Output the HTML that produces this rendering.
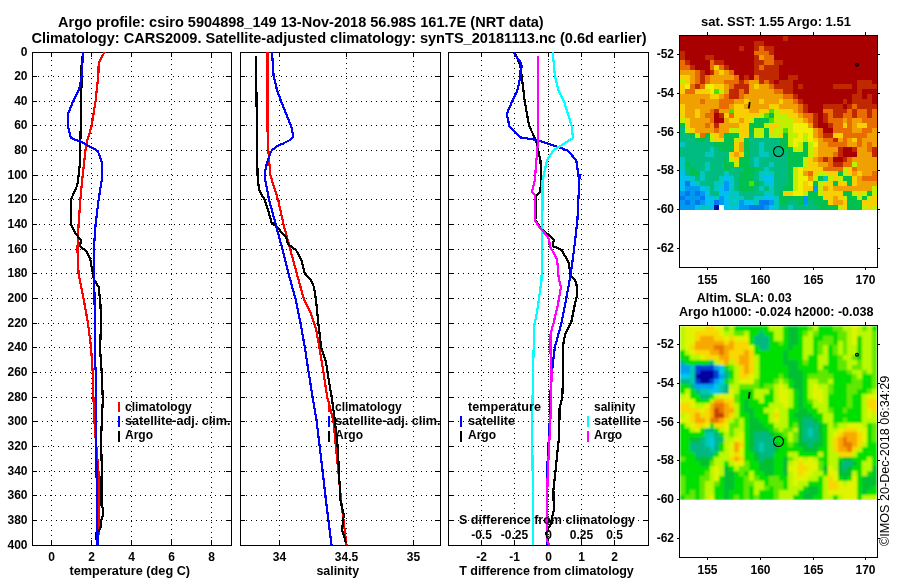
<!DOCTYPE html>
<html><head><meta charset="utf-8"><style>
html,body{margin:0;padding:0;background:#fff;width:900px;height:580px;overflow:hidden}
svg{display:block}
text{font-family:'Liberation Sans',Arial,sans-serif;fill:#000}
svg{will-change:transform}
</style></head><body>
<svg width="900" height="580" viewBox="0 0 900 580">
<rect width="900" height="580" fill="#fff"/>
<path d="M51 60h1v1h-1zM51 65h1v1h-1zM51 70h1v1h-1zM51 75h1v1h-1zM51 80h1v1h-1zM51 85h1v1h-1zM51 90h1v1h-1zM51 95h1v1h-1zM51 100h1v1h-1zM51 105h1v1h-1zM51 110h1v1h-1zM51 115h1v1h-1zM51 120h1v1h-1zM51 125h1v1h-1zM51 130h1v1h-1zM51 135h1v1h-1zM51 140h1v1h-1zM51 145h1v1h-1zM51 150h1v1h-1zM51 155h1v1h-1zM51 160h1v1h-1zM51 165h1v1h-1zM51 170h1v1h-1zM51 175h1v1h-1zM51 180h1v1h-1zM51 185h1v1h-1zM51 190h1v1h-1zM51 195h1v1h-1zM51 200h1v1h-1zM51 205h1v1h-1zM51 210h1v1h-1zM51 215h1v1h-1zM51 220h1v1h-1zM51 225h1v1h-1zM51 230h1v1h-1zM51 235h1v1h-1zM51 240h1v1h-1zM51 245h1v1h-1zM51 250h1v1h-1zM51 255h1v1h-1zM51 260h1v1h-1zM51 265h1v1h-1zM51 270h1v1h-1zM51 275h1v1h-1zM51 280h1v1h-1zM51 285h1v1h-1zM51 290h1v1h-1zM51 295h1v1h-1zM51 300h1v1h-1zM51 305h1v1h-1zM51 310h1v1h-1zM51 315h1v1h-1zM51 320h1v1h-1zM51 325h1v1h-1zM51 330h1v1h-1zM51 335h1v1h-1zM51 340h1v1h-1zM51 345h1v1h-1zM51 350h1v1h-1zM51 355h1v1h-1zM51 360h1v1h-1zM51 365h1v1h-1zM51 370h1v1h-1zM51 375h1v1h-1zM51 380h1v1h-1zM51 385h1v1h-1zM51 390h1v1h-1zM51 395h1v1h-1zM51 400h1v1h-1zM51 405h1v1h-1zM51 410h1v1h-1zM51 415h1v1h-1zM51 420h1v1h-1zM51 425h1v1h-1zM51 430h1v1h-1zM51 435h1v1h-1zM51 440h1v1h-1zM51 445h1v1h-1zM51 450h1v1h-1zM51 455h1v1h-1zM51 460h1v1h-1zM51 465h1v1h-1zM51 470h1v1h-1zM51 475h1v1h-1zM51 480h1v1h-1zM51 485h1v1h-1zM51 490h1v1h-1zM51 495h1v1h-1zM51 500h1v1h-1zM51 505h1v1h-1zM51 510h1v1h-1zM51 515h1v1h-1zM51 520h1v1h-1zM51 525h1v1h-1zM51 530h1v1h-1zM51 535h1v1h-1zM51 540h1v1h-1zM91 58h1v1h-1zM91 63h1v1h-1zM91 68h1v1h-1zM91 73h1v1h-1zM91 78h1v1h-1zM91 83h1v1h-1zM91 88h1v1h-1zM91 93h1v1h-1zM91 98h1v1h-1zM91 103h1v1h-1zM91 108h1v1h-1zM91 113h1v1h-1zM91 118h1v1h-1zM91 123h1v1h-1zM91 128h1v1h-1zM91 133h1v1h-1zM91 138h1v1h-1zM91 143h1v1h-1zM91 148h1v1h-1zM91 153h1v1h-1zM91 158h1v1h-1zM91 163h1v1h-1zM91 168h1v1h-1zM91 173h1v1h-1zM91 178h1v1h-1zM91 183h1v1h-1zM91 188h1v1h-1zM91 193h1v1h-1zM91 198h1v1h-1zM91 203h1v1h-1zM91 208h1v1h-1zM91 213h1v1h-1zM91 218h1v1h-1zM91 223h1v1h-1zM91 228h1v1h-1zM91 233h1v1h-1zM91 238h1v1h-1zM91 243h1v1h-1zM91 248h1v1h-1zM91 253h1v1h-1zM91 258h1v1h-1zM91 263h1v1h-1zM91 268h1v1h-1zM91 273h1v1h-1zM91 278h1v1h-1zM91 283h1v1h-1zM91 288h1v1h-1zM91 293h1v1h-1zM91 298h1v1h-1zM91 303h1v1h-1zM91 308h1v1h-1zM91 313h1v1h-1zM91 318h1v1h-1zM91 323h1v1h-1zM91 328h1v1h-1zM91 333h1v1h-1zM91 338h1v1h-1zM91 343h1v1h-1zM91 348h1v1h-1zM91 353h1v1h-1zM91 358h1v1h-1zM91 363h1v1h-1zM91 368h1v1h-1zM91 373h1v1h-1zM91 378h1v1h-1zM91 383h1v1h-1zM91 388h1v1h-1zM91 393h1v1h-1zM91 398h1v1h-1zM91 403h1v1h-1zM91 408h1v1h-1zM91 413h1v1h-1zM91 418h1v1h-1zM91 423h1v1h-1zM91 428h1v1h-1zM91 433h1v1h-1zM91 438h1v1h-1zM91 443h1v1h-1zM91 448h1v1h-1zM91 453h1v1h-1zM91 458h1v1h-1zM91 463h1v1h-1zM91 468h1v1h-1zM91 473h1v1h-1zM91 478h1v1h-1zM91 483h1v1h-1zM91 488h1v1h-1zM91 493h1v1h-1zM91 498h1v1h-1zM91 503h1v1h-1zM91 508h1v1h-1zM91 513h1v1h-1zM91 518h1v1h-1zM91 523h1v1h-1zM91 528h1v1h-1zM91 533h1v1h-1zM91 538h1v1h-1zM131 61h1v1h-1zM131 66h1v1h-1zM131 71h1v1h-1zM131 76h1v1h-1zM131 81h1v1h-1zM131 86h1v1h-1zM131 91h1v1h-1zM131 96h1v1h-1zM131 101h1v1h-1zM131 106h1v1h-1zM131 111h1v1h-1zM131 116h1v1h-1zM131 121h1v1h-1zM131 126h1v1h-1zM131 131h1v1h-1zM131 136h1v1h-1zM131 141h1v1h-1zM131 146h1v1h-1zM131 151h1v1h-1zM131 156h1v1h-1zM131 161h1v1h-1zM131 166h1v1h-1zM131 171h1v1h-1zM131 176h1v1h-1zM131 181h1v1h-1zM131 186h1v1h-1zM131 191h1v1h-1zM131 196h1v1h-1zM131 201h1v1h-1zM131 206h1v1h-1zM131 211h1v1h-1zM131 216h1v1h-1zM131 221h1v1h-1zM131 226h1v1h-1zM131 231h1v1h-1zM131 236h1v1h-1zM131 241h1v1h-1zM131 246h1v1h-1zM131 251h1v1h-1zM131 256h1v1h-1zM131 261h1v1h-1zM131 266h1v1h-1zM131 271h1v1h-1zM131 276h1v1h-1zM131 281h1v1h-1zM131 286h1v1h-1zM131 291h1v1h-1zM131 296h1v1h-1zM131 301h1v1h-1zM131 306h1v1h-1zM131 311h1v1h-1zM131 316h1v1h-1zM131 321h1v1h-1zM131 326h1v1h-1zM131 331h1v1h-1zM131 336h1v1h-1zM131 341h1v1h-1zM131 346h1v1h-1zM131 351h1v1h-1zM131 356h1v1h-1zM131 361h1v1h-1zM131 366h1v1h-1zM131 371h1v1h-1zM131 376h1v1h-1zM131 381h1v1h-1zM131 386h1v1h-1zM131 391h1v1h-1zM131 396h1v1h-1zM131 401h1v1h-1zM131 406h1v1h-1zM131 411h1v1h-1zM131 416h1v1h-1zM131 421h1v1h-1zM131 426h1v1h-1zM131 431h1v1h-1zM131 436h1v1h-1zM131 441h1v1h-1zM131 446h1v1h-1zM131 451h1v1h-1zM131 456h1v1h-1zM131 461h1v1h-1zM131 466h1v1h-1zM131 471h1v1h-1zM131 476h1v1h-1zM131 481h1v1h-1zM131 486h1v1h-1zM131 491h1v1h-1zM131 496h1v1h-1zM131 501h1v1h-1zM131 506h1v1h-1zM131 511h1v1h-1zM131 516h1v1h-1zM131 521h1v1h-1zM131 526h1v1h-1zM131 531h1v1h-1zM131 536h1v1h-1zM171 59h1v1h-1zM171 64h1v1h-1zM171 69h1v1h-1zM171 74h1v1h-1zM171 79h1v1h-1zM171 84h1v1h-1zM171 89h1v1h-1zM171 94h1v1h-1zM171 99h1v1h-1zM171 104h1v1h-1zM171 109h1v1h-1zM171 114h1v1h-1zM171 119h1v1h-1zM171 124h1v1h-1zM171 129h1v1h-1zM171 134h1v1h-1zM171 139h1v1h-1zM171 144h1v1h-1zM171 149h1v1h-1zM171 154h1v1h-1zM171 159h1v1h-1zM171 164h1v1h-1zM171 169h1v1h-1zM171 174h1v1h-1zM171 179h1v1h-1zM171 184h1v1h-1zM171 189h1v1h-1zM171 194h1v1h-1zM171 199h1v1h-1zM171 204h1v1h-1zM171 209h1v1h-1zM171 214h1v1h-1zM171 219h1v1h-1zM171 224h1v1h-1zM171 229h1v1h-1zM171 234h1v1h-1zM171 239h1v1h-1zM171 244h1v1h-1zM171 249h1v1h-1zM171 254h1v1h-1zM171 259h1v1h-1zM171 264h1v1h-1zM171 269h1v1h-1zM171 274h1v1h-1zM171 279h1v1h-1zM171 284h1v1h-1zM171 289h1v1h-1zM171 294h1v1h-1zM171 299h1v1h-1zM171 304h1v1h-1zM171 309h1v1h-1zM171 314h1v1h-1zM171 319h1v1h-1zM171 324h1v1h-1zM171 329h1v1h-1zM171 334h1v1h-1zM171 339h1v1h-1zM171 344h1v1h-1zM171 349h1v1h-1zM171 354h1v1h-1zM171 359h1v1h-1zM171 364h1v1h-1zM171 369h1v1h-1zM171 374h1v1h-1zM171 379h1v1h-1zM171 384h1v1h-1zM171 389h1v1h-1zM171 394h1v1h-1zM171 399h1v1h-1zM171 404h1v1h-1zM171 409h1v1h-1zM171 414h1v1h-1zM171 419h1v1h-1zM171 424h1v1h-1zM171 429h1v1h-1zM171 434h1v1h-1zM171 439h1v1h-1zM171 444h1v1h-1zM171 449h1v1h-1zM171 454h1v1h-1zM171 459h1v1h-1zM171 464h1v1h-1zM171 469h1v1h-1zM171 474h1v1h-1zM171 479h1v1h-1zM171 484h1v1h-1zM171 489h1v1h-1zM171 494h1v1h-1zM171 499h1v1h-1zM171 504h1v1h-1zM171 509h1v1h-1zM171 514h1v1h-1zM171 519h1v1h-1zM171 524h1v1h-1zM171 529h1v1h-1zM171 534h1v1h-1zM171 539h1v1h-1zM211 57h1v1h-1zM211 62h1v1h-1zM211 67h1v1h-1zM211 72h1v1h-1zM211 77h1v1h-1zM211 82h1v1h-1zM211 87h1v1h-1zM211 92h1v1h-1zM211 97h1v1h-1zM211 102h1v1h-1zM211 107h1v1h-1zM211 112h1v1h-1zM211 117h1v1h-1zM211 122h1v1h-1zM211 127h1v1h-1zM211 132h1v1h-1zM211 137h1v1h-1zM211 142h1v1h-1zM211 147h1v1h-1zM211 152h1v1h-1zM211 157h1v1h-1zM211 162h1v1h-1zM211 167h1v1h-1zM211 172h1v1h-1zM211 177h1v1h-1zM211 182h1v1h-1zM211 187h1v1h-1zM211 192h1v1h-1zM211 197h1v1h-1zM211 202h1v1h-1zM211 207h1v1h-1zM211 212h1v1h-1zM211 217h1v1h-1zM211 222h1v1h-1zM211 227h1v1h-1zM211 232h1v1h-1zM211 237h1v1h-1zM211 242h1v1h-1zM211 247h1v1h-1zM211 252h1v1h-1zM211 257h1v1h-1zM211 262h1v1h-1zM211 267h1v1h-1zM211 272h1v1h-1zM211 277h1v1h-1zM211 282h1v1h-1zM211 287h1v1h-1zM211 292h1v1h-1zM211 297h1v1h-1zM211 302h1v1h-1zM211 307h1v1h-1zM211 312h1v1h-1zM211 317h1v1h-1zM211 322h1v1h-1zM211 327h1v1h-1zM211 332h1v1h-1zM211 337h1v1h-1zM211 342h1v1h-1zM211 347h1v1h-1zM211 352h1v1h-1zM211 357h1v1h-1zM211 362h1v1h-1zM211 367h1v1h-1zM211 372h1v1h-1zM211 377h1v1h-1zM211 382h1v1h-1zM211 387h1v1h-1zM211 392h1v1h-1zM211 397h1v1h-1zM211 402h1v1h-1zM211 407h1v1h-1zM211 412h1v1h-1zM211 417h1v1h-1zM211 422h1v1h-1zM211 427h1v1h-1zM211 432h1v1h-1zM211 437h1v1h-1zM211 442h1v1h-1zM211 447h1v1h-1zM211 452h1v1h-1zM211 457h1v1h-1zM211 462h1v1h-1zM211 467h1v1h-1zM211 472h1v1h-1zM211 477h1v1h-1zM211 482h1v1h-1zM211 487h1v1h-1zM211 492h1v1h-1zM211 497h1v1h-1zM211 502h1v1h-1zM211 507h1v1h-1zM211 512h1v1h-1zM211 517h1v1h-1zM211 522h1v1h-1zM211 527h1v1h-1zM211 532h1v1h-1zM211 537h1v1h-1zM38 76h1v1h-1zM43 76h1v1h-1zM48 76h1v1h-1zM53 76h1v1h-1zM58 76h1v1h-1zM63 76h1v1h-1zM68 76h1v1h-1zM73 76h1v1h-1zM78 76h1v1h-1zM83 76h1v1h-1zM88 76h1v1h-1zM93 76h1v1h-1zM98 76h1v1h-1zM103 76h1v1h-1zM108 76h1v1h-1zM113 76h1v1h-1zM118 76h1v1h-1zM123 76h1v1h-1zM128 76h1v1h-1zM133 76h1v1h-1zM138 76h1v1h-1zM143 76h1v1h-1zM148 76h1v1h-1zM153 76h1v1h-1zM158 76h1v1h-1zM163 76h1v1h-1zM168 76h1v1h-1zM173 76h1v1h-1zM178 76h1v1h-1zM183 76h1v1h-1zM188 76h1v1h-1zM193 76h1v1h-1zM198 76h1v1h-1zM203 76h1v1h-1zM208 76h1v1h-1zM213 76h1v1h-1zM218 76h1v1h-1zM223 76h1v1h-1zM39 101h1v1h-1zM44 101h1v1h-1zM49 101h1v1h-1zM54 101h1v1h-1zM59 101h1v1h-1zM64 101h1v1h-1zM69 101h1v1h-1zM74 101h1v1h-1zM79 101h1v1h-1zM84 101h1v1h-1zM89 101h1v1h-1zM94 101h1v1h-1zM99 101h1v1h-1zM104 101h1v1h-1zM109 101h1v1h-1zM114 101h1v1h-1zM119 101h1v1h-1zM124 101h1v1h-1zM129 101h1v1h-1zM134 101h1v1h-1zM139 101h1v1h-1zM144 101h1v1h-1zM149 101h1v1h-1zM154 101h1v1h-1zM159 101h1v1h-1zM164 101h1v1h-1zM169 101h1v1h-1zM174 101h1v1h-1zM179 101h1v1h-1zM184 101h1v1h-1zM189 101h1v1h-1zM194 101h1v1h-1zM199 101h1v1h-1zM204 101h1v1h-1zM209 101h1v1h-1zM214 101h1v1h-1zM219 101h1v1h-1zM224 101h1v1h-1zM40 125h1v1h-1zM45 125h1v1h-1zM50 125h1v1h-1zM55 125h1v1h-1zM60 125h1v1h-1zM65 125h1v1h-1zM70 125h1v1h-1zM75 125h1v1h-1zM80 125h1v1h-1zM85 125h1v1h-1zM90 125h1v1h-1zM95 125h1v1h-1zM100 125h1v1h-1zM105 125h1v1h-1zM110 125h1v1h-1zM115 125h1v1h-1zM120 125h1v1h-1zM125 125h1v1h-1zM130 125h1v1h-1zM135 125h1v1h-1zM140 125h1v1h-1zM145 125h1v1h-1zM150 125h1v1h-1zM155 125h1v1h-1zM160 125h1v1h-1zM165 125h1v1h-1zM170 125h1v1h-1zM175 125h1v1h-1zM180 125h1v1h-1zM185 125h1v1h-1zM190 125h1v1h-1zM195 125h1v1h-1zM200 125h1v1h-1zM205 125h1v1h-1zM210 125h1v1h-1zM215 125h1v1h-1zM220 125h1v1h-1zM225 125h1v1h-1zM41 150h1v1h-1zM46 150h1v1h-1zM51 150h1v1h-1zM56 150h1v1h-1zM61 150h1v1h-1zM66 150h1v1h-1zM71 150h1v1h-1zM76 150h1v1h-1zM81 150h1v1h-1zM86 150h1v1h-1zM91 150h1v1h-1zM96 150h1v1h-1zM101 150h1v1h-1zM106 150h1v1h-1zM111 150h1v1h-1zM116 150h1v1h-1zM121 150h1v1h-1zM126 150h1v1h-1zM131 150h1v1h-1zM136 150h1v1h-1zM141 150h1v1h-1zM146 150h1v1h-1zM151 150h1v1h-1zM156 150h1v1h-1zM161 150h1v1h-1zM166 150h1v1h-1zM171 150h1v1h-1zM176 150h1v1h-1zM181 150h1v1h-1zM186 150h1v1h-1zM191 150h1v1h-1zM196 150h1v1h-1zM201 150h1v1h-1zM206 150h1v1h-1zM211 150h1v1h-1zM216 150h1v1h-1zM221 150h1v1h-1zM226 150h1v1h-1zM37 175h1v1h-1zM42 175h1v1h-1zM47 175h1v1h-1zM52 175h1v1h-1zM57 175h1v1h-1zM62 175h1v1h-1zM67 175h1v1h-1zM72 175h1v1h-1zM77 175h1v1h-1zM82 175h1v1h-1zM87 175h1v1h-1zM92 175h1v1h-1zM97 175h1v1h-1zM102 175h1v1h-1zM107 175h1v1h-1zM112 175h1v1h-1zM117 175h1v1h-1zM122 175h1v1h-1zM127 175h1v1h-1zM132 175h1v1h-1zM137 175h1v1h-1zM142 175h1v1h-1zM147 175h1v1h-1zM152 175h1v1h-1zM157 175h1v1h-1zM162 175h1v1h-1zM167 175h1v1h-1zM172 175h1v1h-1zM177 175h1v1h-1zM182 175h1v1h-1zM187 175h1v1h-1zM192 175h1v1h-1zM197 175h1v1h-1zM202 175h1v1h-1zM207 175h1v1h-1zM212 175h1v1h-1zM217 175h1v1h-1zM222 175h1v1h-1zM38 199h1v1h-1zM43 199h1v1h-1zM48 199h1v1h-1zM53 199h1v1h-1zM58 199h1v1h-1zM63 199h1v1h-1zM68 199h1v1h-1zM73 199h1v1h-1zM78 199h1v1h-1zM83 199h1v1h-1zM88 199h1v1h-1zM93 199h1v1h-1zM98 199h1v1h-1zM103 199h1v1h-1zM108 199h1v1h-1zM113 199h1v1h-1zM118 199h1v1h-1zM123 199h1v1h-1zM128 199h1v1h-1zM133 199h1v1h-1zM138 199h1v1h-1zM143 199h1v1h-1zM148 199h1v1h-1zM153 199h1v1h-1zM158 199h1v1h-1zM163 199h1v1h-1zM168 199h1v1h-1zM173 199h1v1h-1zM178 199h1v1h-1zM183 199h1v1h-1zM188 199h1v1h-1zM193 199h1v1h-1zM198 199h1v1h-1zM203 199h1v1h-1zM208 199h1v1h-1zM213 199h1v1h-1zM218 199h1v1h-1zM223 199h1v1h-1zM39 224h1v1h-1zM44 224h1v1h-1zM49 224h1v1h-1zM54 224h1v1h-1zM59 224h1v1h-1zM64 224h1v1h-1zM69 224h1v1h-1zM74 224h1v1h-1zM79 224h1v1h-1zM84 224h1v1h-1zM89 224h1v1h-1zM94 224h1v1h-1zM99 224h1v1h-1zM104 224h1v1h-1zM109 224h1v1h-1zM114 224h1v1h-1zM119 224h1v1h-1zM124 224h1v1h-1zM129 224h1v1h-1zM134 224h1v1h-1zM139 224h1v1h-1zM144 224h1v1h-1zM149 224h1v1h-1zM154 224h1v1h-1zM159 224h1v1h-1zM164 224h1v1h-1zM169 224h1v1h-1zM174 224h1v1h-1zM179 224h1v1h-1zM184 224h1v1h-1zM189 224h1v1h-1zM194 224h1v1h-1zM199 224h1v1h-1zM204 224h1v1h-1zM209 224h1v1h-1zM214 224h1v1h-1zM219 224h1v1h-1zM224 224h1v1h-1zM40 249h1v1h-1zM45 249h1v1h-1zM50 249h1v1h-1zM55 249h1v1h-1zM60 249h1v1h-1zM65 249h1v1h-1zM70 249h1v1h-1zM75 249h1v1h-1zM80 249h1v1h-1zM85 249h1v1h-1zM90 249h1v1h-1zM95 249h1v1h-1zM100 249h1v1h-1zM105 249h1v1h-1zM110 249h1v1h-1zM115 249h1v1h-1zM120 249h1v1h-1zM125 249h1v1h-1zM130 249h1v1h-1zM135 249h1v1h-1zM140 249h1v1h-1zM145 249h1v1h-1zM150 249h1v1h-1zM155 249h1v1h-1zM160 249h1v1h-1zM165 249h1v1h-1zM170 249h1v1h-1zM175 249h1v1h-1zM180 249h1v1h-1zM185 249h1v1h-1zM190 249h1v1h-1zM195 249h1v1h-1zM200 249h1v1h-1zM205 249h1v1h-1zM210 249h1v1h-1zM215 249h1v1h-1zM220 249h1v1h-1zM225 249h1v1h-1zM41 273h1v1h-1zM46 273h1v1h-1zM51 273h1v1h-1zM56 273h1v1h-1zM61 273h1v1h-1zM66 273h1v1h-1zM71 273h1v1h-1zM76 273h1v1h-1zM81 273h1v1h-1zM86 273h1v1h-1zM91 273h1v1h-1zM96 273h1v1h-1zM101 273h1v1h-1zM106 273h1v1h-1zM111 273h1v1h-1zM116 273h1v1h-1zM121 273h1v1h-1zM126 273h1v1h-1zM131 273h1v1h-1zM136 273h1v1h-1zM141 273h1v1h-1zM146 273h1v1h-1zM151 273h1v1h-1zM156 273h1v1h-1zM161 273h1v1h-1zM166 273h1v1h-1zM171 273h1v1h-1zM176 273h1v1h-1zM181 273h1v1h-1zM186 273h1v1h-1zM191 273h1v1h-1zM196 273h1v1h-1zM201 273h1v1h-1zM206 273h1v1h-1zM211 273h1v1h-1zM216 273h1v1h-1zM221 273h1v1h-1zM226 273h1v1h-1zM37 298h1v1h-1zM42 298h1v1h-1zM47 298h1v1h-1zM52 298h1v1h-1zM57 298h1v1h-1zM62 298h1v1h-1zM67 298h1v1h-1zM72 298h1v1h-1zM77 298h1v1h-1zM82 298h1v1h-1zM87 298h1v1h-1zM92 298h1v1h-1zM97 298h1v1h-1zM102 298h1v1h-1zM107 298h1v1h-1zM112 298h1v1h-1zM117 298h1v1h-1zM122 298h1v1h-1zM127 298h1v1h-1zM132 298h1v1h-1zM137 298h1v1h-1zM142 298h1v1h-1zM147 298h1v1h-1zM152 298h1v1h-1zM157 298h1v1h-1zM162 298h1v1h-1zM167 298h1v1h-1zM172 298h1v1h-1zM177 298h1v1h-1zM182 298h1v1h-1zM187 298h1v1h-1zM192 298h1v1h-1zM197 298h1v1h-1zM202 298h1v1h-1zM207 298h1v1h-1zM212 298h1v1h-1zM217 298h1v1h-1zM222 298h1v1h-1zM38 323h1v1h-1zM43 323h1v1h-1zM48 323h1v1h-1zM53 323h1v1h-1zM58 323h1v1h-1zM63 323h1v1h-1zM68 323h1v1h-1zM73 323h1v1h-1zM78 323h1v1h-1zM83 323h1v1h-1zM88 323h1v1h-1zM93 323h1v1h-1zM98 323h1v1h-1zM103 323h1v1h-1zM108 323h1v1h-1zM113 323h1v1h-1zM118 323h1v1h-1zM123 323h1v1h-1zM128 323h1v1h-1zM133 323h1v1h-1zM138 323h1v1h-1zM143 323h1v1h-1zM148 323h1v1h-1zM153 323h1v1h-1zM158 323h1v1h-1zM163 323h1v1h-1zM168 323h1v1h-1zM173 323h1v1h-1zM178 323h1v1h-1zM183 323h1v1h-1zM188 323h1v1h-1zM193 323h1v1h-1zM198 323h1v1h-1zM203 323h1v1h-1zM208 323h1v1h-1zM213 323h1v1h-1zM218 323h1v1h-1zM223 323h1v1h-1zM39 347h1v1h-1zM44 347h1v1h-1zM49 347h1v1h-1zM54 347h1v1h-1zM59 347h1v1h-1zM64 347h1v1h-1zM69 347h1v1h-1zM74 347h1v1h-1zM79 347h1v1h-1zM84 347h1v1h-1zM89 347h1v1h-1zM94 347h1v1h-1zM99 347h1v1h-1zM104 347h1v1h-1zM109 347h1v1h-1zM114 347h1v1h-1zM119 347h1v1h-1zM124 347h1v1h-1zM129 347h1v1h-1zM134 347h1v1h-1zM139 347h1v1h-1zM144 347h1v1h-1zM149 347h1v1h-1zM154 347h1v1h-1zM159 347h1v1h-1zM164 347h1v1h-1zM169 347h1v1h-1zM174 347h1v1h-1zM179 347h1v1h-1zM184 347h1v1h-1zM189 347h1v1h-1zM194 347h1v1h-1zM199 347h1v1h-1zM204 347h1v1h-1zM209 347h1v1h-1zM214 347h1v1h-1zM219 347h1v1h-1zM224 347h1v1h-1zM40 372h1v1h-1zM45 372h1v1h-1zM50 372h1v1h-1zM55 372h1v1h-1zM60 372h1v1h-1zM65 372h1v1h-1zM70 372h1v1h-1zM75 372h1v1h-1zM80 372h1v1h-1zM85 372h1v1h-1zM90 372h1v1h-1zM95 372h1v1h-1zM100 372h1v1h-1zM105 372h1v1h-1zM110 372h1v1h-1zM115 372h1v1h-1zM120 372h1v1h-1zM125 372h1v1h-1zM130 372h1v1h-1zM135 372h1v1h-1zM140 372h1v1h-1zM145 372h1v1h-1zM150 372h1v1h-1zM155 372h1v1h-1zM160 372h1v1h-1zM165 372h1v1h-1zM170 372h1v1h-1zM175 372h1v1h-1zM180 372h1v1h-1zM185 372h1v1h-1zM190 372h1v1h-1zM195 372h1v1h-1zM200 372h1v1h-1zM205 372h1v1h-1zM210 372h1v1h-1zM215 372h1v1h-1zM220 372h1v1h-1zM225 372h1v1h-1zM41 397h1v1h-1zM46 397h1v1h-1zM51 397h1v1h-1zM56 397h1v1h-1zM61 397h1v1h-1zM66 397h1v1h-1zM71 397h1v1h-1zM76 397h1v1h-1zM81 397h1v1h-1zM86 397h1v1h-1zM91 397h1v1h-1zM96 397h1v1h-1zM101 397h1v1h-1zM106 397h1v1h-1zM111 397h1v1h-1zM116 397h1v1h-1zM121 397h1v1h-1zM126 397h1v1h-1zM131 397h1v1h-1zM136 397h1v1h-1zM141 397h1v1h-1zM146 397h1v1h-1zM151 397h1v1h-1zM156 397h1v1h-1zM161 397h1v1h-1zM166 397h1v1h-1zM171 397h1v1h-1zM176 397h1v1h-1zM181 397h1v1h-1zM186 397h1v1h-1zM191 397h1v1h-1zM196 397h1v1h-1zM201 397h1v1h-1zM206 397h1v1h-1zM211 397h1v1h-1zM216 397h1v1h-1zM221 397h1v1h-1zM226 397h1v1h-1zM37 421h1v1h-1zM42 421h1v1h-1zM47 421h1v1h-1zM52 421h1v1h-1zM57 421h1v1h-1zM62 421h1v1h-1zM67 421h1v1h-1zM72 421h1v1h-1zM77 421h1v1h-1zM82 421h1v1h-1zM87 421h1v1h-1zM92 421h1v1h-1zM97 421h1v1h-1zM102 421h1v1h-1zM107 421h1v1h-1zM112 421h1v1h-1zM117 421h1v1h-1zM122 421h1v1h-1zM127 421h1v1h-1zM132 421h1v1h-1zM137 421h1v1h-1zM142 421h1v1h-1zM147 421h1v1h-1zM152 421h1v1h-1zM157 421h1v1h-1zM162 421h1v1h-1zM167 421h1v1h-1zM172 421h1v1h-1zM177 421h1v1h-1zM182 421h1v1h-1zM187 421h1v1h-1zM192 421h1v1h-1zM197 421h1v1h-1zM202 421h1v1h-1zM207 421h1v1h-1zM212 421h1v1h-1zM217 421h1v1h-1zM222 421h1v1h-1zM38 446h1v1h-1zM43 446h1v1h-1zM48 446h1v1h-1zM53 446h1v1h-1zM58 446h1v1h-1zM63 446h1v1h-1zM68 446h1v1h-1zM73 446h1v1h-1zM78 446h1v1h-1zM83 446h1v1h-1zM88 446h1v1h-1zM93 446h1v1h-1zM98 446h1v1h-1zM103 446h1v1h-1zM108 446h1v1h-1zM113 446h1v1h-1zM118 446h1v1h-1zM123 446h1v1h-1zM128 446h1v1h-1zM133 446h1v1h-1zM138 446h1v1h-1zM143 446h1v1h-1zM148 446h1v1h-1zM153 446h1v1h-1zM158 446h1v1h-1zM163 446h1v1h-1zM168 446h1v1h-1zM173 446h1v1h-1zM178 446h1v1h-1zM183 446h1v1h-1zM188 446h1v1h-1zM193 446h1v1h-1zM198 446h1v1h-1zM203 446h1v1h-1zM208 446h1v1h-1zM213 446h1v1h-1zM218 446h1v1h-1zM223 446h1v1h-1zM39 471h1v1h-1zM44 471h1v1h-1zM49 471h1v1h-1zM54 471h1v1h-1zM59 471h1v1h-1zM64 471h1v1h-1zM69 471h1v1h-1zM74 471h1v1h-1zM79 471h1v1h-1zM84 471h1v1h-1zM89 471h1v1h-1zM94 471h1v1h-1zM99 471h1v1h-1zM104 471h1v1h-1zM109 471h1v1h-1zM114 471h1v1h-1zM119 471h1v1h-1zM124 471h1v1h-1zM129 471h1v1h-1zM134 471h1v1h-1zM139 471h1v1h-1zM144 471h1v1h-1zM149 471h1v1h-1zM154 471h1v1h-1zM159 471h1v1h-1zM164 471h1v1h-1zM169 471h1v1h-1zM174 471h1v1h-1zM179 471h1v1h-1zM184 471h1v1h-1zM189 471h1v1h-1zM194 471h1v1h-1zM199 471h1v1h-1zM204 471h1v1h-1zM209 471h1v1h-1zM214 471h1v1h-1zM219 471h1v1h-1zM224 471h1v1h-1zM40 495h1v1h-1zM45 495h1v1h-1zM50 495h1v1h-1zM55 495h1v1h-1zM60 495h1v1h-1zM65 495h1v1h-1zM70 495h1v1h-1zM75 495h1v1h-1zM80 495h1v1h-1zM85 495h1v1h-1zM90 495h1v1h-1zM95 495h1v1h-1zM100 495h1v1h-1zM105 495h1v1h-1zM110 495h1v1h-1zM115 495h1v1h-1zM120 495h1v1h-1zM125 495h1v1h-1zM130 495h1v1h-1zM135 495h1v1h-1zM140 495h1v1h-1zM145 495h1v1h-1zM150 495h1v1h-1zM155 495h1v1h-1zM160 495h1v1h-1zM165 495h1v1h-1zM170 495h1v1h-1zM175 495h1v1h-1zM180 495h1v1h-1zM185 495h1v1h-1zM190 495h1v1h-1zM195 495h1v1h-1zM200 495h1v1h-1zM205 495h1v1h-1zM210 495h1v1h-1zM215 495h1v1h-1zM220 495h1v1h-1zM225 495h1v1h-1zM41 520h1v1h-1zM46 520h1v1h-1zM51 520h1v1h-1zM56 520h1v1h-1zM61 520h1v1h-1zM66 520h1v1h-1zM71 520h1v1h-1zM76 520h1v1h-1zM81 520h1v1h-1zM86 520h1v1h-1zM91 520h1v1h-1zM96 520h1v1h-1zM101 520h1v1h-1zM106 520h1v1h-1zM111 520h1v1h-1zM116 520h1v1h-1zM121 520h1v1h-1zM126 520h1v1h-1zM131 520h1v1h-1zM136 520h1v1h-1zM141 520h1v1h-1zM146 520h1v1h-1zM151 520h1v1h-1zM156 520h1v1h-1zM161 520h1v1h-1zM166 520h1v1h-1zM171 520h1v1h-1zM176 520h1v1h-1zM181 520h1v1h-1zM186 520h1v1h-1zM191 520h1v1h-1zM196 520h1v1h-1zM201 520h1v1h-1zM206 520h1v1h-1zM211 520h1v1h-1zM216 520h1v1h-1zM221 520h1v1h-1zM226 520h1v1h-1z" fill="#000"/>
<rect x="32" y="52" width="200" height="1" fill="#000"/>
<rect x="32" y="545" width="200" height="1" fill="#000"/>
<rect x="32" y="52" width="1" height="494" fill="#000"/>
<rect x="231" y="52" width="1" height="494" fill="#000"/>
<rect x="51" y="52" width="1" height="5" fill="#000"/>
<rect x="51" y="540" width="1" height="6" fill="#000"/>
<rect x="91" y="52" width="1" height="5" fill="#000"/>
<rect x="91" y="540" width="1" height="6" fill="#000"/>
<rect x="131" y="52" width="1" height="5" fill="#000"/>
<rect x="131" y="540" width="1" height="6" fill="#000"/>
<rect x="171" y="52" width="1" height="5" fill="#000"/>
<rect x="171" y="540" width="1" height="6" fill="#000"/>
<rect x="211" y="52" width="1" height="5" fill="#000"/>
<rect x="211" y="540" width="1" height="6" fill="#000"/>
<rect x="32" y="76" width="5" height="1" fill="#000"/>
<rect x="226" y="76" width="6" height="1" fill="#000"/>
<rect x="32" y="101" width="5" height="1" fill="#000"/>
<rect x="226" y="101" width="6" height="1" fill="#000"/>
<rect x="32" y="125" width="5" height="1" fill="#000"/>
<rect x="226" y="125" width="6" height="1" fill="#000"/>
<rect x="32" y="150" width="5" height="1" fill="#000"/>
<rect x="226" y="150" width="6" height="1" fill="#000"/>
<rect x="32" y="175" width="5" height="1" fill="#000"/>
<rect x="226" y="175" width="6" height="1" fill="#000"/>
<rect x="32" y="199" width="5" height="1" fill="#000"/>
<rect x="226" y="199" width="6" height="1" fill="#000"/>
<rect x="32" y="224" width="5" height="1" fill="#000"/>
<rect x="226" y="224" width="6" height="1" fill="#000"/>
<rect x="32" y="249" width="5" height="1" fill="#000"/>
<rect x="226" y="249" width="6" height="1" fill="#000"/>
<rect x="32" y="273" width="5" height="1" fill="#000"/>
<rect x="226" y="273" width="6" height="1" fill="#000"/>
<rect x="32" y="298" width="5" height="1" fill="#000"/>
<rect x="226" y="298" width="6" height="1" fill="#000"/>
<rect x="32" y="323" width="5" height="1" fill="#000"/>
<rect x="226" y="323" width="6" height="1" fill="#000"/>
<rect x="32" y="347" width="5" height="1" fill="#000"/>
<rect x="226" y="347" width="6" height="1" fill="#000"/>
<rect x="32" y="372" width="5" height="1" fill="#000"/>
<rect x="226" y="372" width="6" height="1" fill="#000"/>
<rect x="32" y="397" width="5" height="1" fill="#000"/>
<rect x="226" y="397" width="6" height="1" fill="#000"/>
<rect x="32" y="421" width="5" height="1" fill="#000"/>
<rect x="226" y="421" width="6" height="1" fill="#000"/>
<rect x="32" y="446" width="5" height="1" fill="#000"/>
<rect x="226" y="446" width="6" height="1" fill="#000"/>
<rect x="32" y="471" width="5" height="1" fill="#000"/>
<rect x="226" y="471" width="6" height="1" fill="#000"/>
<rect x="32" y="495" width="5" height="1" fill="#000"/>
<rect x="226" y="495" width="6" height="1" fill="#000"/>
<rect x="32" y="520" width="5" height="1" fill="#000"/>
<rect x="226" y="520" width="6" height="1" fill="#000"/>
<path d="M279 60h1v1h-1zM279 65h1v1h-1zM279 70h1v1h-1zM279 75h1v1h-1zM279 80h1v1h-1zM279 85h1v1h-1zM279 90h1v1h-1zM279 95h1v1h-1zM279 100h1v1h-1zM279 105h1v1h-1zM279 110h1v1h-1zM279 115h1v1h-1zM279 120h1v1h-1zM279 125h1v1h-1zM279 130h1v1h-1zM279 135h1v1h-1zM279 140h1v1h-1zM279 145h1v1h-1zM279 150h1v1h-1zM279 155h1v1h-1zM279 160h1v1h-1zM279 165h1v1h-1zM279 170h1v1h-1zM279 175h1v1h-1zM279 180h1v1h-1zM279 185h1v1h-1zM279 190h1v1h-1zM279 195h1v1h-1zM279 200h1v1h-1zM279 205h1v1h-1zM279 210h1v1h-1zM279 215h1v1h-1zM279 220h1v1h-1zM279 225h1v1h-1zM279 230h1v1h-1zM279 235h1v1h-1zM279 240h1v1h-1zM279 245h1v1h-1zM279 250h1v1h-1zM279 255h1v1h-1zM279 260h1v1h-1zM279 265h1v1h-1zM279 270h1v1h-1zM279 275h1v1h-1zM279 280h1v1h-1zM279 285h1v1h-1zM279 290h1v1h-1zM279 295h1v1h-1zM279 300h1v1h-1zM279 305h1v1h-1zM279 310h1v1h-1zM279 315h1v1h-1zM279 320h1v1h-1zM279 325h1v1h-1zM279 330h1v1h-1zM279 335h1v1h-1zM279 340h1v1h-1zM279 345h1v1h-1zM279 350h1v1h-1zM279 355h1v1h-1zM279 360h1v1h-1zM279 365h1v1h-1zM279 370h1v1h-1zM279 375h1v1h-1zM279 380h1v1h-1zM279 385h1v1h-1zM279 390h1v1h-1zM279 395h1v1h-1zM279 400h1v1h-1zM279 405h1v1h-1zM279 410h1v1h-1zM279 415h1v1h-1zM279 420h1v1h-1zM279 425h1v1h-1zM279 430h1v1h-1zM279 435h1v1h-1zM279 440h1v1h-1zM279 445h1v1h-1zM279 450h1v1h-1zM279 455h1v1h-1zM279 460h1v1h-1zM279 465h1v1h-1zM279 470h1v1h-1zM279 475h1v1h-1zM279 480h1v1h-1zM279 485h1v1h-1zM279 490h1v1h-1zM279 495h1v1h-1zM279 500h1v1h-1zM279 505h1v1h-1zM279 510h1v1h-1zM279 515h1v1h-1zM279 520h1v1h-1zM279 525h1v1h-1zM279 530h1v1h-1zM279 535h1v1h-1zM279 540h1v1h-1zM346 58h1v1h-1zM346 63h1v1h-1zM346 68h1v1h-1zM346 73h1v1h-1zM346 78h1v1h-1zM346 83h1v1h-1zM346 88h1v1h-1zM346 93h1v1h-1zM346 98h1v1h-1zM346 103h1v1h-1zM346 108h1v1h-1zM346 113h1v1h-1zM346 118h1v1h-1zM346 123h1v1h-1zM346 128h1v1h-1zM346 133h1v1h-1zM346 138h1v1h-1zM346 143h1v1h-1zM346 148h1v1h-1zM346 153h1v1h-1zM346 158h1v1h-1zM346 163h1v1h-1zM346 168h1v1h-1zM346 173h1v1h-1zM346 178h1v1h-1zM346 183h1v1h-1zM346 188h1v1h-1zM346 193h1v1h-1zM346 198h1v1h-1zM346 203h1v1h-1zM346 208h1v1h-1zM346 213h1v1h-1zM346 218h1v1h-1zM346 223h1v1h-1zM346 228h1v1h-1zM346 233h1v1h-1zM346 238h1v1h-1zM346 243h1v1h-1zM346 248h1v1h-1zM346 253h1v1h-1zM346 258h1v1h-1zM346 263h1v1h-1zM346 268h1v1h-1zM346 273h1v1h-1zM346 278h1v1h-1zM346 283h1v1h-1zM346 288h1v1h-1zM346 293h1v1h-1zM346 298h1v1h-1zM346 303h1v1h-1zM346 308h1v1h-1zM346 313h1v1h-1zM346 318h1v1h-1zM346 323h1v1h-1zM346 328h1v1h-1zM346 333h1v1h-1zM346 338h1v1h-1zM346 343h1v1h-1zM346 348h1v1h-1zM346 353h1v1h-1zM346 358h1v1h-1zM346 363h1v1h-1zM346 368h1v1h-1zM346 373h1v1h-1zM346 378h1v1h-1zM346 383h1v1h-1zM346 388h1v1h-1zM346 393h1v1h-1zM346 398h1v1h-1zM346 403h1v1h-1zM346 408h1v1h-1zM346 413h1v1h-1zM346 418h1v1h-1zM346 423h1v1h-1zM346 428h1v1h-1zM346 433h1v1h-1zM346 438h1v1h-1zM346 443h1v1h-1zM346 448h1v1h-1zM346 453h1v1h-1zM346 458h1v1h-1zM346 463h1v1h-1zM346 468h1v1h-1zM346 473h1v1h-1zM346 478h1v1h-1zM346 483h1v1h-1zM346 488h1v1h-1zM346 493h1v1h-1zM346 498h1v1h-1zM346 503h1v1h-1zM346 508h1v1h-1zM346 513h1v1h-1zM346 518h1v1h-1zM346 523h1v1h-1zM346 528h1v1h-1zM346 533h1v1h-1zM346 538h1v1h-1zM413 61h1v1h-1zM413 66h1v1h-1zM413 71h1v1h-1zM413 76h1v1h-1zM413 81h1v1h-1zM413 86h1v1h-1zM413 91h1v1h-1zM413 96h1v1h-1zM413 101h1v1h-1zM413 106h1v1h-1zM413 111h1v1h-1zM413 116h1v1h-1zM413 121h1v1h-1zM413 126h1v1h-1zM413 131h1v1h-1zM413 136h1v1h-1zM413 141h1v1h-1zM413 146h1v1h-1zM413 151h1v1h-1zM413 156h1v1h-1zM413 161h1v1h-1zM413 166h1v1h-1zM413 171h1v1h-1zM413 176h1v1h-1zM413 181h1v1h-1zM413 186h1v1h-1zM413 191h1v1h-1zM413 196h1v1h-1zM413 201h1v1h-1zM413 206h1v1h-1zM413 211h1v1h-1zM413 216h1v1h-1zM413 221h1v1h-1zM413 226h1v1h-1zM413 231h1v1h-1zM413 236h1v1h-1zM413 241h1v1h-1zM413 246h1v1h-1zM413 251h1v1h-1zM413 256h1v1h-1zM413 261h1v1h-1zM413 266h1v1h-1zM413 271h1v1h-1zM413 276h1v1h-1zM413 281h1v1h-1zM413 286h1v1h-1zM413 291h1v1h-1zM413 296h1v1h-1zM413 301h1v1h-1zM413 306h1v1h-1zM413 311h1v1h-1zM413 316h1v1h-1zM413 321h1v1h-1zM413 326h1v1h-1zM413 331h1v1h-1zM413 336h1v1h-1zM413 341h1v1h-1zM413 346h1v1h-1zM413 351h1v1h-1zM413 356h1v1h-1zM413 361h1v1h-1zM413 366h1v1h-1zM413 371h1v1h-1zM413 376h1v1h-1zM413 381h1v1h-1zM413 386h1v1h-1zM413 391h1v1h-1zM413 396h1v1h-1zM413 401h1v1h-1zM413 406h1v1h-1zM413 411h1v1h-1zM413 416h1v1h-1zM413 421h1v1h-1zM413 426h1v1h-1zM413 431h1v1h-1zM413 436h1v1h-1zM413 441h1v1h-1zM413 446h1v1h-1zM413 451h1v1h-1zM413 456h1v1h-1zM413 461h1v1h-1zM413 466h1v1h-1zM413 471h1v1h-1zM413 476h1v1h-1zM413 481h1v1h-1zM413 486h1v1h-1zM413 491h1v1h-1zM413 496h1v1h-1zM413 501h1v1h-1zM413 506h1v1h-1zM413 511h1v1h-1zM413 516h1v1h-1zM413 521h1v1h-1zM413 526h1v1h-1zM413 531h1v1h-1zM413 536h1v1h-1zM246 76h1v1h-1zM251 76h1v1h-1zM256 76h1v1h-1zM261 76h1v1h-1zM266 76h1v1h-1zM271 76h1v1h-1zM276 76h1v1h-1zM281 76h1v1h-1zM286 76h1v1h-1zM291 76h1v1h-1zM296 76h1v1h-1zM301 76h1v1h-1zM306 76h1v1h-1zM311 76h1v1h-1zM316 76h1v1h-1zM321 76h1v1h-1zM326 76h1v1h-1zM331 76h1v1h-1zM336 76h1v1h-1zM341 76h1v1h-1zM346 76h1v1h-1zM351 76h1v1h-1zM356 76h1v1h-1zM361 76h1v1h-1zM366 76h1v1h-1zM371 76h1v1h-1zM376 76h1v1h-1zM381 76h1v1h-1zM386 76h1v1h-1zM391 76h1v1h-1zM396 76h1v1h-1zM401 76h1v1h-1zM406 76h1v1h-1zM411 76h1v1h-1zM416 76h1v1h-1zM421 76h1v1h-1zM426 76h1v1h-1zM431 76h1v1h-1zM246 101h1v1h-1zM251 101h1v1h-1zM256 101h1v1h-1zM261 101h1v1h-1zM266 101h1v1h-1zM271 101h1v1h-1zM276 101h1v1h-1zM281 101h1v1h-1zM286 101h1v1h-1zM291 101h1v1h-1zM296 101h1v1h-1zM301 101h1v1h-1zM306 101h1v1h-1zM311 101h1v1h-1zM316 101h1v1h-1zM321 101h1v1h-1zM326 101h1v1h-1zM331 101h1v1h-1zM336 101h1v1h-1zM341 101h1v1h-1zM346 101h1v1h-1zM351 101h1v1h-1zM356 101h1v1h-1zM361 101h1v1h-1zM366 101h1v1h-1zM371 101h1v1h-1zM376 101h1v1h-1zM381 101h1v1h-1zM386 101h1v1h-1zM391 101h1v1h-1zM396 101h1v1h-1zM401 101h1v1h-1zM406 101h1v1h-1zM411 101h1v1h-1zM416 101h1v1h-1zM421 101h1v1h-1zM426 101h1v1h-1zM431 101h1v1h-1zM246 125h1v1h-1zM251 125h1v1h-1zM256 125h1v1h-1zM261 125h1v1h-1zM266 125h1v1h-1zM271 125h1v1h-1zM276 125h1v1h-1zM281 125h1v1h-1zM286 125h1v1h-1zM291 125h1v1h-1zM296 125h1v1h-1zM301 125h1v1h-1zM306 125h1v1h-1zM311 125h1v1h-1zM316 125h1v1h-1zM321 125h1v1h-1zM326 125h1v1h-1zM331 125h1v1h-1zM336 125h1v1h-1zM341 125h1v1h-1zM346 125h1v1h-1zM351 125h1v1h-1zM356 125h1v1h-1zM361 125h1v1h-1zM366 125h1v1h-1zM371 125h1v1h-1zM376 125h1v1h-1zM381 125h1v1h-1zM386 125h1v1h-1zM391 125h1v1h-1zM396 125h1v1h-1zM401 125h1v1h-1zM406 125h1v1h-1zM411 125h1v1h-1zM416 125h1v1h-1zM421 125h1v1h-1zM426 125h1v1h-1zM431 125h1v1h-1zM246 150h1v1h-1zM251 150h1v1h-1zM256 150h1v1h-1zM261 150h1v1h-1zM266 150h1v1h-1zM271 150h1v1h-1zM276 150h1v1h-1zM281 150h1v1h-1zM286 150h1v1h-1zM291 150h1v1h-1zM296 150h1v1h-1zM301 150h1v1h-1zM306 150h1v1h-1zM311 150h1v1h-1zM316 150h1v1h-1zM321 150h1v1h-1zM326 150h1v1h-1zM331 150h1v1h-1zM336 150h1v1h-1zM341 150h1v1h-1zM346 150h1v1h-1zM351 150h1v1h-1zM356 150h1v1h-1zM361 150h1v1h-1zM366 150h1v1h-1zM371 150h1v1h-1zM376 150h1v1h-1zM381 150h1v1h-1zM386 150h1v1h-1zM391 150h1v1h-1zM396 150h1v1h-1zM401 150h1v1h-1zM406 150h1v1h-1zM411 150h1v1h-1zM416 150h1v1h-1zM421 150h1v1h-1zM426 150h1v1h-1zM431 150h1v1h-1zM246 175h1v1h-1zM251 175h1v1h-1zM256 175h1v1h-1zM261 175h1v1h-1zM266 175h1v1h-1zM271 175h1v1h-1zM276 175h1v1h-1zM281 175h1v1h-1zM286 175h1v1h-1zM291 175h1v1h-1zM296 175h1v1h-1zM301 175h1v1h-1zM306 175h1v1h-1zM311 175h1v1h-1zM316 175h1v1h-1zM321 175h1v1h-1zM326 175h1v1h-1zM331 175h1v1h-1zM336 175h1v1h-1zM341 175h1v1h-1zM346 175h1v1h-1zM351 175h1v1h-1zM356 175h1v1h-1zM361 175h1v1h-1zM366 175h1v1h-1zM371 175h1v1h-1zM376 175h1v1h-1zM381 175h1v1h-1zM386 175h1v1h-1zM391 175h1v1h-1zM396 175h1v1h-1zM401 175h1v1h-1zM406 175h1v1h-1zM411 175h1v1h-1zM416 175h1v1h-1zM421 175h1v1h-1zM426 175h1v1h-1zM431 175h1v1h-1zM246 199h1v1h-1zM251 199h1v1h-1zM256 199h1v1h-1zM261 199h1v1h-1zM266 199h1v1h-1zM271 199h1v1h-1zM276 199h1v1h-1zM281 199h1v1h-1zM286 199h1v1h-1zM291 199h1v1h-1zM296 199h1v1h-1zM301 199h1v1h-1zM306 199h1v1h-1zM311 199h1v1h-1zM316 199h1v1h-1zM321 199h1v1h-1zM326 199h1v1h-1zM331 199h1v1h-1zM336 199h1v1h-1zM341 199h1v1h-1zM346 199h1v1h-1zM351 199h1v1h-1zM356 199h1v1h-1zM361 199h1v1h-1zM366 199h1v1h-1zM371 199h1v1h-1zM376 199h1v1h-1zM381 199h1v1h-1zM386 199h1v1h-1zM391 199h1v1h-1zM396 199h1v1h-1zM401 199h1v1h-1zM406 199h1v1h-1zM411 199h1v1h-1zM416 199h1v1h-1zM421 199h1v1h-1zM426 199h1v1h-1zM431 199h1v1h-1zM246 224h1v1h-1zM251 224h1v1h-1zM256 224h1v1h-1zM261 224h1v1h-1zM266 224h1v1h-1zM271 224h1v1h-1zM276 224h1v1h-1zM281 224h1v1h-1zM286 224h1v1h-1zM291 224h1v1h-1zM296 224h1v1h-1zM301 224h1v1h-1zM306 224h1v1h-1zM311 224h1v1h-1zM316 224h1v1h-1zM321 224h1v1h-1zM326 224h1v1h-1zM331 224h1v1h-1zM336 224h1v1h-1zM341 224h1v1h-1zM346 224h1v1h-1zM351 224h1v1h-1zM356 224h1v1h-1zM361 224h1v1h-1zM366 224h1v1h-1zM371 224h1v1h-1zM376 224h1v1h-1zM381 224h1v1h-1zM386 224h1v1h-1zM391 224h1v1h-1zM396 224h1v1h-1zM401 224h1v1h-1zM406 224h1v1h-1zM411 224h1v1h-1zM416 224h1v1h-1zM421 224h1v1h-1zM426 224h1v1h-1zM431 224h1v1h-1zM246 249h1v1h-1zM251 249h1v1h-1zM256 249h1v1h-1zM261 249h1v1h-1zM266 249h1v1h-1zM271 249h1v1h-1zM276 249h1v1h-1zM281 249h1v1h-1zM286 249h1v1h-1zM291 249h1v1h-1zM296 249h1v1h-1zM301 249h1v1h-1zM306 249h1v1h-1zM311 249h1v1h-1zM316 249h1v1h-1zM321 249h1v1h-1zM326 249h1v1h-1zM331 249h1v1h-1zM336 249h1v1h-1zM341 249h1v1h-1zM346 249h1v1h-1zM351 249h1v1h-1zM356 249h1v1h-1zM361 249h1v1h-1zM366 249h1v1h-1zM371 249h1v1h-1zM376 249h1v1h-1zM381 249h1v1h-1zM386 249h1v1h-1zM391 249h1v1h-1zM396 249h1v1h-1zM401 249h1v1h-1zM406 249h1v1h-1zM411 249h1v1h-1zM416 249h1v1h-1zM421 249h1v1h-1zM426 249h1v1h-1zM431 249h1v1h-1zM246 273h1v1h-1zM251 273h1v1h-1zM256 273h1v1h-1zM261 273h1v1h-1zM266 273h1v1h-1zM271 273h1v1h-1zM276 273h1v1h-1zM281 273h1v1h-1zM286 273h1v1h-1zM291 273h1v1h-1zM296 273h1v1h-1zM301 273h1v1h-1zM306 273h1v1h-1zM311 273h1v1h-1zM316 273h1v1h-1zM321 273h1v1h-1zM326 273h1v1h-1zM331 273h1v1h-1zM336 273h1v1h-1zM341 273h1v1h-1zM346 273h1v1h-1zM351 273h1v1h-1zM356 273h1v1h-1zM361 273h1v1h-1zM366 273h1v1h-1zM371 273h1v1h-1zM376 273h1v1h-1zM381 273h1v1h-1zM386 273h1v1h-1zM391 273h1v1h-1zM396 273h1v1h-1zM401 273h1v1h-1zM406 273h1v1h-1zM411 273h1v1h-1zM416 273h1v1h-1zM421 273h1v1h-1zM426 273h1v1h-1zM431 273h1v1h-1zM246 298h1v1h-1zM251 298h1v1h-1zM256 298h1v1h-1zM261 298h1v1h-1zM266 298h1v1h-1zM271 298h1v1h-1zM276 298h1v1h-1zM281 298h1v1h-1zM286 298h1v1h-1zM291 298h1v1h-1zM296 298h1v1h-1zM301 298h1v1h-1zM306 298h1v1h-1zM311 298h1v1h-1zM316 298h1v1h-1zM321 298h1v1h-1zM326 298h1v1h-1zM331 298h1v1h-1zM336 298h1v1h-1zM341 298h1v1h-1zM346 298h1v1h-1zM351 298h1v1h-1zM356 298h1v1h-1zM361 298h1v1h-1zM366 298h1v1h-1zM371 298h1v1h-1zM376 298h1v1h-1zM381 298h1v1h-1zM386 298h1v1h-1zM391 298h1v1h-1zM396 298h1v1h-1zM401 298h1v1h-1zM406 298h1v1h-1zM411 298h1v1h-1zM416 298h1v1h-1zM421 298h1v1h-1zM426 298h1v1h-1zM431 298h1v1h-1zM246 323h1v1h-1zM251 323h1v1h-1zM256 323h1v1h-1zM261 323h1v1h-1zM266 323h1v1h-1zM271 323h1v1h-1zM276 323h1v1h-1zM281 323h1v1h-1zM286 323h1v1h-1zM291 323h1v1h-1zM296 323h1v1h-1zM301 323h1v1h-1zM306 323h1v1h-1zM311 323h1v1h-1zM316 323h1v1h-1zM321 323h1v1h-1zM326 323h1v1h-1zM331 323h1v1h-1zM336 323h1v1h-1zM341 323h1v1h-1zM346 323h1v1h-1zM351 323h1v1h-1zM356 323h1v1h-1zM361 323h1v1h-1zM366 323h1v1h-1zM371 323h1v1h-1zM376 323h1v1h-1zM381 323h1v1h-1zM386 323h1v1h-1zM391 323h1v1h-1zM396 323h1v1h-1zM401 323h1v1h-1zM406 323h1v1h-1zM411 323h1v1h-1zM416 323h1v1h-1zM421 323h1v1h-1zM426 323h1v1h-1zM431 323h1v1h-1zM246 347h1v1h-1zM251 347h1v1h-1zM256 347h1v1h-1zM261 347h1v1h-1zM266 347h1v1h-1zM271 347h1v1h-1zM276 347h1v1h-1zM281 347h1v1h-1zM286 347h1v1h-1zM291 347h1v1h-1zM296 347h1v1h-1zM301 347h1v1h-1zM306 347h1v1h-1zM311 347h1v1h-1zM316 347h1v1h-1zM321 347h1v1h-1zM326 347h1v1h-1zM331 347h1v1h-1zM336 347h1v1h-1zM341 347h1v1h-1zM346 347h1v1h-1zM351 347h1v1h-1zM356 347h1v1h-1zM361 347h1v1h-1zM366 347h1v1h-1zM371 347h1v1h-1zM376 347h1v1h-1zM381 347h1v1h-1zM386 347h1v1h-1zM391 347h1v1h-1zM396 347h1v1h-1zM401 347h1v1h-1zM406 347h1v1h-1zM411 347h1v1h-1zM416 347h1v1h-1zM421 347h1v1h-1zM426 347h1v1h-1zM431 347h1v1h-1zM246 372h1v1h-1zM251 372h1v1h-1zM256 372h1v1h-1zM261 372h1v1h-1zM266 372h1v1h-1zM271 372h1v1h-1zM276 372h1v1h-1zM281 372h1v1h-1zM286 372h1v1h-1zM291 372h1v1h-1zM296 372h1v1h-1zM301 372h1v1h-1zM306 372h1v1h-1zM311 372h1v1h-1zM316 372h1v1h-1zM321 372h1v1h-1zM326 372h1v1h-1zM331 372h1v1h-1zM336 372h1v1h-1zM341 372h1v1h-1zM346 372h1v1h-1zM351 372h1v1h-1zM356 372h1v1h-1zM361 372h1v1h-1zM366 372h1v1h-1zM371 372h1v1h-1zM376 372h1v1h-1zM381 372h1v1h-1zM386 372h1v1h-1zM391 372h1v1h-1zM396 372h1v1h-1zM401 372h1v1h-1zM406 372h1v1h-1zM411 372h1v1h-1zM416 372h1v1h-1zM421 372h1v1h-1zM426 372h1v1h-1zM431 372h1v1h-1zM246 397h1v1h-1zM251 397h1v1h-1zM256 397h1v1h-1zM261 397h1v1h-1zM266 397h1v1h-1zM271 397h1v1h-1zM276 397h1v1h-1zM281 397h1v1h-1zM286 397h1v1h-1zM291 397h1v1h-1zM296 397h1v1h-1zM301 397h1v1h-1zM306 397h1v1h-1zM311 397h1v1h-1zM316 397h1v1h-1zM321 397h1v1h-1zM326 397h1v1h-1zM331 397h1v1h-1zM336 397h1v1h-1zM341 397h1v1h-1zM346 397h1v1h-1zM351 397h1v1h-1zM356 397h1v1h-1zM361 397h1v1h-1zM366 397h1v1h-1zM371 397h1v1h-1zM376 397h1v1h-1zM381 397h1v1h-1zM386 397h1v1h-1zM391 397h1v1h-1zM396 397h1v1h-1zM401 397h1v1h-1zM406 397h1v1h-1zM411 397h1v1h-1zM416 397h1v1h-1zM421 397h1v1h-1zM426 397h1v1h-1zM431 397h1v1h-1zM246 421h1v1h-1zM251 421h1v1h-1zM256 421h1v1h-1zM261 421h1v1h-1zM266 421h1v1h-1zM271 421h1v1h-1zM276 421h1v1h-1zM281 421h1v1h-1zM286 421h1v1h-1zM291 421h1v1h-1zM296 421h1v1h-1zM301 421h1v1h-1zM306 421h1v1h-1zM311 421h1v1h-1zM316 421h1v1h-1zM321 421h1v1h-1zM326 421h1v1h-1zM331 421h1v1h-1zM336 421h1v1h-1zM341 421h1v1h-1zM346 421h1v1h-1zM351 421h1v1h-1zM356 421h1v1h-1zM361 421h1v1h-1zM366 421h1v1h-1zM371 421h1v1h-1zM376 421h1v1h-1zM381 421h1v1h-1zM386 421h1v1h-1zM391 421h1v1h-1zM396 421h1v1h-1zM401 421h1v1h-1zM406 421h1v1h-1zM411 421h1v1h-1zM416 421h1v1h-1zM421 421h1v1h-1zM426 421h1v1h-1zM431 421h1v1h-1zM246 446h1v1h-1zM251 446h1v1h-1zM256 446h1v1h-1zM261 446h1v1h-1zM266 446h1v1h-1zM271 446h1v1h-1zM276 446h1v1h-1zM281 446h1v1h-1zM286 446h1v1h-1zM291 446h1v1h-1zM296 446h1v1h-1zM301 446h1v1h-1zM306 446h1v1h-1zM311 446h1v1h-1zM316 446h1v1h-1zM321 446h1v1h-1zM326 446h1v1h-1zM331 446h1v1h-1zM336 446h1v1h-1zM341 446h1v1h-1zM346 446h1v1h-1zM351 446h1v1h-1zM356 446h1v1h-1zM361 446h1v1h-1zM366 446h1v1h-1zM371 446h1v1h-1zM376 446h1v1h-1zM381 446h1v1h-1zM386 446h1v1h-1zM391 446h1v1h-1zM396 446h1v1h-1zM401 446h1v1h-1zM406 446h1v1h-1zM411 446h1v1h-1zM416 446h1v1h-1zM421 446h1v1h-1zM426 446h1v1h-1zM431 446h1v1h-1zM246 471h1v1h-1zM251 471h1v1h-1zM256 471h1v1h-1zM261 471h1v1h-1zM266 471h1v1h-1zM271 471h1v1h-1zM276 471h1v1h-1zM281 471h1v1h-1zM286 471h1v1h-1zM291 471h1v1h-1zM296 471h1v1h-1zM301 471h1v1h-1zM306 471h1v1h-1zM311 471h1v1h-1zM316 471h1v1h-1zM321 471h1v1h-1zM326 471h1v1h-1zM331 471h1v1h-1zM336 471h1v1h-1zM341 471h1v1h-1zM346 471h1v1h-1zM351 471h1v1h-1zM356 471h1v1h-1zM361 471h1v1h-1zM366 471h1v1h-1zM371 471h1v1h-1zM376 471h1v1h-1zM381 471h1v1h-1zM386 471h1v1h-1zM391 471h1v1h-1zM396 471h1v1h-1zM401 471h1v1h-1zM406 471h1v1h-1zM411 471h1v1h-1zM416 471h1v1h-1zM421 471h1v1h-1zM426 471h1v1h-1zM431 471h1v1h-1zM246 495h1v1h-1zM251 495h1v1h-1zM256 495h1v1h-1zM261 495h1v1h-1zM266 495h1v1h-1zM271 495h1v1h-1zM276 495h1v1h-1zM281 495h1v1h-1zM286 495h1v1h-1zM291 495h1v1h-1zM296 495h1v1h-1zM301 495h1v1h-1zM306 495h1v1h-1zM311 495h1v1h-1zM316 495h1v1h-1zM321 495h1v1h-1zM326 495h1v1h-1zM331 495h1v1h-1zM336 495h1v1h-1zM341 495h1v1h-1zM346 495h1v1h-1zM351 495h1v1h-1zM356 495h1v1h-1zM361 495h1v1h-1zM366 495h1v1h-1zM371 495h1v1h-1zM376 495h1v1h-1zM381 495h1v1h-1zM386 495h1v1h-1zM391 495h1v1h-1zM396 495h1v1h-1zM401 495h1v1h-1zM406 495h1v1h-1zM411 495h1v1h-1zM416 495h1v1h-1zM421 495h1v1h-1zM426 495h1v1h-1zM431 495h1v1h-1zM246 520h1v1h-1zM251 520h1v1h-1zM256 520h1v1h-1zM261 520h1v1h-1zM266 520h1v1h-1zM271 520h1v1h-1zM276 520h1v1h-1zM281 520h1v1h-1zM286 520h1v1h-1zM291 520h1v1h-1zM296 520h1v1h-1zM301 520h1v1h-1zM306 520h1v1h-1zM311 520h1v1h-1zM316 520h1v1h-1zM321 520h1v1h-1zM326 520h1v1h-1zM331 520h1v1h-1zM336 520h1v1h-1zM341 520h1v1h-1zM346 520h1v1h-1zM351 520h1v1h-1zM356 520h1v1h-1zM361 520h1v1h-1zM366 520h1v1h-1zM371 520h1v1h-1zM376 520h1v1h-1zM381 520h1v1h-1zM386 520h1v1h-1zM391 520h1v1h-1zM396 520h1v1h-1zM401 520h1v1h-1zM406 520h1v1h-1zM411 520h1v1h-1zM416 520h1v1h-1zM421 520h1v1h-1zM426 520h1v1h-1zM431 520h1v1h-1z" fill="#000"/>
<rect x="240" y="52" width="201" height="1" fill="#000"/>
<rect x="240" y="545" width="201" height="1" fill="#000"/>
<rect x="240" y="52" width="1" height="494" fill="#000"/>
<rect x="440" y="52" width="1" height="494" fill="#000"/>
<rect x="279" y="52" width="1" height="5" fill="#000"/>
<rect x="279" y="540" width="1" height="6" fill="#000"/>
<rect x="346" y="52" width="1" height="5" fill="#000"/>
<rect x="346" y="540" width="1" height="6" fill="#000"/>
<rect x="413" y="52" width="1" height="5" fill="#000"/>
<rect x="413" y="540" width="1" height="6" fill="#000"/>
<rect x="240" y="76" width="5" height="1" fill="#000"/>
<rect x="435" y="76" width="6" height="1" fill="#000"/>
<rect x="240" y="101" width="5" height="1" fill="#000"/>
<rect x="435" y="101" width="6" height="1" fill="#000"/>
<rect x="240" y="125" width="5" height="1" fill="#000"/>
<rect x="435" y="125" width="6" height="1" fill="#000"/>
<rect x="240" y="150" width="5" height="1" fill="#000"/>
<rect x="435" y="150" width="6" height="1" fill="#000"/>
<rect x="240" y="175" width="5" height="1" fill="#000"/>
<rect x="435" y="175" width="6" height="1" fill="#000"/>
<rect x="240" y="199" width="5" height="1" fill="#000"/>
<rect x="435" y="199" width="6" height="1" fill="#000"/>
<rect x="240" y="224" width="5" height="1" fill="#000"/>
<rect x="435" y="224" width="6" height="1" fill="#000"/>
<rect x="240" y="249" width="5" height="1" fill="#000"/>
<rect x="435" y="249" width="6" height="1" fill="#000"/>
<rect x="240" y="273" width="5" height="1" fill="#000"/>
<rect x="435" y="273" width="6" height="1" fill="#000"/>
<rect x="240" y="298" width="5" height="1" fill="#000"/>
<rect x="435" y="298" width="6" height="1" fill="#000"/>
<rect x="240" y="323" width="5" height="1" fill="#000"/>
<rect x="435" y="323" width="6" height="1" fill="#000"/>
<rect x="240" y="347" width="5" height="1" fill="#000"/>
<rect x="435" y="347" width="6" height="1" fill="#000"/>
<rect x="240" y="372" width="5" height="1" fill="#000"/>
<rect x="435" y="372" width="6" height="1" fill="#000"/>
<rect x="240" y="397" width="5" height="1" fill="#000"/>
<rect x="435" y="397" width="6" height="1" fill="#000"/>
<rect x="240" y="421" width="5" height="1" fill="#000"/>
<rect x="435" y="421" width="6" height="1" fill="#000"/>
<rect x="240" y="446" width="5" height="1" fill="#000"/>
<rect x="435" y="446" width="6" height="1" fill="#000"/>
<rect x="240" y="471" width="5" height="1" fill="#000"/>
<rect x="435" y="471" width="6" height="1" fill="#000"/>
<rect x="240" y="495" width="5" height="1" fill="#000"/>
<rect x="435" y="495" width="6" height="1" fill="#000"/>
<rect x="240" y="520" width="5" height="1" fill="#000"/>
<rect x="435" y="520" width="6" height="1" fill="#000"/>
<path d="M481 60h1v1h-1zM481 65h1v1h-1zM481 70h1v1h-1zM481 75h1v1h-1zM481 80h1v1h-1zM481 85h1v1h-1zM481 90h1v1h-1zM481 95h1v1h-1zM481 100h1v1h-1zM481 105h1v1h-1zM481 110h1v1h-1zM481 115h1v1h-1zM481 120h1v1h-1zM481 125h1v1h-1zM481 130h1v1h-1zM481 135h1v1h-1zM481 140h1v1h-1zM481 145h1v1h-1zM481 150h1v1h-1zM481 155h1v1h-1zM481 160h1v1h-1zM481 165h1v1h-1zM481 170h1v1h-1zM481 175h1v1h-1zM481 180h1v1h-1zM481 185h1v1h-1zM481 190h1v1h-1zM481 195h1v1h-1zM481 200h1v1h-1zM481 205h1v1h-1zM481 210h1v1h-1zM481 215h1v1h-1zM481 220h1v1h-1zM481 225h1v1h-1zM481 230h1v1h-1zM481 235h1v1h-1zM481 240h1v1h-1zM481 245h1v1h-1zM481 250h1v1h-1zM481 255h1v1h-1zM481 260h1v1h-1zM481 265h1v1h-1zM481 270h1v1h-1zM481 275h1v1h-1zM481 280h1v1h-1zM481 285h1v1h-1zM481 290h1v1h-1zM481 295h1v1h-1zM481 300h1v1h-1zM481 305h1v1h-1zM481 310h1v1h-1zM481 315h1v1h-1zM481 320h1v1h-1zM481 325h1v1h-1zM481 330h1v1h-1zM481 335h1v1h-1zM481 340h1v1h-1zM481 345h1v1h-1zM481 350h1v1h-1zM481 355h1v1h-1zM481 360h1v1h-1zM481 365h1v1h-1zM481 370h1v1h-1zM481 375h1v1h-1zM481 380h1v1h-1zM481 385h1v1h-1zM481 390h1v1h-1zM481 395h1v1h-1zM481 400h1v1h-1zM481 405h1v1h-1zM481 410h1v1h-1zM481 415h1v1h-1zM481 420h1v1h-1zM481 425h1v1h-1zM481 430h1v1h-1zM481 435h1v1h-1zM481 440h1v1h-1zM481 445h1v1h-1zM481 450h1v1h-1zM481 455h1v1h-1zM481 460h1v1h-1zM481 465h1v1h-1zM481 470h1v1h-1zM481 475h1v1h-1zM481 480h1v1h-1zM481 485h1v1h-1zM481 490h1v1h-1zM481 495h1v1h-1zM481 500h1v1h-1zM481 505h1v1h-1zM481 510h1v1h-1zM481 515h1v1h-1zM481 520h1v1h-1zM481 525h1v1h-1zM481 530h1v1h-1zM481 535h1v1h-1zM481 540h1v1h-1zM514 58h1v1h-1zM514 63h1v1h-1zM514 68h1v1h-1zM514 73h1v1h-1zM514 78h1v1h-1zM514 83h1v1h-1zM514 88h1v1h-1zM514 93h1v1h-1zM514 98h1v1h-1zM514 103h1v1h-1zM514 108h1v1h-1zM514 113h1v1h-1zM514 118h1v1h-1zM514 123h1v1h-1zM514 128h1v1h-1zM514 133h1v1h-1zM514 138h1v1h-1zM514 143h1v1h-1zM514 148h1v1h-1zM514 153h1v1h-1zM514 158h1v1h-1zM514 163h1v1h-1zM514 168h1v1h-1zM514 173h1v1h-1zM514 178h1v1h-1zM514 183h1v1h-1zM514 188h1v1h-1zM514 193h1v1h-1zM514 198h1v1h-1zM514 203h1v1h-1zM514 208h1v1h-1zM514 213h1v1h-1zM514 218h1v1h-1zM514 223h1v1h-1zM514 228h1v1h-1zM514 233h1v1h-1zM514 238h1v1h-1zM514 243h1v1h-1zM514 248h1v1h-1zM514 253h1v1h-1zM514 258h1v1h-1zM514 263h1v1h-1zM514 268h1v1h-1zM514 273h1v1h-1zM514 278h1v1h-1zM514 283h1v1h-1zM514 288h1v1h-1zM514 293h1v1h-1zM514 298h1v1h-1zM514 303h1v1h-1zM514 308h1v1h-1zM514 313h1v1h-1zM514 318h1v1h-1zM514 323h1v1h-1zM514 328h1v1h-1zM514 333h1v1h-1zM514 338h1v1h-1zM514 343h1v1h-1zM514 348h1v1h-1zM514 353h1v1h-1zM514 358h1v1h-1zM514 363h1v1h-1zM514 368h1v1h-1zM514 373h1v1h-1zM514 378h1v1h-1zM514 383h1v1h-1zM514 388h1v1h-1zM514 393h1v1h-1zM514 398h1v1h-1zM514 403h1v1h-1zM514 408h1v1h-1zM514 413h1v1h-1zM514 418h1v1h-1zM514 423h1v1h-1zM514 428h1v1h-1zM514 433h1v1h-1zM514 438h1v1h-1zM514 443h1v1h-1zM514 448h1v1h-1zM514 453h1v1h-1zM514 458h1v1h-1zM514 463h1v1h-1zM514 468h1v1h-1zM514 473h1v1h-1zM514 478h1v1h-1zM514 483h1v1h-1zM514 488h1v1h-1zM514 493h1v1h-1zM514 498h1v1h-1zM514 503h1v1h-1zM514 508h1v1h-1zM514 513h1v1h-1zM514 518h1v1h-1zM514 523h1v1h-1zM514 528h1v1h-1zM514 533h1v1h-1zM514 538h1v1h-1zM548 61h1v1h-1zM548 66h1v1h-1zM548 71h1v1h-1zM548 76h1v1h-1zM548 81h1v1h-1zM548 86h1v1h-1zM548 91h1v1h-1zM548 96h1v1h-1zM548 101h1v1h-1zM548 106h1v1h-1zM548 111h1v1h-1zM548 116h1v1h-1zM548 121h1v1h-1zM548 126h1v1h-1zM548 131h1v1h-1zM548 136h1v1h-1zM548 141h1v1h-1zM548 146h1v1h-1zM548 151h1v1h-1zM548 156h1v1h-1zM548 161h1v1h-1zM548 166h1v1h-1zM548 171h1v1h-1zM548 176h1v1h-1zM548 181h1v1h-1zM548 186h1v1h-1zM548 191h1v1h-1zM548 196h1v1h-1zM548 201h1v1h-1zM548 206h1v1h-1zM548 211h1v1h-1zM548 216h1v1h-1zM548 221h1v1h-1zM548 226h1v1h-1zM548 231h1v1h-1zM548 236h1v1h-1zM548 241h1v1h-1zM548 246h1v1h-1zM548 251h1v1h-1zM548 256h1v1h-1zM548 261h1v1h-1zM548 266h1v1h-1zM548 271h1v1h-1zM548 276h1v1h-1zM548 281h1v1h-1zM548 286h1v1h-1zM548 291h1v1h-1zM548 296h1v1h-1zM548 301h1v1h-1zM548 306h1v1h-1zM548 311h1v1h-1zM548 316h1v1h-1zM548 321h1v1h-1zM548 326h1v1h-1zM548 331h1v1h-1zM548 336h1v1h-1zM548 341h1v1h-1zM548 346h1v1h-1zM548 351h1v1h-1zM548 356h1v1h-1zM548 361h1v1h-1zM548 366h1v1h-1zM548 371h1v1h-1zM548 376h1v1h-1zM548 381h1v1h-1zM548 386h1v1h-1zM548 391h1v1h-1zM548 396h1v1h-1zM548 401h1v1h-1zM548 406h1v1h-1zM548 411h1v1h-1zM548 416h1v1h-1zM548 421h1v1h-1zM548 426h1v1h-1zM548 431h1v1h-1zM548 436h1v1h-1zM548 441h1v1h-1zM548 446h1v1h-1zM548 451h1v1h-1zM548 456h1v1h-1zM548 461h1v1h-1zM548 466h1v1h-1zM548 471h1v1h-1zM548 476h1v1h-1zM548 481h1v1h-1zM548 486h1v1h-1zM548 491h1v1h-1zM548 496h1v1h-1zM548 501h1v1h-1zM548 506h1v1h-1zM548 511h1v1h-1zM548 516h1v1h-1zM548 521h1v1h-1zM548 526h1v1h-1zM548 531h1v1h-1zM548 536h1v1h-1zM581 59h1v1h-1zM581 64h1v1h-1zM581 69h1v1h-1zM581 74h1v1h-1zM581 79h1v1h-1zM581 84h1v1h-1zM581 89h1v1h-1zM581 94h1v1h-1zM581 99h1v1h-1zM581 104h1v1h-1zM581 109h1v1h-1zM581 114h1v1h-1zM581 119h1v1h-1zM581 124h1v1h-1zM581 129h1v1h-1zM581 134h1v1h-1zM581 139h1v1h-1zM581 144h1v1h-1zM581 149h1v1h-1zM581 154h1v1h-1zM581 159h1v1h-1zM581 164h1v1h-1zM581 169h1v1h-1zM581 174h1v1h-1zM581 179h1v1h-1zM581 184h1v1h-1zM581 189h1v1h-1zM581 194h1v1h-1zM581 199h1v1h-1zM581 204h1v1h-1zM581 209h1v1h-1zM581 214h1v1h-1zM581 219h1v1h-1zM581 224h1v1h-1zM581 229h1v1h-1zM581 234h1v1h-1zM581 239h1v1h-1zM581 244h1v1h-1zM581 249h1v1h-1zM581 254h1v1h-1zM581 259h1v1h-1zM581 264h1v1h-1zM581 269h1v1h-1zM581 274h1v1h-1zM581 279h1v1h-1zM581 284h1v1h-1zM581 289h1v1h-1zM581 294h1v1h-1zM581 299h1v1h-1zM581 304h1v1h-1zM581 309h1v1h-1zM581 314h1v1h-1zM581 319h1v1h-1zM581 324h1v1h-1zM581 329h1v1h-1zM581 334h1v1h-1zM581 339h1v1h-1zM581 344h1v1h-1zM581 349h1v1h-1zM581 354h1v1h-1zM581 359h1v1h-1zM581 364h1v1h-1zM581 369h1v1h-1zM581 374h1v1h-1zM581 379h1v1h-1zM581 384h1v1h-1zM581 389h1v1h-1zM581 394h1v1h-1zM581 399h1v1h-1zM581 404h1v1h-1zM581 409h1v1h-1zM581 414h1v1h-1zM581 419h1v1h-1zM581 424h1v1h-1zM581 429h1v1h-1zM581 434h1v1h-1zM581 439h1v1h-1zM581 444h1v1h-1zM581 449h1v1h-1zM581 454h1v1h-1zM581 459h1v1h-1zM581 464h1v1h-1zM581 469h1v1h-1zM581 474h1v1h-1zM581 479h1v1h-1zM581 484h1v1h-1zM581 489h1v1h-1zM581 494h1v1h-1zM581 499h1v1h-1zM581 504h1v1h-1zM581 509h1v1h-1zM581 514h1v1h-1zM581 519h1v1h-1zM581 524h1v1h-1zM581 529h1v1h-1zM581 534h1v1h-1zM581 539h1v1h-1zM614 57h1v1h-1zM614 62h1v1h-1zM614 67h1v1h-1zM614 72h1v1h-1zM614 77h1v1h-1zM614 82h1v1h-1zM614 87h1v1h-1zM614 92h1v1h-1zM614 97h1v1h-1zM614 102h1v1h-1zM614 107h1v1h-1zM614 112h1v1h-1zM614 117h1v1h-1zM614 122h1v1h-1zM614 127h1v1h-1zM614 132h1v1h-1zM614 137h1v1h-1zM614 142h1v1h-1zM614 147h1v1h-1zM614 152h1v1h-1zM614 157h1v1h-1zM614 162h1v1h-1zM614 167h1v1h-1zM614 172h1v1h-1zM614 177h1v1h-1zM614 182h1v1h-1zM614 187h1v1h-1zM614 192h1v1h-1zM614 197h1v1h-1zM614 202h1v1h-1zM614 207h1v1h-1zM614 212h1v1h-1zM614 217h1v1h-1zM614 222h1v1h-1zM614 227h1v1h-1zM614 232h1v1h-1zM614 237h1v1h-1zM614 242h1v1h-1zM614 247h1v1h-1zM614 252h1v1h-1zM614 257h1v1h-1zM614 262h1v1h-1zM614 267h1v1h-1zM614 272h1v1h-1zM614 277h1v1h-1zM614 282h1v1h-1zM614 287h1v1h-1zM614 292h1v1h-1zM614 297h1v1h-1zM614 302h1v1h-1zM614 307h1v1h-1zM614 312h1v1h-1zM614 317h1v1h-1zM614 322h1v1h-1zM614 327h1v1h-1zM614 332h1v1h-1zM614 337h1v1h-1zM614 342h1v1h-1zM614 347h1v1h-1zM614 352h1v1h-1zM614 357h1v1h-1zM614 362h1v1h-1zM614 367h1v1h-1zM614 372h1v1h-1zM614 377h1v1h-1zM614 382h1v1h-1zM614 387h1v1h-1zM614 392h1v1h-1zM614 397h1v1h-1zM614 402h1v1h-1zM614 407h1v1h-1zM614 412h1v1h-1zM614 417h1v1h-1zM614 422h1v1h-1zM614 427h1v1h-1zM614 432h1v1h-1zM614 437h1v1h-1zM614 442h1v1h-1zM614 447h1v1h-1zM614 452h1v1h-1zM614 457h1v1h-1zM614 462h1v1h-1zM614 467h1v1h-1zM614 472h1v1h-1zM614 477h1v1h-1zM614 482h1v1h-1zM614 487h1v1h-1zM614 492h1v1h-1zM614 497h1v1h-1zM614 502h1v1h-1zM614 507h1v1h-1zM614 512h1v1h-1zM614 517h1v1h-1zM614 522h1v1h-1zM614 527h1v1h-1zM614 532h1v1h-1zM614 537h1v1h-1zM453 76h1v1h-1zM458 76h1v1h-1zM463 76h1v1h-1zM468 76h1v1h-1zM473 76h1v1h-1zM478 76h1v1h-1zM483 76h1v1h-1zM488 76h1v1h-1zM493 76h1v1h-1zM498 76h1v1h-1zM503 76h1v1h-1zM508 76h1v1h-1zM513 76h1v1h-1zM518 76h1v1h-1zM523 76h1v1h-1zM528 76h1v1h-1zM533 76h1v1h-1zM538 76h1v1h-1zM543 76h1v1h-1zM548 76h1v1h-1zM553 76h1v1h-1zM558 76h1v1h-1zM563 76h1v1h-1zM568 76h1v1h-1zM573 76h1v1h-1zM578 76h1v1h-1zM583 76h1v1h-1zM588 76h1v1h-1zM593 76h1v1h-1zM598 76h1v1h-1zM603 76h1v1h-1zM608 76h1v1h-1zM613 76h1v1h-1zM618 76h1v1h-1zM623 76h1v1h-1zM628 76h1v1h-1zM633 76h1v1h-1zM638 76h1v1h-1zM643 76h1v1h-1zM453 101h1v1h-1zM458 101h1v1h-1zM463 101h1v1h-1zM468 101h1v1h-1zM473 101h1v1h-1zM478 101h1v1h-1zM483 101h1v1h-1zM488 101h1v1h-1zM493 101h1v1h-1zM498 101h1v1h-1zM503 101h1v1h-1zM508 101h1v1h-1zM513 101h1v1h-1zM518 101h1v1h-1zM523 101h1v1h-1zM528 101h1v1h-1zM533 101h1v1h-1zM538 101h1v1h-1zM543 101h1v1h-1zM548 101h1v1h-1zM553 101h1v1h-1zM558 101h1v1h-1zM563 101h1v1h-1zM568 101h1v1h-1zM573 101h1v1h-1zM578 101h1v1h-1zM583 101h1v1h-1zM588 101h1v1h-1zM593 101h1v1h-1zM598 101h1v1h-1zM603 101h1v1h-1zM608 101h1v1h-1zM613 101h1v1h-1zM618 101h1v1h-1zM623 101h1v1h-1zM628 101h1v1h-1zM633 101h1v1h-1zM638 101h1v1h-1zM643 101h1v1h-1zM453 125h1v1h-1zM458 125h1v1h-1zM463 125h1v1h-1zM468 125h1v1h-1zM473 125h1v1h-1zM478 125h1v1h-1zM483 125h1v1h-1zM488 125h1v1h-1zM493 125h1v1h-1zM498 125h1v1h-1zM503 125h1v1h-1zM508 125h1v1h-1zM513 125h1v1h-1zM518 125h1v1h-1zM523 125h1v1h-1zM528 125h1v1h-1zM533 125h1v1h-1zM538 125h1v1h-1zM543 125h1v1h-1zM548 125h1v1h-1zM553 125h1v1h-1zM558 125h1v1h-1zM563 125h1v1h-1zM568 125h1v1h-1zM573 125h1v1h-1zM578 125h1v1h-1zM583 125h1v1h-1zM588 125h1v1h-1zM593 125h1v1h-1zM598 125h1v1h-1zM603 125h1v1h-1zM608 125h1v1h-1zM613 125h1v1h-1zM618 125h1v1h-1zM623 125h1v1h-1zM628 125h1v1h-1zM633 125h1v1h-1zM638 125h1v1h-1zM643 125h1v1h-1zM453 150h1v1h-1zM458 150h1v1h-1zM463 150h1v1h-1zM468 150h1v1h-1zM473 150h1v1h-1zM478 150h1v1h-1zM483 150h1v1h-1zM488 150h1v1h-1zM493 150h1v1h-1zM498 150h1v1h-1zM503 150h1v1h-1zM508 150h1v1h-1zM513 150h1v1h-1zM518 150h1v1h-1zM523 150h1v1h-1zM528 150h1v1h-1zM533 150h1v1h-1zM538 150h1v1h-1zM543 150h1v1h-1zM548 150h1v1h-1zM553 150h1v1h-1zM558 150h1v1h-1zM563 150h1v1h-1zM568 150h1v1h-1zM573 150h1v1h-1zM578 150h1v1h-1zM583 150h1v1h-1zM588 150h1v1h-1zM593 150h1v1h-1zM598 150h1v1h-1zM603 150h1v1h-1zM608 150h1v1h-1zM613 150h1v1h-1zM618 150h1v1h-1zM623 150h1v1h-1zM628 150h1v1h-1zM633 150h1v1h-1zM638 150h1v1h-1zM643 150h1v1h-1zM453 175h1v1h-1zM458 175h1v1h-1zM463 175h1v1h-1zM468 175h1v1h-1zM473 175h1v1h-1zM478 175h1v1h-1zM483 175h1v1h-1zM488 175h1v1h-1zM493 175h1v1h-1zM498 175h1v1h-1zM503 175h1v1h-1zM508 175h1v1h-1zM513 175h1v1h-1zM518 175h1v1h-1zM523 175h1v1h-1zM528 175h1v1h-1zM533 175h1v1h-1zM538 175h1v1h-1zM543 175h1v1h-1zM548 175h1v1h-1zM553 175h1v1h-1zM558 175h1v1h-1zM563 175h1v1h-1zM568 175h1v1h-1zM573 175h1v1h-1zM578 175h1v1h-1zM583 175h1v1h-1zM588 175h1v1h-1zM593 175h1v1h-1zM598 175h1v1h-1zM603 175h1v1h-1zM608 175h1v1h-1zM613 175h1v1h-1zM618 175h1v1h-1zM623 175h1v1h-1zM628 175h1v1h-1zM633 175h1v1h-1zM638 175h1v1h-1zM643 175h1v1h-1zM453 199h1v1h-1zM458 199h1v1h-1zM463 199h1v1h-1zM468 199h1v1h-1zM473 199h1v1h-1zM478 199h1v1h-1zM483 199h1v1h-1zM488 199h1v1h-1zM493 199h1v1h-1zM498 199h1v1h-1zM503 199h1v1h-1zM508 199h1v1h-1zM513 199h1v1h-1zM518 199h1v1h-1zM523 199h1v1h-1zM528 199h1v1h-1zM533 199h1v1h-1zM538 199h1v1h-1zM543 199h1v1h-1zM548 199h1v1h-1zM553 199h1v1h-1zM558 199h1v1h-1zM563 199h1v1h-1zM568 199h1v1h-1zM573 199h1v1h-1zM578 199h1v1h-1zM583 199h1v1h-1zM588 199h1v1h-1zM593 199h1v1h-1zM598 199h1v1h-1zM603 199h1v1h-1zM608 199h1v1h-1zM613 199h1v1h-1zM618 199h1v1h-1zM623 199h1v1h-1zM628 199h1v1h-1zM633 199h1v1h-1zM638 199h1v1h-1zM643 199h1v1h-1zM453 224h1v1h-1zM458 224h1v1h-1zM463 224h1v1h-1zM468 224h1v1h-1zM473 224h1v1h-1zM478 224h1v1h-1zM483 224h1v1h-1zM488 224h1v1h-1zM493 224h1v1h-1zM498 224h1v1h-1zM503 224h1v1h-1zM508 224h1v1h-1zM513 224h1v1h-1zM518 224h1v1h-1zM523 224h1v1h-1zM528 224h1v1h-1zM533 224h1v1h-1zM538 224h1v1h-1zM543 224h1v1h-1zM548 224h1v1h-1zM553 224h1v1h-1zM558 224h1v1h-1zM563 224h1v1h-1zM568 224h1v1h-1zM573 224h1v1h-1zM578 224h1v1h-1zM583 224h1v1h-1zM588 224h1v1h-1zM593 224h1v1h-1zM598 224h1v1h-1zM603 224h1v1h-1zM608 224h1v1h-1zM613 224h1v1h-1zM618 224h1v1h-1zM623 224h1v1h-1zM628 224h1v1h-1zM633 224h1v1h-1zM638 224h1v1h-1zM643 224h1v1h-1zM453 249h1v1h-1zM458 249h1v1h-1zM463 249h1v1h-1zM468 249h1v1h-1zM473 249h1v1h-1zM478 249h1v1h-1zM483 249h1v1h-1zM488 249h1v1h-1zM493 249h1v1h-1zM498 249h1v1h-1zM503 249h1v1h-1zM508 249h1v1h-1zM513 249h1v1h-1zM518 249h1v1h-1zM523 249h1v1h-1zM528 249h1v1h-1zM533 249h1v1h-1zM538 249h1v1h-1zM543 249h1v1h-1zM548 249h1v1h-1zM553 249h1v1h-1zM558 249h1v1h-1zM563 249h1v1h-1zM568 249h1v1h-1zM573 249h1v1h-1zM578 249h1v1h-1zM583 249h1v1h-1zM588 249h1v1h-1zM593 249h1v1h-1zM598 249h1v1h-1zM603 249h1v1h-1zM608 249h1v1h-1zM613 249h1v1h-1zM618 249h1v1h-1zM623 249h1v1h-1zM628 249h1v1h-1zM633 249h1v1h-1zM638 249h1v1h-1zM643 249h1v1h-1zM453 273h1v1h-1zM458 273h1v1h-1zM463 273h1v1h-1zM468 273h1v1h-1zM473 273h1v1h-1zM478 273h1v1h-1zM483 273h1v1h-1zM488 273h1v1h-1zM493 273h1v1h-1zM498 273h1v1h-1zM503 273h1v1h-1zM508 273h1v1h-1zM513 273h1v1h-1zM518 273h1v1h-1zM523 273h1v1h-1zM528 273h1v1h-1zM533 273h1v1h-1zM538 273h1v1h-1zM543 273h1v1h-1zM548 273h1v1h-1zM553 273h1v1h-1zM558 273h1v1h-1zM563 273h1v1h-1zM568 273h1v1h-1zM573 273h1v1h-1zM578 273h1v1h-1zM583 273h1v1h-1zM588 273h1v1h-1zM593 273h1v1h-1zM598 273h1v1h-1zM603 273h1v1h-1zM608 273h1v1h-1zM613 273h1v1h-1zM618 273h1v1h-1zM623 273h1v1h-1zM628 273h1v1h-1zM633 273h1v1h-1zM638 273h1v1h-1zM643 273h1v1h-1zM453 298h1v1h-1zM458 298h1v1h-1zM463 298h1v1h-1zM468 298h1v1h-1zM473 298h1v1h-1zM478 298h1v1h-1zM483 298h1v1h-1zM488 298h1v1h-1zM493 298h1v1h-1zM498 298h1v1h-1zM503 298h1v1h-1zM508 298h1v1h-1zM513 298h1v1h-1zM518 298h1v1h-1zM523 298h1v1h-1zM528 298h1v1h-1zM533 298h1v1h-1zM538 298h1v1h-1zM543 298h1v1h-1zM548 298h1v1h-1zM553 298h1v1h-1zM558 298h1v1h-1zM563 298h1v1h-1zM568 298h1v1h-1zM573 298h1v1h-1zM578 298h1v1h-1zM583 298h1v1h-1zM588 298h1v1h-1zM593 298h1v1h-1zM598 298h1v1h-1zM603 298h1v1h-1zM608 298h1v1h-1zM613 298h1v1h-1zM618 298h1v1h-1zM623 298h1v1h-1zM628 298h1v1h-1zM633 298h1v1h-1zM638 298h1v1h-1zM643 298h1v1h-1zM453 323h1v1h-1zM458 323h1v1h-1zM463 323h1v1h-1zM468 323h1v1h-1zM473 323h1v1h-1zM478 323h1v1h-1zM483 323h1v1h-1zM488 323h1v1h-1zM493 323h1v1h-1zM498 323h1v1h-1zM503 323h1v1h-1zM508 323h1v1h-1zM513 323h1v1h-1zM518 323h1v1h-1zM523 323h1v1h-1zM528 323h1v1h-1zM533 323h1v1h-1zM538 323h1v1h-1zM543 323h1v1h-1zM548 323h1v1h-1zM553 323h1v1h-1zM558 323h1v1h-1zM563 323h1v1h-1zM568 323h1v1h-1zM573 323h1v1h-1zM578 323h1v1h-1zM583 323h1v1h-1zM588 323h1v1h-1zM593 323h1v1h-1zM598 323h1v1h-1zM603 323h1v1h-1zM608 323h1v1h-1zM613 323h1v1h-1zM618 323h1v1h-1zM623 323h1v1h-1zM628 323h1v1h-1zM633 323h1v1h-1zM638 323h1v1h-1zM643 323h1v1h-1zM453 347h1v1h-1zM458 347h1v1h-1zM463 347h1v1h-1zM468 347h1v1h-1zM473 347h1v1h-1zM478 347h1v1h-1zM483 347h1v1h-1zM488 347h1v1h-1zM493 347h1v1h-1zM498 347h1v1h-1zM503 347h1v1h-1zM508 347h1v1h-1zM513 347h1v1h-1zM518 347h1v1h-1zM523 347h1v1h-1zM528 347h1v1h-1zM533 347h1v1h-1zM538 347h1v1h-1zM543 347h1v1h-1zM548 347h1v1h-1zM553 347h1v1h-1zM558 347h1v1h-1zM563 347h1v1h-1zM568 347h1v1h-1zM573 347h1v1h-1zM578 347h1v1h-1zM583 347h1v1h-1zM588 347h1v1h-1zM593 347h1v1h-1zM598 347h1v1h-1zM603 347h1v1h-1zM608 347h1v1h-1zM613 347h1v1h-1zM618 347h1v1h-1zM623 347h1v1h-1zM628 347h1v1h-1zM633 347h1v1h-1zM638 347h1v1h-1zM643 347h1v1h-1zM453 372h1v1h-1zM458 372h1v1h-1zM463 372h1v1h-1zM468 372h1v1h-1zM473 372h1v1h-1zM478 372h1v1h-1zM483 372h1v1h-1zM488 372h1v1h-1zM493 372h1v1h-1zM498 372h1v1h-1zM503 372h1v1h-1zM508 372h1v1h-1zM513 372h1v1h-1zM518 372h1v1h-1zM523 372h1v1h-1zM528 372h1v1h-1zM533 372h1v1h-1zM538 372h1v1h-1zM543 372h1v1h-1zM548 372h1v1h-1zM553 372h1v1h-1zM558 372h1v1h-1zM563 372h1v1h-1zM568 372h1v1h-1zM573 372h1v1h-1zM578 372h1v1h-1zM583 372h1v1h-1zM588 372h1v1h-1zM593 372h1v1h-1zM598 372h1v1h-1zM603 372h1v1h-1zM608 372h1v1h-1zM613 372h1v1h-1zM618 372h1v1h-1zM623 372h1v1h-1zM628 372h1v1h-1zM633 372h1v1h-1zM638 372h1v1h-1zM643 372h1v1h-1zM453 397h1v1h-1zM458 397h1v1h-1zM463 397h1v1h-1zM468 397h1v1h-1zM473 397h1v1h-1zM478 397h1v1h-1zM483 397h1v1h-1zM488 397h1v1h-1zM493 397h1v1h-1zM498 397h1v1h-1zM503 397h1v1h-1zM508 397h1v1h-1zM513 397h1v1h-1zM518 397h1v1h-1zM523 397h1v1h-1zM528 397h1v1h-1zM533 397h1v1h-1zM538 397h1v1h-1zM543 397h1v1h-1zM548 397h1v1h-1zM553 397h1v1h-1zM558 397h1v1h-1zM563 397h1v1h-1zM568 397h1v1h-1zM573 397h1v1h-1zM578 397h1v1h-1zM583 397h1v1h-1zM588 397h1v1h-1zM593 397h1v1h-1zM598 397h1v1h-1zM603 397h1v1h-1zM608 397h1v1h-1zM613 397h1v1h-1zM618 397h1v1h-1zM623 397h1v1h-1zM628 397h1v1h-1zM633 397h1v1h-1zM638 397h1v1h-1zM643 397h1v1h-1zM453 421h1v1h-1zM458 421h1v1h-1zM463 421h1v1h-1zM468 421h1v1h-1zM473 421h1v1h-1zM478 421h1v1h-1zM483 421h1v1h-1zM488 421h1v1h-1zM493 421h1v1h-1zM498 421h1v1h-1zM503 421h1v1h-1zM508 421h1v1h-1zM513 421h1v1h-1zM518 421h1v1h-1zM523 421h1v1h-1zM528 421h1v1h-1zM533 421h1v1h-1zM538 421h1v1h-1zM543 421h1v1h-1zM548 421h1v1h-1zM553 421h1v1h-1zM558 421h1v1h-1zM563 421h1v1h-1zM568 421h1v1h-1zM573 421h1v1h-1zM578 421h1v1h-1zM583 421h1v1h-1zM588 421h1v1h-1zM593 421h1v1h-1zM598 421h1v1h-1zM603 421h1v1h-1zM608 421h1v1h-1zM613 421h1v1h-1zM618 421h1v1h-1zM623 421h1v1h-1zM628 421h1v1h-1zM633 421h1v1h-1zM638 421h1v1h-1zM643 421h1v1h-1zM453 446h1v1h-1zM458 446h1v1h-1zM463 446h1v1h-1zM468 446h1v1h-1zM473 446h1v1h-1zM478 446h1v1h-1zM483 446h1v1h-1zM488 446h1v1h-1zM493 446h1v1h-1zM498 446h1v1h-1zM503 446h1v1h-1zM508 446h1v1h-1zM513 446h1v1h-1zM518 446h1v1h-1zM523 446h1v1h-1zM528 446h1v1h-1zM533 446h1v1h-1zM538 446h1v1h-1zM543 446h1v1h-1zM548 446h1v1h-1zM553 446h1v1h-1zM558 446h1v1h-1zM563 446h1v1h-1zM568 446h1v1h-1zM573 446h1v1h-1zM578 446h1v1h-1zM583 446h1v1h-1zM588 446h1v1h-1zM593 446h1v1h-1zM598 446h1v1h-1zM603 446h1v1h-1zM608 446h1v1h-1zM613 446h1v1h-1zM618 446h1v1h-1zM623 446h1v1h-1zM628 446h1v1h-1zM633 446h1v1h-1zM638 446h1v1h-1zM643 446h1v1h-1zM453 471h1v1h-1zM458 471h1v1h-1zM463 471h1v1h-1zM468 471h1v1h-1zM473 471h1v1h-1zM478 471h1v1h-1zM483 471h1v1h-1zM488 471h1v1h-1zM493 471h1v1h-1zM498 471h1v1h-1zM503 471h1v1h-1zM508 471h1v1h-1zM513 471h1v1h-1zM518 471h1v1h-1zM523 471h1v1h-1zM528 471h1v1h-1zM533 471h1v1h-1zM538 471h1v1h-1zM543 471h1v1h-1zM548 471h1v1h-1zM553 471h1v1h-1zM558 471h1v1h-1zM563 471h1v1h-1zM568 471h1v1h-1zM573 471h1v1h-1zM578 471h1v1h-1zM583 471h1v1h-1zM588 471h1v1h-1zM593 471h1v1h-1zM598 471h1v1h-1zM603 471h1v1h-1zM608 471h1v1h-1zM613 471h1v1h-1zM618 471h1v1h-1zM623 471h1v1h-1zM628 471h1v1h-1zM633 471h1v1h-1zM638 471h1v1h-1zM643 471h1v1h-1zM453 495h1v1h-1zM458 495h1v1h-1zM463 495h1v1h-1zM468 495h1v1h-1zM473 495h1v1h-1zM478 495h1v1h-1zM483 495h1v1h-1zM488 495h1v1h-1zM493 495h1v1h-1zM498 495h1v1h-1zM503 495h1v1h-1zM508 495h1v1h-1zM513 495h1v1h-1zM518 495h1v1h-1zM523 495h1v1h-1zM528 495h1v1h-1zM533 495h1v1h-1zM538 495h1v1h-1zM543 495h1v1h-1zM548 495h1v1h-1zM553 495h1v1h-1zM558 495h1v1h-1zM563 495h1v1h-1zM568 495h1v1h-1zM573 495h1v1h-1zM578 495h1v1h-1zM583 495h1v1h-1zM588 495h1v1h-1zM593 495h1v1h-1zM598 495h1v1h-1zM603 495h1v1h-1zM608 495h1v1h-1zM613 495h1v1h-1zM618 495h1v1h-1zM623 495h1v1h-1zM628 495h1v1h-1zM633 495h1v1h-1zM638 495h1v1h-1zM643 495h1v1h-1zM453 520h1v1h-1zM458 520h1v1h-1zM463 520h1v1h-1zM468 520h1v1h-1zM473 520h1v1h-1zM478 520h1v1h-1zM483 520h1v1h-1zM488 520h1v1h-1zM493 520h1v1h-1zM498 520h1v1h-1zM503 520h1v1h-1zM508 520h1v1h-1zM513 520h1v1h-1zM518 520h1v1h-1zM523 520h1v1h-1zM528 520h1v1h-1zM533 520h1v1h-1zM538 520h1v1h-1zM543 520h1v1h-1zM548 520h1v1h-1zM553 520h1v1h-1zM558 520h1v1h-1zM563 520h1v1h-1zM568 520h1v1h-1zM573 520h1v1h-1zM578 520h1v1h-1zM583 520h1v1h-1zM588 520h1v1h-1zM593 520h1v1h-1zM598 520h1v1h-1zM603 520h1v1h-1zM608 520h1v1h-1zM613 520h1v1h-1zM618 520h1v1h-1zM623 520h1v1h-1zM628 520h1v1h-1zM633 520h1v1h-1zM638 520h1v1h-1zM643 520h1v1h-1zM548 59h1v1h-1zM548 64h1v1h-1zM548 69h1v1h-1zM548 74h1v1h-1zM548 79h1v1h-1zM548 84h1v1h-1zM548 89h1v1h-1zM548 94h1v1h-1zM548 99h1v1h-1zM548 104h1v1h-1zM548 109h1v1h-1zM548 114h1v1h-1zM548 119h1v1h-1zM548 124h1v1h-1zM548 129h1v1h-1zM548 134h1v1h-1zM548 139h1v1h-1zM548 144h1v1h-1zM548 149h1v1h-1zM548 154h1v1h-1zM548 159h1v1h-1zM548 164h1v1h-1zM548 169h1v1h-1zM548 174h1v1h-1zM548 179h1v1h-1zM548 184h1v1h-1zM548 189h1v1h-1zM548 194h1v1h-1zM548 199h1v1h-1zM548 204h1v1h-1zM548 209h1v1h-1zM548 214h1v1h-1zM548 219h1v1h-1zM548 224h1v1h-1zM548 229h1v1h-1zM548 234h1v1h-1zM548 239h1v1h-1zM548 244h1v1h-1zM548 249h1v1h-1zM548 254h1v1h-1zM548 259h1v1h-1zM548 264h1v1h-1zM548 269h1v1h-1zM548 274h1v1h-1zM548 279h1v1h-1zM548 284h1v1h-1zM548 289h1v1h-1zM548 294h1v1h-1zM548 299h1v1h-1zM548 304h1v1h-1zM548 309h1v1h-1zM548 314h1v1h-1zM548 319h1v1h-1zM548 324h1v1h-1zM548 329h1v1h-1zM548 334h1v1h-1zM548 339h1v1h-1zM548 344h1v1h-1zM548 349h1v1h-1zM548 354h1v1h-1zM548 359h1v1h-1zM548 364h1v1h-1zM548 369h1v1h-1zM548 374h1v1h-1zM548 379h1v1h-1zM548 384h1v1h-1zM548 389h1v1h-1zM548 394h1v1h-1zM548 399h1v1h-1zM548 404h1v1h-1zM548 409h1v1h-1zM548 414h1v1h-1zM548 419h1v1h-1zM548 424h1v1h-1zM548 429h1v1h-1zM548 434h1v1h-1zM548 439h1v1h-1zM548 444h1v1h-1zM548 449h1v1h-1zM548 454h1v1h-1zM548 459h1v1h-1zM548 464h1v1h-1zM548 469h1v1h-1zM548 474h1v1h-1zM548 479h1v1h-1zM548 484h1v1h-1zM548 489h1v1h-1zM548 494h1v1h-1zM548 499h1v1h-1zM548 504h1v1h-1zM548 509h1v1h-1zM548 514h1v1h-1zM548 519h1v1h-1zM548 524h1v1h-1zM548 529h1v1h-1zM548 534h1v1h-1zM548 539h1v1h-1z" fill="#000"/>
<rect x="448" y="52" width="201" height="1" fill="#000"/>
<rect x="448" y="545" width="201" height="1" fill="#000"/>
<rect x="448" y="52" width="1" height="494" fill="#000"/>
<rect x="648" y="52" width="1" height="494" fill="#000"/>
<rect x="481" y="52" width="1" height="5" fill="#000"/>
<rect x="481" y="540" width="1" height="6" fill="#000"/>
<rect x="514" y="52" width="1" height="5" fill="#000"/>
<rect x="514" y="540" width="1" height="6" fill="#000"/>
<rect x="548" y="52" width="1" height="5" fill="#000"/>
<rect x="548" y="540" width="1" height="6" fill="#000"/>
<rect x="581" y="52" width="1" height="5" fill="#000"/>
<rect x="581" y="540" width="1" height="6" fill="#000"/>
<rect x="614" y="52" width="1" height="5" fill="#000"/>
<rect x="614" y="540" width="1" height="6" fill="#000"/>
<rect x="448" y="76" width="5" height="1" fill="#000"/>
<rect x="643" y="76" width="6" height="1" fill="#000"/>
<rect x="448" y="101" width="5" height="1" fill="#000"/>
<rect x="643" y="101" width="6" height="1" fill="#000"/>
<rect x="448" y="125" width="5" height="1" fill="#000"/>
<rect x="643" y="125" width="6" height="1" fill="#000"/>
<rect x="448" y="150" width="5" height="1" fill="#000"/>
<rect x="643" y="150" width="6" height="1" fill="#000"/>
<rect x="448" y="175" width="5" height="1" fill="#000"/>
<rect x="643" y="175" width="6" height="1" fill="#000"/>
<rect x="448" y="199" width="5" height="1" fill="#000"/>
<rect x="643" y="199" width="6" height="1" fill="#000"/>
<rect x="448" y="224" width="5" height="1" fill="#000"/>
<rect x="643" y="224" width="6" height="1" fill="#000"/>
<rect x="448" y="249" width="5" height="1" fill="#000"/>
<rect x="643" y="249" width="6" height="1" fill="#000"/>
<rect x="448" y="273" width="5" height="1" fill="#000"/>
<rect x="643" y="273" width="6" height="1" fill="#000"/>
<rect x="448" y="298" width="5" height="1" fill="#000"/>
<rect x="643" y="298" width="6" height="1" fill="#000"/>
<rect x="448" y="323" width="5" height="1" fill="#000"/>
<rect x="643" y="323" width="6" height="1" fill="#000"/>
<rect x="448" y="347" width="5" height="1" fill="#000"/>
<rect x="643" y="347" width="6" height="1" fill="#000"/>
<rect x="448" y="372" width="5" height="1" fill="#000"/>
<rect x="643" y="372" width="6" height="1" fill="#000"/>
<rect x="448" y="397" width="5" height="1" fill="#000"/>
<rect x="643" y="397" width="6" height="1" fill="#000"/>
<rect x="448" y="421" width="5" height="1" fill="#000"/>
<rect x="643" y="421" width="6" height="1" fill="#000"/>
<rect x="448" y="446" width="5" height="1" fill="#000"/>
<rect x="643" y="446" width="6" height="1" fill="#000"/>
<rect x="448" y="471" width="5" height="1" fill="#000"/>
<rect x="643" y="471" width="6" height="1" fill="#000"/>
<rect x="448" y="495" width="5" height="1" fill="#000"/>
<rect x="643" y="495" width="6" height="1" fill="#000"/>
<rect x="448" y="520" width="5" height="1" fill="#000"/>
<rect x="643" y="520" width="6" height="1" fill="#000"/>
<polyline points="104.6,52.0 98.7,63.0 98.3,76.0 97.6,82.0 95.6,101.0 91.6,126.0 86.6,143.0 85.5,150.0 82.2,180.0 80.4,199.0 78.6,224.0 77.4,249.0 78.6,274.0 83.8,300.0 87.8,322.0 91.0,347.0 92.7,372.0 93.4,397.0 94.9,430.0 97.5,460.0 98.7,475.0 99.0,500.0 99.0,528.0 98.0,540.0 97.5,545.0" fill="none" stroke="#f00" stroke-width="2.2" stroke-linejoin="round" shape-rendering="crispEdges"/>
<polyline points="81.7,56.0 81.3,101.0 80.4,140.0 79.9,164.0 78.1,180.0 77.0,186.0 73.6,193.0 71.4,199.0 70.7,224.0 75.9,234.0 81.0,240.0 80.0,246.0 87.0,252.0 90.4,260.0 93.8,279.0 98.7,287.0 100.5,305.0 101.0,322.0 100.1,350.0 101.7,372.0 102.8,400.0 101.9,420.0 101.0,440.0 101.9,470.0 101.4,480.0 101.4,505.0 103.0,509.0 103.0,515.0 101.3,520.0 101.3,526.0 99.5,530.0 96.5,533.0 95.8,540.0" fill="none" stroke="#000" stroke-width="2.2" stroke-linejoin="round" shape-rendering="crispEdges"/>
<polyline points="83.0,52.0 82.6,60.0 81.9,71.0 81.7,76.0 79.6,87.0 77.5,93.0 72.9,101.6 68.1,113.9 68.0,126.0 70.9,138.0 81.5,142.0 97.8,151.0 101.7,162.0 101.7,180.0 98.7,199.0 95.6,224.0 93.8,249.0 94.6,305.0 95.0,360.0 95.6,370.0 96.0,415.0 96.0,420.0 96.5,470.0 97.6,545.0" fill="none" stroke="#00f" stroke-width="2.2" stroke-linejoin="round" shape-rendering="crispEdges"/>
<polyline points="267.4,52.0 267.4,126.0 268.3,150.0 270.3,175.0 278.1,200.0 283.7,225.0 290.4,250.0 297.2,275.0 304.1,300.0 310.4,312.0 316.0,329.0 319.3,347.0 323.4,372.0 327.2,397.0 333.3,420.0 338.2,470.0 341.1,500.0 346.5,545.0" fill="none" stroke="#f00" stroke-width="2.2" stroke-linejoin="round" shape-rendering="crispEdges"/>
<polyline points="255.7,56.0 256.4,90.0 256.8,121.0 257.5,175.0 259.0,190.0 264.2,199.0 268.0,210.0 271.4,222.0 277.7,228.0 286.0,237.0 288.2,244.5 296.0,250.0 301.7,261.0 305.0,274.0 310.6,280.0 314.0,287.0 316.0,300.0 318.2,322.0 321.1,347.0 326.0,362.0 328.7,380.0 331.7,397.0 334.8,420.0 337.5,445.0 338.9,470.0 340.4,500.0 343.8,515.0 342.0,530.0 344.9,539.0 346.0,543.0" fill="none" stroke="#000" stroke-width="2.2" stroke-linejoin="round" shape-rendering="crispEdges"/>
<polyline points="272.0,52.0 273.6,76.0 277.0,90.0 281.0,101.0 291.1,126.0 293.3,136.0 291.0,139.5 283.5,143.3 277.0,146.4 272.0,150.0 270.5,153.0 268.5,158.3 267.0,163.0 265.3,170.0 264.7,177.0 269.1,200.0 275.9,225.0 282.6,250.0 288.9,275.0 295.8,300.0 300.3,322.0 304.8,347.0 308.6,372.0 312.6,397.0 316.5,420.0 322.5,470.0 325.9,500.0 331.5,545.0" fill="none" stroke="#00f" stroke-width="2.2" stroke-linejoin="round" shape-rendering="crispEdges"/>
<polyline points="514.6,52.0 520.2,65.0 521.7,76.0 524.7,101.0 529.1,126.0 535.9,140.0 540.4,160.0 541.5,180.0 539.9,192.0 535.9,196.0 535.4,220.0 540.4,228.0 549.8,236.0 553.8,240.0 552.7,246.0 561.7,250.0 568.4,262.0 570.6,275.0 576.2,282.0 577.4,294.0 575.1,303.0 571.3,322.0 565.0,335.0 562.8,347.0 563.2,372.0 562.3,397.0 559.4,409.0 559.4,420.0 558.7,440.0 555.6,470.0 553.4,490.0 553.8,510.0 550.4,525.0 547.1,530.0 546.0,535.0" fill="none" stroke="#000" stroke-width="2.2" stroke-linejoin="round" shape-rendering="crispEdges"/>
<polyline points="513.8,53.0 517.9,58.6 521.2,63.0 521.6,67.2 520.3,71.5 520.5,76.0 517.5,90.0 512.3,101.0 506.7,114.0 509.4,126.0 520.2,137.4 537.0,140.0 558.3,147.0 567.3,150.4 576.2,160.0 579.1,180.0 579.6,175.0 577.4,220.0 574.0,250.0 570.6,275.0 565.0,305.0 561.7,322.0 554.9,347.0 552.7,365.0 549.8,400.0 549.8,420.0 547.1,470.0 547.1,545.0" fill="none" stroke="#00f" stroke-width="2.2" stroke-linejoin="round" shape-rendering="crispEdges"/>
<polyline points="552.7,52.0 554.9,76.0 558.3,90.0 563.9,101.0 571.7,126.0 572.9,138.0 565.0,143.0 553.8,150.0 547.1,160.0 542.6,180.0 542.2,250.0 541.5,280.0 538.1,305.0 537.0,312.0 534.3,325.0 533.6,350.0 532.5,400.0 532.0,430.0 532.5,460.0 533.4,545.0" fill="none" stroke="#0ff" stroke-width="2.2" stroke-linejoin="round" shape-rendering="crispEdges"/>
<polyline points="537.7,56.0 538.1,140.0 534.8,180.0 531.8,192.0 534.8,195.0 534.8,220.0 539.9,228.0 548.2,237.0 550.4,247.0 557.2,260.0 558.7,278.0 561.0,287.0 557.8,305.0 553.8,322.0 550.4,335.0 550.4,350.0 551.6,372.0 551.1,400.0 550.4,420.0 548.9,450.0 547.5,480.0 547.0,520.0 547.0,540.0 548.9,545.0" fill="none" stroke="#f0f" stroke-width="2.2" stroke-linejoin="round" shape-rendering="crispEdges"/>
<text x="27.5" y="55.5" font-size="12" font-weight="bold" text-anchor="end" >0</text>
<text x="27.5" y="79.5" font-size="12" font-weight="bold" text-anchor="end" >20</text>
<text x="27.5" y="104.5" font-size="12" font-weight="bold" text-anchor="end" >40</text>
<text x="27.5" y="128.5" font-size="12" font-weight="bold" text-anchor="end" >60</text>
<text x="27.5" y="153.5" font-size="12" font-weight="bold" text-anchor="end" >80</text>
<text x="27.5" y="178.5" font-size="12" font-weight="bold" text-anchor="end" >100</text>
<text x="27.5" y="202.5" font-size="12" font-weight="bold" text-anchor="end" >120</text>
<text x="27.5" y="227.5" font-size="12" font-weight="bold" text-anchor="end" >140</text>
<text x="27.5" y="252.5" font-size="12" font-weight="bold" text-anchor="end" >160</text>
<text x="27.5" y="276.5" font-size="12" font-weight="bold" text-anchor="end" >180</text>
<text x="27.5" y="301.5" font-size="12" font-weight="bold" text-anchor="end" >200</text>
<text x="27.5" y="326.5" font-size="12" font-weight="bold" text-anchor="end" >220</text>
<text x="27.5" y="350.5" font-size="12" font-weight="bold" text-anchor="end" >240</text>
<text x="27.5" y="375.5" font-size="12" font-weight="bold" text-anchor="end" >260</text>
<text x="27.5" y="400.5" font-size="12" font-weight="bold" text-anchor="end" >280</text>
<text x="27.5" y="424.5" font-size="12" font-weight="bold" text-anchor="end" >300</text>
<text x="27.5" y="449.5" font-size="12" font-weight="bold" text-anchor="end" >320</text>
<text x="27.5" y="474.5" font-size="12" font-weight="bold" text-anchor="end" >340</text>
<text x="27.5" y="498.5" font-size="12" font-weight="bold" text-anchor="end" >360</text>
<text x="27.5" y="523.5" font-size="12" font-weight="bold" text-anchor="end" >380</text>
<text x="27.5" y="548.5" font-size="12" font-weight="bold" text-anchor="end" >400</text>
<text x="51.5" y="561" font-size="12" font-weight="bold" text-anchor="middle" >0</text>
<text x="91.5" y="561" font-size="12" font-weight="bold" text-anchor="middle" >2</text>
<text x="131.5" y="561" font-size="12" font-weight="bold" text-anchor="middle" >4</text>
<text x="171.5" y="561" font-size="12" font-weight="bold" text-anchor="middle" >6</text>
<text x="211.5" y="561" font-size="12" font-weight="bold" text-anchor="middle" >8</text>
<text x="279.5" y="561" font-size="12" font-weight="bold" text-anchor="middle" >34</text>
<text x="346.5" y="561" font-size="12" font-weight="bold" text-anchor="middle" >34.5</text>
<text x="413.5" y="561" font-size="12" font-weight="bold" text-anchor="middle" >35</text>
<text x="481.5" y="561" font-size="12" font-weight="bold" text-anchor="middle" >-2</text>
<text x="514.5" y="561" font-size="12" font-weight="bold" text-anchor="middle" >-1</text>
<text x="548.5" y="561" font-size="12" font-weight="bold" text-anchor="middle" >0</text>
<text x="581.5" y="561" font-size="12" font-weight="bold" text-anchor="middle" >1</text>
<text x="614.5" y="561" font-size="12" font-weight="bold" text-anchor="middle" >2</text>
<text x="481.5" y="539" font-size="12" font-weight="bold" text-anchor="middle" >-0.5</text>
<text x="514.5" y="539" font-size="12" font-weight="bold" text-anchor="middle" >-0.25</text>
<text x="548.5" y="539" font-size="12" font-weight="bold" text-anchor="middle" >0</text>
<text x="581.5" y="539" font-size="12" font-weight="bold" text-anchor="middle" >0.25</text>
<text x="614.5" y="539" font-size="12" font-weight="bold" text-anchor="middle" >0.5</text>
<text x="547" y="524" font-size="12" font-weight="bold" text-anchor="middle" textLength="176" lengthAdjust="spacingAndGlyphs">S difference from climatology</text>
<text x="129.8" y="575" font-size="12.7" font-weight="bold" text-anchor="middle" >temperature (deg C)</text>
<text x="337.8" y="575" font-size="12.4" font-weight="bold" text-anchor="middle" >salinity</text>
<text x="546.5" y="575" font-size="12.47" font-weight="bold" text-anchor="middle" >T difference from climatology</text>
<text x="58" y="27" font-size="14.53" font-weight="bold" text-anchor="start" >Argo profile: csiro 5904898_149 13-Nov-2018 56.98S 161.7E (NRT data)</text>
<text x="31.5" y="43" font-size="14.57" font-weight="bold" text-anchor="start" >Climatology: CARS2009. Satellite-adjusted climatology: synTS_20181113.nc (0.6d earlier)</text>
<rect x="118" y="402" width="2" height="10" fill="#f00"/>
<text x="125" y="411" font-size="12" font-weight="bold" text-anchor="start" >climatology</text>
<rect x="118" y="416" width="2" height="11" fill="#00f"/>
<text x="125" y="425" font-size="12" font-weight="bold" text-anchor="start" textLength="105.6" lengthAdjust="spacingAndGlyphs">satellite-adj. clim.</text>
<rect x="118" y="431" width="2" height="11" fill="#000"/>
<text x="125" y="439" font-size="12" font-weight="bold" text-anchor="start" >Argo</text>
<rect x="328" y="402" width="2" height="10" fill="#f00"/>
<text x="335" y="411" font-size="12" font-weight="bold" text-anchor="start" >climatology</text>
<rect x="328" y="416" width="2" height="11" fill="#00f"/>
<text x="335" y="425" font-size="12" font-weight="bold" text-anchor="start" textLength="105.6" lengthAdjust="spacingAndGlyphs">satellite-adj. clim.</text>
<rect x="328" y="431" width="2" height="11" fill="#000"/>
<text x="335" y="439" font-size="12" font-weight="bold" text-anchor="start" >Argo</text>
<text x="468" y="411" font-size="12" font-weight="bold" text-anchor="start" textLength="72.9" lengthAdjust="spacingAndGlyphs">temperature</text>
<rect x="460" y="416" width="2" height="11" fill="#00f"/>
<text x="468" y="425" font-size="12" font-weight="bold" text-anchor="start" textLength="47.0" lengthAdjust="spacingAndGlyphs">satellite</text>
<rect x="460" y="431" width="2" height="11" fill="#000"/>
<text x="468" y="439" font-size="12" font-weight="bold" text-anchor="start" >Argo</text>
<text x="594" y="411" font-size="12" font-weight="bold" text-anchor="start" >salinity</text>
<rect x="587" y="416" width="2" height="11" fill="#0ff"/>
<text x="594" y="425" font-size="12" font-weight="bold" text-anchor="start" textLength="47.0" lengthAdjust="spacingAndGlyphs">satellite</text>
<rect x="587" y="431" width="2" height="11" fill="#f0f"/>
<text x="594" y="439" font-size="12" font-weight="bold" text-anchor="start" >Argo</text>
<g shape-rendering="crispEdges"><rect x="680.00" y="36.00" width="103.47" height="4.88" fill="#a80000"/><rect x="783.42" y="36.00" width="4.98" height="4.88" fill="#c02800"/><rect x="788.35" y="36.00" width="88.70" height="4.88" fill="#a80000"/><rect x="680.00" y="40.83" width="73.92" height="4.88" fill="#a80000"/><rect x="753.88" y="40.83" width="9.90" height="4.88" fill="#c02800"/><rect x="763.73" y="40.83" width="113.32" height="4.88" fill="#a80000"/><rect x="680.00" y="45.67" width="59.15" height="4.88" fill="#a80000"/><rect x="739.10" y="45.67" width="4.97" height="4.88" fill="#c02800"/><rect x="744.02" y="45.67" width="9.90" height="4.88" fill="#a80000"/><rect x="753.88" y="45.67" width="4.97" height="4.88" fill="#c02800"/><rect x="758.80" y="45.67" width="4.98" height="4.88" fill="#e86c00"/><rect x="763.73" y="45.67" width="9.90" height="4.88" fill="#c02800"/><rect x="773.58" y="45.67" width="103.47" height="4.88" fill="#a80000"/><rect x="680.00" y="50.50" width="4.97" height="4.88" fill="#c02800"/><rect x="684.92" y="50.50" width="69.00" height="4.88" fill="#a80000"/><rect x="753.88" y="50.50" width="14.82" height="4.88" fill="#e86c00"/><rect x="768.65" y="50.50" width="4.98" height="4.88" fill="#c02800"/><rect x="773.58" y="50.50" width="103.47" height="4.88" fill="#a80000"/><rect x="680.00" y="55.33" width="4.97" height="4.88" fill="#c02800"/><rect x="684.92" y="55.33" width="19.75" height="4.88" fill="#a80000"/><rect x="704.62" y="55.33" width="9.90" height="4.88" fill="#c02800"/><rect x="714.48" y="55.33" width="39.45" height="4.88" fill="#a80000"/><rect x="753.88" y="55.33" width="4.97" height="4.88" fill="#c02800"/><rect x="758.80" y="55.33" width="4.98" height="4.88" fill="#f0a000"/><rect x="763.73" y="55.33" width="9.90" height="4.88" fill="#e86c00"/><rect x="773.58" y="55.33" width="103.47" height="4.88" fill="#a80000"/><rect x="680.00" y="60.17" width="4.97" height="4.88" fill="#e86c00"/><rect x="684.92" y="60.17" width="4.98" height="4.88" fill="#c02800"/><rect x="689.85" y="60.17" width="19.75" height="4.88" fill="#a80000"/><rect x="709.55" y="60.17" width="4.98" height="4.88" fill="#e86c00"/><rect x="714.48" y="60.17" width="9.90" height="4.88" fill="#c02800"/><rect x="724.33" y="60.17" width="29.60" height="4.88" fill="#a80000"/><rect x="753.88" y="60.17" width="9.90" height="4.88" fill="#c02800"/><rect x="763.73" y="60.17" width="9.90" height="4.88" fill="#e86c00"/><rect x="773.58" y="60.17" width="9.90" height="4.88" fill="#c02800"/><rect x="783.42" y="60.17" width="93.63" height="4.88" fill="#a80000"/><rect x="680.00" y="65.00" width="9.90" height="4.88" fill="#e86c00"/><rect x="689.85" y="65.00" width="4.97" height="4.88" fill="#c02800"/><rect x="694.77" y="65.00" width="14.82" height="4.88" fill="#a80000"/><rect x="709.55" y="65.00" width="4.98" height="4.88" fill="#e86c00"/><rect x="714.48" y="65.00" width="4.97" height="4.88" fill="#f8d000"/><rect x="719.40" y="65.00" width="4.98" height="4.88" fill="#e86c00"/><rect x="724.33" y="65.00" width="4.97" height="4.88" fill="#c02800"/><rect x="729.25" y="65.00" width="24.68" height="4.88" fill="#a80000"/><rect x="753.88" y="65.00" width="4.97" height="4.88" fill="#c02800"/><rect x="758.80" y="65.00" width="4.98" height="4.88" fill="#e86c00"/><rect x="763.73" y="65.00" width="14.82" height="4.88" fill="#c02800"/><rect x="778.50" y="65.00" width="98.55" height="4.88" fill="#a80000"/><rect x="680.00" y="69.83" width="14.82" height="4.88" fill="#f0a000"/><rect x="694.77" y="69.83" width="4.98" height="4.88" fill="#e86c00"/><rect x="699.70" y="69.83" width="4.97" height="4.88" fill="#c02800"/><rect x="704.62" y="69.83" width="4.97" height="4.88" fill="#a80000"/><rect x="709.55" y="69.83" width="4.98" height="4.88" fill="#c02800"/><rect x="714.48" y="69.83" width="4.97" height="4.88" fill="#f0a000"/><rect x="719.40" y="69.83" width="4.98" height="4.88" fill="#f8d000"/><rect x="724.33" y="69.83" width="4.97" height="4.88" fill="#f0a000"/><rect x="729.25" y="69.83" width="4.97" height="4.88" fill="#e86c00"/><rect x="734.17" y="69.83" width="19.75" height="4.88" fill="#a80000"/><rect x="753.88" y="69.83" width="24.68" height="4.88" fill="#c02800"/><rect x="778.50" y="69.83" width="98.55" height="4.88" fill="#a80000"/><rect x="680.00" y="74.67" width="9.90" height="4.88" fill="#f8d000"/><rect x="689.85" y="74.67" width="4.97" height="4.88" fill="#f0a000"/><rect x="694.77" y="74.67" width="4.98" height="4.88" fill="#e86c00"/><rect x="699.70" y="74.67" width="4.97" height="4.88" fill="#c02800"/><rect x="704.62" y="74.67" width="4.97" height="4.88" fill="#e86c00"/><rect x="709.55" y="74.67" width="24.68" height="4.88" fill="#f0a000"/><rect x="734.17" y="74.67" width="4.98" height="4.88" fill="#e86c00"/><rect x="739.10" y="74.67" width="4.97" height="4.88" fill="#a80000"/><rect x="744.02" y="74.67" width="4.98" height="4.88" fill="#c02800"/><rect x="748.95" y="74.67" width="4.97" height="4.88" fill="#a80000"/><rect x="753.88" y="74.67" width="4.97" height="4.88" fill="#e86c00"/><rect x="758.80" y="74.67" width="19.75" height="4.88" fill="#c02800"/><rect x="778.50" y="74.67" width="9.90" height="4.88" fill="#a80000"/><rect x="788.35" y="74.67" width="9.90" height="4.88" fill="#c02800"/><rect x="798.20" y="74.67" width="78.85" height="4.88" fill="#a80000"/><rect x="680.00" y="79.50" width="4.97" height="4.88" fill="#c0f000"/><rect x="684.92" y="79.50" width="4.98" height="4.88" fill="#f8d000"/><rect x="689.85" y="79.50" width="4.97" height="4.88" fill="#f0a000"/><rect x="694.77" y="79.50" width="4.98" height="4.88" fill="#e86c00"/><rect x="699.70" y="79.50" width="4.97" height="4.88" fill="#c02800"/><rect x="704.62" y="79.50" width="4.97" height="4.88" fill="#e86c00"/><rect x="709.55" y="79.50" width="14.83" height="4.88" fill="#f0a000"/><rect x="724.33" y="79.50" width="14.82" height="4.88" fill="#e86c00"/><rect x="739.10" y="79.50" width="4.97" height="4.88" fill="#c02800"/><rect x="744.02" y="79.50" width="4.98" height="4.88" fill="#e86c00"/><rect x="748.95" y="79.50" width="9.90" height="4.88" fill="#f0a000"/><rect x="758.80" y="79.50" width="4.98" height="4.88" fill="#c02800"/><rect x="763.73" y="79.50" width="4.97" height="4.88" fill="#e86c00"/><rect x="768.65" y="79.50" width="4.98" height="4.88" fill="#c02800"/><rect x="773.58" y="79.50" width="4.97" height="4.88" fill="#a80000"/><rect x="778.50" y="79.50" width="14.82" height="4.88" fill="#c02800"/><rect x="793.27" y="79.50" width="64.07" height="4.88" fill="#a80000"/><rect x="857.30" y="79.50" width="14.83" height="4.88" fill="#c02800"/><rect x="872.08" y="79.50" width="4.97" height="4.88" fill="#a80000"/><rect x="680.00" y="84.33" width="4.97" height="4.88" fill="#f8d000"/><rect x="684.92" y="84.33" width="4.98" height="4.88" fill="#f0f000"/><rect x="689.85" y="84.33" width="4.97" height="4.88" fill="#e86c00"/><rect x="694.77" y="84.33" width="4.98" height="4.88" fill="#c02800"/><rect x="699.70" y="84.33" width="4.97" height="4.88" fill="#e86c00"/><rect x="704.62" y="84.33" width="9.90" height="4.88" fill="#f0f000"/><rect x="714.48" y="84.33" width="9.90" height="4.88" fill="#f8d000"/><rect x="724.33" y="84.33" width="4.97" height="4.88" fill="#f0a000"/><rect x="729.25" y="84.33" width="4.97" height="4.88" fill="#e86c00"/><rect x="734.17" y="84.33" width="14.83" height="4.88" fill="#c02800"/><rect x="748.95" y="84.33" width="4.97" height="4.88" fill="#f0a000"/><rect x="753.88" y="84.33" width="4.97" height="4.88" fill="#f8d000"/><rect x="758.80" y="84.33" width="9.90" height="4.88" fill="#f0a000"/><rect x="768.65" y="84.33" width="4.98" height="4.88" fill="#e86c00"/><rect x="773.58" y="84.33" width="19.75" height="4.88" fill="#c02800"/><rect x="793.27" y="84.33" width="4.98" height="4.88" fill="#a80000"/><rect x="798.20" y="84.33" width="4.97" height="4.88" fill="#c02800"/><rect x="803.12" y="84.33" width="29.60" height="4.88" fill="#a80000"/><rect x="832.67" y="84.33" width="19.75" height="4.88" fill="#c02800"/><rect x="852.38" y="84.33" width="4.97" height="4.88" fill="#a80000"/><rect x="857.30" y="84.33" width="19.75" height="4.88" fill="#c02800"/><rect x="680.00" y="89.17" width="4.97" height="4.88" fill="#f8d000"/><rect x="684.92" y="89.17" width="9.90" height="4.88" fill="#e86c00"/><rect x="694.77" y="89.17" width="14.82" height="4.88" fill="#f8d000"/><rect x="709.55" y="89.17" width="4.98" height="4.88" fill="#f0f000"/><rect x="714.48" y="89.17" width="4.97" height="4.88" fill="#50e000"/><rect x="719.40" y="89.17" width="4.98" height="4.88" fill="#c0f000"/><rect x="724.33" y="89.17" width="4.97" height="4.88" fill="#f0a000"/><rect x="729.25" y="89.17" width="9.90" height="4.88" fill="#c02800"/><rect x="739.10" y="89.17" width="4.97" height="4.88" fill="#e86c00"/><rect x="744.02" y="89.17" width="4.98" height="4.88" fill="#c02800"/><rect x="748.95" y="89.17" width="24.68" height="4.88" fill="#f0a000"/><rect x="773.58" y="89.17" width="9.90" height="4.88" fill="#e86c00"/><rect x="783.42" y="89.17" width="9.90" height="4.88" fill="#c02800"/><rect x="793.27" y="89.17" width="64.07" height="4.88" fill="#a80000"/><rect x="857.30" y="89.17" width="4.98" height="4.88" fill="#c02800"/><rect x="862.23" y="89.17" width="14.82" height="4.88" fill="#a80000"/><rect x="680.00" y="94.00" width="29.60" height="4.88" fill="#f0a000"/><rect x="709.55" y="94.00" width="9.90" height="4.88" fill="#f8d000"/><rect x="719.40" y="94.00" width="4.98" height="4.88" fill="#f0a000"/><rect x="724.33" y="94.00" width="4.97" height="4.88" fill="#e86c00"/><rect x="729.25" y="94.00" width="9.90" height="4.88" fill="#c02800"/><rect x="739.10" y="94.00" width="4.97" height="4.88" fill="#e86c00"/><rect x="744.02" y="94.00" width="39.45" height="4.88" fill="#f0a000"/><rect x="783.42" y="94.00" width="9.90" height="4.88" fill="#e86c00"/><rect x="793.27" y="94.00" width="4.98" height="4.88" fill="#c02800"/><rect x="798.20" y="94.00" width="54.22" height="4.88" fill="#a80000"/><rect x="852.38" y="94.00" width="9.90" height="4.88" fill="#c02800"/><rect x="862.23" y="94.00" width="4.97" height="4.88" fill="#a80000"/><rect x="867.15" y="94.00" width="4.98" height="4.88" fill="#c02800"/><rect x="872.08" y="94.00" width="4.97" height="4.88" fill="#a80000"/><rect x="680.00" y="98.83" width="19.75" height="4.88" fill="#f0a000"/><rect x="699.70" y="98.83" width="4.97" height="4.88" fill="#e86c00"/><rect x="704.62" y="98.83" width="14.82" height="4.88" fill="#f0a000"/><rect x="719.40" y="98.83" width="14.82" height="4.88" fill="#e86c00"/><rect x="734.17" y="98.83" width="9.90" height="4.88" fill="#f0a000"/><rect x="744.02" y="98.83" width="4.98" height="4.88" fill="#f8d000"/><rect x="748.95" y="98.83" width="9.90" height="4.88" fill="#f0a000"/><rect x="758.80" y="98.83" width="4.98" height="4.88" fill="#f8d000"/><rect x="763.73" y="98.83" width="14.82" height="4.88" fill="#f0a000"/><rect x="778.50" y="98.83" width="4.97" height="4.88" fill="#f8d000"/><rect x="783.42" y="98.83" width="9.90" height="4.88" fill="#f0a000"/><rect x="793.27" y="98.83" width="4.98" height="4.88" fill="#e86c00"/><rect x="798.20" y="98.83" width="4.97" height="4.88" fill="#c02800"/><rect x="803.12" y="98.83" width="39.45" height="4.88" fill="#a80000"/><rect x="842.52" y="98.83" width="4.98" height="4.88" fill="#c02800"/><rect x="847.45" y="98.83" width="4.97" height="4.88" fill="#a80000"/><rect x="852.38" y="98.83" width="19.75" height="4.88" fill="#c02800"/><rect x="872.08" y="98.83" width="4.97" height="4.88" fill="#a80000"/><rect x="680.00" y="103.67" width="4.97" height="4.88" fill="#f8d000"/><rect x="684.92" y="103.67" width="34.53" height="4.88" fill="#f0a000"/><rect x="719.40" y="103.67" width="9.90" height="4.88" fill="#e86c00"/><rect x="729.25" y="103.67" width="4.97" height="4.88" fill="#f0a000"/><rect x="734.17" y="103.67" width="9.90" height="4.88" fill="#f8d000"/><rect x="744.02" y="103.67" width="24.68" height="4.88" fill="#f0a000"/><rect x="768.65" y="103.67" width="9.90" height="4.88" fill="#f8d000"/><rect x="778.50" y="103.67" width="19.75" height="4.88" fill="#f0a000"/><rect x="798.20" y="103.67" width="4.97" height="4.88" fill="#e86c00"/><rect x="803.12" y="103.67" width="4.97" height="4.88" fill="#c02800"/><rect x="808.05" y="103.67" width="14.83" height="4.88" fill="#a80000"/><rect x="822.83" y="103.67" width="19.75" height="4.88" fill="#c02800"/><rect x="842.52" y="103.67" width="4.98" height="4.88" fill="#a80000"/><rect x="847.45" y="103.67" width="4.97" height="4.88" fill="#c02800"/><rect x="852.38" y="103.67" width="4.97" height="4.88" fill="#e86c00"/><rect x="857.30" y="103.67" width="19.75" height="4.88" fill="#c02800"/><rect x="680.00" y="108.50" width="4.97" height="4.88" fill="#f8d000"/><rect x="684.92" y="108.50" width="9.90" height="4.88" fill="#f0a000"/><rect x="694.77" y="108.50" width="4.98" height="4.88" fill="#f8d000"/><rect x="699.70" y="108.50" width="9.90" height="4.88" fill="#f0a000"/><rect x="709.55" y="108.50" width="4.98" height="4.88" fill="#e86c00"/><rect x="714.48" y="108.50" width="4.97" height="4.88" fill="#c02800"/><rect x="719.40" y="108.50" width="9.90" height="4.88" fill="#f0a000"/><rect x="729.25" y="108.50" width="4.97" height="4.88" fill="#50e000"/><rect x="734.17" y="108.50" width="14.83" height="4.88" fill="#f8d000"/><rect x="748.95" y="108.50" width="9.90" height="4.88" fill="#f0a000"/><rect x="758.80" y="108.50" width="9.90" height="4.88" fill="#f8d000"/><rect x="768.65" y="108.50" width="4.98" height="4.88" fill="#50e000"/><rect x="773.58" y="108.50" width="4.97" height="4.88" fill="#c0f000"/><rect x="778.50" y="108.50" width="14.82" height="4.88" fill="#f8d000"/><rect x="793.27" y="108.50" width="4.98" height="4.88" fill="#f0a000"/><rect x="798.20" y="108.50" width="4.97" height="4.88" fill="#e86c00"/><rect x="803.12" y="108.50" width="4.97" height="4.88" fill="#c02800"/><rect x="808.05" y="108.50" width="14.83" height="4.88" fill="#a80000"/><rect x="822.83" y="108.50" width="9.90" height="4.88" fill="#e86c00"/><rect x="832.67" y="108.50" width="14.83" height="4.88" fill="#c02800"/><rect x="847.45" y="108.50" width="4.97" height="4.88" fill="#e86c00"/><rect x="852.38" y="108.50" width="4.97" height="4.88" fill="#c02800"/><rect x="857.30" y="108.50" width="9.90" height="4.88" fill="#e86c00"/><rect x="867.15" y="108.50" width="4.98" height="4.88" fill="#c02800"/><rect x="872.08" y="108.50" width="4.97" height="4.88" fill="#e86c00"/><rect x="680.00" y="113.33" width="4.97" height="4.88" fill="#f8d000"/><rect x="684.92" y="113.33" width="9.90" height="4.88" fill="#f0a000"/><rect x="694.77" y="113.33" width="4.98" height="4.88" fill="#f8d000"/><rect x="699.70" y="113.33" width="4.97" height="4.88" fill="#f0a000"/><rect x="704.62" y="113.33" width="9.90" height="4.88" fill="#e86c00"/><rect x="714.48" y="113.33" width="4.97" height="4.88" fill="#a80000"/><rect x="719.40" y="113.33" width="4.98" height="4.88" fill="#c02800"/><rect x="724.33" y="113.33" width="4.97" height="4.88" fill="#f8d000"/><rect x="729.25" y="113.33" width="4.97" height="4.88" fill="#e86c00"/><rect x="734.17" y="113.33" width="24.68" height="4.88" fill="#f8d000"/><rect x="758.80" y="113.33" width="4.98" height="4.88" fill="#c0f000"/><rect x="763.73" y="113.33" width="4.97" height="4.88" fill="#50e000"/><rect x="768.65" y="113.33" width="4.98" height="4.88" fill="#00c050"/><rect x="773.58" y="113.33" width="14.82" height="4.88" fill="#c0f000"/><rect x="788.35" y="113.33" width="9.90" height="4.88" fill="#f8d000"/><rect x="798.20" y="113.33" width="4.97" height="4.88" fill="#f0a000"/><rect x="803.12" y="113.33" width="9.90" height="4.88" fill="#e86c00"/><rect x="812.98" y="113.33" width="4.97" height="4.88" fill="#c02800"/><rect x="817.90" y="113.33" width="4.98" height="4.88" fill="#a80000"/><rect x="822.83" y="113.33" width="4.97" height="4.88" fill="#c02800"/><rect x="827.75" y="113.33" width="4.97" height="4.88" fill="#e86c00"/><rect x="832.67" y="113.33" width="9.90" height="4.88" fill="#c02800"/><rect x="842.52" y="113.33" width="9.90" height="4.88" fill="#e86c00"/><rect x="852.38" y="113.33" width="4.97" height="4.88" fill="#c02800"/><rect x="857.30" y="113.33" width="9.90" height="4.88" fill="#e86c00"/><rect x="867.15" y="113.33" width="4.98" height="4.88" fill="#c02800"/><rect x="872.08" y="113.33" width="4.97" height="4.88" fill="#e86c00"/><rect x="680.00" y="118.17" width="4.97" height="4.88" fill="#c0f000"/><rect x="684.92" y="118.17" width="4.98" height="4.88" fill="#f8d000"/><rect x="689.85" y="118.17" width="19.75" height="4.88" fill="#f0a000"/><rect x="709.55" y="118.17" width="4.98" height="4.88" fill="#e86c00"/><rect x="714.48" y="118.17" width="9.90" height="4.88" fill="#a80000"/><rect x="724.33" y="118.17" width="4.97" height="4.88" fill="#f0a000"/><rect x="729.25" y="118.17" width="9.90" height="4.88" fill="#f8d000"/><rect x="739.10" y="118.17" width="4.97" height="4.88" fill="#f0a000"/><rect x="744.02" y="118.17" width="4.98" height="4.88" fill="#f8d000"/><rect x="748.95" y="118.17" width="4.97" height="4.88" fill="#c0f000"/><rect x="753.88" y="118.17" width="14.82" height="4.88" fill="#00c050"/><rect x="768.65" y="118.17" width="4.98" height="4.88" fill="#50e000"/><rect x="773.58" y="118.17" width="19.75" height="4.88" fill="#c0f000"/><rect x="793.27" y="118.17" width="9.90" height="4.88" fill="#f8d000"/><rect x="803.12" y="118.17" width="4.97" height="4.88" fill="#f0a000"/><rect x="808.05" y="118.17" width="4.98" height="4.88" fill="#e86c00"/><rect x="812.98" y="118.17" width="4.97" height="4.88" fill="#c02800"/><rect x="817.90" y="118.17" width="4.98" height="4.88" fill="#a80000"/><rect x="822.83" y="118.17" width="4.97" height="4.88" fill="#c02800"/><rect x="827.75" y="118.17" width="14.82" height="4.88" fill="#e86c00"/><rect x="842.52" y="118.17" width="4.98" height="4.88" fill="#f0a000"/><rect x="847.45" y="118.17" width="4.97" height="4.88" fill="#e86c00"/><rect x="852.38" y="118.17" width="9.90" height="4.88" fill="#f0a000"/><rect x="862.23" y="118.17" width="14.82" height="4.88" fill="#e86c00"/><rect x="680.00" y="123.00" width="4.97" height="4.88" fill="#00c050"/><rect x="684.92" y="123.00" width="4.98" height="4.88" fill="#f8d000"/><rect x="689.85" y="123.00" width="14.82" height="4.88" fill="#f0a000"/><rect x="704.62" y="123.00" width="4.97" height="4.88" fill="#e86c00"/><rect x="709.55" y="123.00" width="4.98" height="4.88" fill="#f0a000"/><rect x="714.48" y="123.00" width="4.97" height="4.88" fill="#c02800"/><rect x="719.40" y="123.00" width="19.75" height="4.88" fill="#f0a000"/><rect x="739.10" y="123.00" width="9.90" height="4.88" fill="#f8d000"/><rect x="748.95" y="123.00" width="14.82" height="4.88" fill="#00c050"/><rect x="763.73" y="123.00" width="4.97" height="4.88" fill="#c0f000"/><rect x="768.65" y="123.00" width="9.90" height="4.88" fill="#f8d000"/><rect x="778.50" y="123.00" width="14.82" height="4.88" fill="#c0f000"/><rect x="793.27" y="123.00" width="14.82" height="4.88" fill="#f0f000"/><rect x="808.05" y="123.00" width="4.98" height="4.88" fill="#f0a000"/><rect x="812.98" y="123.00" width="4.97" height="4.88" fill="#c02800"/><rect x="817.90" y="123.00" width="9.90" height="4.88" fill="#a80000"/><rect x="827.75" y="123.00" width="4.97" height="4.88" fill="#c02800"/><rect x="832.67" y="123.00" width="9.90" height="4.88" fill="#e86c00"/><rect x="842.52" y="123.00" width="4.98" height="4.88" fill="#f8d000"/><rect x="847.45" y="123.00" width="4.97" height="4.88" fill="#e86c00"/><rect x="852.38" y="123.00" width="4.97" height="4.88" fill="#f0a000"/><rect x="857.30" y="123.00" width="9.90" height="4.88" fill="#f8d000"/><rect x="867.15" y="123.00" width="9.90" height="4.88" fill="#e86c00"/><rect x="680.00" y="127.83" width="4.97" height="4.88" fill="#00bc80"/><rect x="684.92" y="127.83" width="4.98" height="4.88" fill="#c0f000"/><rect x="689.85" y="127.83" width="4.97" height="4.88" fill="#f8d000"/><rect x="694.77" y="127.83" width="19.75" height="4.88" fill="#f0a000"/><rect x="714.48" y="127.83" width="4.97" height="4.88" fill="#e86c00"/><rect x="719.40" y="127.83" width="9.90" height="4.88" fill="#f0a000"/><rect x="729.25" y="127.83" width="9.90" height="4.88" fill="#c0f000"/><rect x="739.10" y="127.83" width="9.90" height="4.88" fill="#f8d000"/><rect x="748.95" y="127.83" width="4.97" height="4.88" fill="#00c050"/><rect x="753.88" y="127.83" width="9.90" height="4.88" fill="#c0f000"/><rect x="763.73" y="127.83" width="4.97" height="4.88" fill="#00c050"/><rect x="768.65" y="127.83" width="4.98" height="4.88" fill="#f8d000"/><rect x="773.58" y="127.83" width="9.90" height="4.88" fill="#c0f000"/><rect x="783.42" y="127.83" width="4.98" height="4.88" fill="#50e000"/><rect x="788.35" y="127.83" width="4.97" height="4.88" fill="#c0f000"/><rect x="793.27" y="127.83" width="19.75" height="4.88" fill="#f0f000"/><rect x="812.98" y="127.83" width="4.97" height="4.88" fill="#f0a000"/><rect x="817.90" y="127.83" width="4.98" height="4.88" fill="#e86c00"/><rect x="822.83" y="127.83" width="9.90" height="4.88" fill="#a80000"/><rect x="832.67" y="127.83" width="19.75" height="4.88" fill="#e86c00"/><rect x="852.38" y="127.83" width="9.90" height="4.88" fill="#f0a000"/><rect x="862.23" y="127.83" width="9.90" height="4.88" fill="#e86c00"/><rect x="872.08" y="127.83" width="4.97" height="4.88" fill="#f0a000"/><rect x="680.00" y="132.67" width="9.90" height="4.88" fill="#00bc80"/><rect x="689.85" y="132.67" width="4.97" height="4.88" fill="#00c050"/><rect x="694.77" y="132.67" width="4.98" height="4.88" fill="#c0f000"/><rect x="699.70" y="132.67" width="4.97" height="4.88" fill="#e86c00"/><rect x="704.62" y="132.67" width="4.97" height="4.88" fill="#00c050"/><rect x="709.55" y="132.67" width="4.98" height="4.88" fill="#c0f000"/><rect x="714.48" y="132.67" width="4.97" height="4.88" fill="#f8d000"/><rect x="719.40" y="132.67" width="4.98" height="4.88" fill="#f0a000"/><rect x="724.33" y="132.67" width="14.82" height="4.88" fill="#00c050"/><rect x="739.10" y="132.67" width="9.90" height="4.88" fill="#f8d000"/><rect x="748.95" y="132.67" width="4.97" height="4.88" fill="#00bc80"/><rect x="753.88" y="132.67" width="9.90" height="4.88" fill="#c0f000"/><rect x="763.73" y="132.67" width="4.97" height="4.88" fill="#00c050"/><rect x="768.65" y="132.67" width="9.90" height="4.88" fill="#c0f000"/><rect x="778.50" y="132.67" width="4.97" height="4.88" fill="#f8d000"/><rect x="783.42" y="132.67" width="4.98" height="4.88" fill="#00c050"/><rect x="788.35" y="132.67" width="9.90" height="4.88" fill="#c0f000"/><rect x="798.20" y="132.67" width="4.97" height="4.88" fill="#f0f000"/><rect x="803.12" y="132.67" width="4.97" height="4.88" fill="#c0f000"/><rect x="808.05" y="132.67" width="4.98" height="4.88" fill="#f0f000"/><rect x="812.98" y="132.67" width="4.97" height="4.88" fill="#f0a000"/><rect x="817.90" y="132.67" width="4.98" height="4.88" fill="#e86c00"/><rect x="822.83" y="132.67" width="9.90" height="4.88" fill="#c02800"/><rect x="832.67" y="132.67" width="9.90" height="4.88" fill="#f8d000"/><rect x="842.52" y="132.67" width="24.68" height="4.88" fill="#e86c00"/><rect x="867.15" y="132.67" width="9.90" height="4.88" fill="#f0a000"/><rect x="680.00" y="137.50" width="14.82" height="4.88" fill="#00bc80"/><rect x="694.77" y="137.50" width="9.90" height="4.88" fill="#00c050"/><rect x="704.62" y="137.50" width="4.97" height="4.88" fill="#00bc80"/><rect x="709.55" y="137.50" width="4.98" height="4.88" fill="#c0f000"/><rect x="714.48" y="137.50" width="9.90" height="4.88" fill="#f8d000"/><rect x="724.33" y="137.50" width="9.90" height="4.88" fill="#00c050"/><rect x="734.17" y="137.50" width="4.98" height="4.88" fill="#c0f000"/><rect x="739.10" y="137.50" width="4.97" height="4.88" fill="#f8d000"/><rect x="744.02" y="137.50" width="4.98" height="4.88" fill="#00c050"/><rect x="748.95" y="137.50" width="29.60" height="4.88" fill="#00bc80"/><rect x="778.50" y="137.50" width="9.90" height="4.88" fill="#00c050"/><rect x="788.35" y="137.50" width="4.97" height="4.88" fill="#c0f000"/><rect x="793.27" y="137.50" width="9.90" height="4.88" fill="#f0f000"/><rect x="803.12" y="137.50" width="4.97" height="4.88" fill="#c0f000"/><rect x="808.05" y="137.50" width="4.98" height="4.88" fill="#f0f000"/><rect x="812.98" y="137.50" width="4.97" height="4.88" fill="#f8d000"/><rect x="817.90" y="137.50" width="4.98" height="4.88" fill="#f0a000"/><rect x="822.83" y="137.50" width="9.90" height="4.88" fill="#e86c00"/><rect x="832.67" y="137.50" width="4.98" height="4.88" fill="#c02800"/><rect x="837.60" y="137.50" width="4.97" height="4.88" fill="#f0a000"/><rect x="842.52" y="137.50" width="4.98" height="4.88" fill="#e86c00"/><rect x="847.45" y="137.50" width="4.97" height="4.88" fill="#f0a000"/><rect x="852.38" y="137.50" width="4.97" height="4.88" fill="#f8d000"/><rect x="857.30" y="137.50" width="4.98" height="4.88" fill="#e86c00"/><rect x="862.23" y="137.50" width="14.82" height="4.88" fill="#f0a000"/><rect x="680.00" y="142.33" width="4.97" height="4.88" fill="#00c8c0"/><rect x="684.92" y="142.33" width="29.60" height="4.88" fill="#00bc80"/><rect x="714.48" y="142.33" width="19.75" height="4.88" fill="#00c050"/><rect x="734.17" y="142.33" width="4.98" height="4.88" fill="#f8d000"/><rect x="739.10" y="142.33" width="4.97" height="4.88" fill="#f0a000"/><rect x="744.02" y="142.33" width="4.98" height="4.88" fill="#00c050"/><rect x="748.95" y="142.33" width="9.90" height="4.88" fill="#00bc80"/><rect x="758.80" y="142.33" width="4.98" height="4.88" fill="#00c8c0"/><rect x="763.73" y="142.33" width="14.82" height="4.88" fill="#00bc80"/><rect x="778.50" y="142.33" width="9.90" height="4.88" fill="#00c050"/><rect x="788.35" y="142.33" width="4.97" height="4.88" fill="#c0f000"/><rect x="793.27" y="142.33" width="4.98" height="4.88" fill="#f0f000"/><rect x="798.20" y="142.33" width="4.97" height="4.88" fill="#c0f000"/><rect x="803.12" y="142.33" width="4.97" height="4.88" fill="#00c050"/><rect x="808.05" y="142.33" width="4.98" height="4.88" fill="#c0f000"/><rect x="812.98" y="142.33" width="4.97" height="4.88" fill="#f0f000"/><rect x="817.90" y="142.33" width="9.90" height="4.88" fill="#f0a000"/><rect x="827.75" y="142.33" width="19.75" height="4.88" fill="#e86c00"/><rect x="847.45" y="142.33" width="9.90" height="4.88" fill="#f0a000"/><rect x="857.30" y="142.33" width="4.98" height="4.88" fill="#e86c00"/><rect x="862.23" y="142.33" width="4.97" height="4.88" fill="#f0a000"/><rect x="867.15" y="142.33" width="4.98" height="4.88" fill="#e86c00"/><rect x="872.08" y="142.33" width="4.97" height="4.88" fill="#f0a000"/><rect x="680.00" y="147.17" width="29.60" height="4.88" fill="#00bc80"/><rect x="709.55" y="147.17" width="4.98" height="4.88" fill="#00c8c0"/><rect x="714.48" y="147.17" width="4.97" height="4.88" fill="#00bc80"/><rect x="719.40" y="147.17" width="14.82" height="4.88" fill="#00c050"/><rect x="734.17" y="147.17" width="4.98" height="4.88" fill="#f8d000"/><rect x="739.10" y="147.17" width="4.97" height="4.88" fill="#f0a000"/><rect x="744.02" y="147.17" width="4.98" height="4.88" fill="#00c050"/><rect x="748.95" y="147.17" width="9.90" height="4.88" fill="#00bc80"/><rect x="758.80" y="147.17" width="4.98" height="4.88" fill="#00c8c0"/><rect x="763.73" y="147.17" width="19.75" height="4.88" fill="#00bc80"/><rect x="783.42" y="147.17" width="9.90" height="4.88" fill="#00c050"/><rect x="793.27" y="147.17" width="9.90" height="4.88" fill="#c0f000"/><rect x="803.12" y="147.17" width="4.97" height="4.88" fill="#00c050"/><rect x="808.05" y="147.17" width="4.98" height="4.88" fill="#c0f000"/><rect x="812.98" y="147.17" width="4.97" height="4.88" fill="#f8d000"/><rect x="817.90" y="147.17" width="19.75" height="4.88" fill="#f0a000"/><rect x="837.60" y="147.17" width="4.97" height="4.88" fill="#c02800"/><rect x="842.52" y="147.17" width="9.90" height="4.88" fill="#a80000"/><rect x="852.38" y="147.17" width="4.97" height="4.88" fill="#c02800"/><rect x="857.30" y="147.17" width="9.90" height="4.88" fill="#f0a000"/><rect x="867.15" y="147.17" width="4.98" height="4.88" fill="#e86c00"/><rect x="872.08" y="147.17" width="4.97" height="4.88" fill="#c02800"/><rect x="680.00" y="152.00" width="24.68" height="4.88" fill="#00bc80"/><rect x="704.62" y="152.00" width="9.90" height="4.88" fill="#00c8c0"/><rect x="714.48" y="152.00" width="14.82" height="4.88" fill="#00bc80"/><rect x="729.25" y="152.00" width="4.97" height="4.88" fill="#f8d000"/><rect x="734.17" y="152.00" width="4.98" height="4.88" fill="#f0a000"/><rect x="739.10" y="152.00" width="4.97" height="4.88" fill="#f8d000"/><rect x="744.02" y="152.00" width="4.98" height="4.88" fill="#00c050"/><rect x="748.95" y="152.00" width="9.90" height="4.88" fill="#00bc80"/><rect x="758.80" y="152.00" width="9.90" height="4.88" fill="#00c8c0"/><rect x="768.65" y="152.00" width="19.75" height="4.88" fill="#00bc80"/><rect x="788.35" y="152.00" width="19.75" height="4.88" fill="#00c050"/><rect x="808.05" y="152.00" width="4.98" height="4.88" fill="#c0f000"/><rect x="812.98" y="152.00" width="4.97" height="4.88" fill="#f8d000"/><rect x="817.90" y="152.00" width="14.82" height="4.88" fill="#f0a000"/><rect x="832.67" y="152.00" width="4.98" height="4.88" fill="#e86c00"/><rect x="837.60" y="152.00" width="4.97" height="4.88" fill="#c02800"/><rect x="842.52" y="152.00" width="14.82" height="4.88" fill="#a80000"/><rect x="857.30" y="152.00" width="14.83" height="4.88" fill="#f0a000"/><rect x="872.08" y="152.00" width="4.97" height="4.88" fill="#c02800"/><rect x="680.00" y="156.83" width="4.97" height="4.88" fill="#00c8c0"/><rect x="684.92" y="156.83" width="39.45" height="4.88" fill="#00bc80"/><rect x="724.33" y="156.83" width="4.97" height="4.88" fill="#00c050"/><rect x="729.25" y="156.83" width="4.97" height="4.88" fill="#c0f000"/><rect x="734.17" y="156.83" width="4.98" height="4.88" fill="#f8d000"/><rect x="739.10" y="156.83" width="9.90" height="4.88" fill="#00c050"/><rect x="748.95" y="156.83" width="4.97" height="4.88" fill="#00bc80"/><rect x="753.88" y="156.83" width="4.97" height="4.88" fill="#00c8c0"/><rect x="758.80" y="156.83" width="29.60" height="4.88" fill="#00bc80"/><rect x="788.35" y="156.83" width="14.82" height="4.88" fill="#00c050"/><rect x="803.12" y="156.83" width="4.97" height="4.88" fill="#c0f000"/><rect x="808.05" y="156.83" width="4.98" height="4.88" fill="#f8d000"/><rect x="812.98" y="156.83" width="4.97" height="4.88" fill="#f0a000"/><rect x="817.90" y="156.83" width="4.98" height="4.88" fill="#e86c00"/><rect x="822.83" y="156.83" width="4.97" height="4.88" fill="#c02800"/><rect x="827.75" y="156.83" width="4.97" height="4.88" fill="#e86c00"/><rect x="832.67" y="156.83" width="9.90" height="4.88" fill="#a80000"/><rect x="842.52" y="156.83" width="4.98" height="4.88" fill="#c02800"/><rect x="847.45" y="156.83" width="4.97" height="4.88" fill="#e86c00"/><rect x="852.38" y="156.83" width="24.68" height="4.88" fill="#f0a000"/><rect x="680.00" y="161.67" width="4.97" height="4.88" fill="#00c8c0"/><rect x="684.92" y="161.67" width="4.98" height="4.88" fill="#00c050"/><rect x="689.85" y="161.67" width="14.82" height="4.88" fill="#00bc80"/><rect x="704.62" y="161.67" width="4.97" height="4.88" fill="#00c8c0"/><rect x="709.55" y="161.67" width="14.83" height="4.88" fill="#00bc80"/><rect x="724.33" y="161.67" width="9.90" height="4.88" fill="#00c050"/><rect x="734.17" y="161.67" width="4.98" height="4.88" fill="#c0f000"/><rect x="739.10" y="161.67" width="9.90" height="4.88" fill="#00c050"/><rect x="748.95" y="161.67" width="4.97" height="4.88" fill="#00bc80"/><rect x="753.88" y="161.67" width="4.97" height="4.88" fill="#00c8c0"/><rect x="758.80" y="161.67" width="9.90" height="4.88" fill="#00bc80"/><rect x="768.65" y="161.67" width="4.98" height="4.88" fill="#00c8c0"/><rect x="773.58" y="161.67" width="14.82" height="4.88" fill="#00bc80"/><rect x="788.35" y="161.67" width="14.82" height="4.88" fill="#00c050"/><rect x="803.12" y="161.67" width="4.97" height="4.88" fill="#c0f000"/><rect x="808.05" y="161.67" width="9.90" height="4.88" fill="#f8d000"/><rect x="817.90" y="161.67" width="9.90" height="4.88" fill="#f0a000"/><rect x="827.75" y="161.67" width="4.97" height="4.88" fill="#e86c00"/><rect x="832.67" y="161.67" width="9.90" height="4.88" fill="#c02800"/><rect x="842.52" y="161.67" width="9.90" height="4.88" fill="#e86c00"/><rect x="852.38" y="161.67" width="4.97" height="4.88" fill="#c0f000"/><rect x="857.30" y="161.67" width="19.75" height="4.88" fill="#f0a000"/><rect x="680.00" y="166.50" width="4.97" height="4.88" fill="#00c8c0"/><rect x="684.92" y="166.50" width="4.98" height="4.88" fill="#00bc80"/><rect x="689.85" y="166.50" width="4.97" height="4.88" fill="#00c050"/><rect x="694.77" y="166.50" width="9.90" height="4.88" fill="#00bc80"/><rect x="704.62" y="166.50" width="4.97" height="4.88" fill="#00c8c0"/><rect x="709.55" y="166.50" width="14.83" height="4.88" fill="#00bc80"/><rect x="724.33" y="166.50" width="4.97" height="4.88" fill="#00c050"/><rect x="729.25" y="166.50" width="14.82" height="4.88" fill="#00bc80"/><rect x="744.02" y="166.50" width="14.82" height="4.88" fill="#00c050"/><rect x="758.80" y="166.50" width="4.98" height="4.88" fill="#00bc80"/><rect x="763.73" y="166.50" width="4.97" height="4.88" fill="#00c8c0"/><rect x="768.65" y="166.50" width="19.75" height="4.88" fill="#00bc80"/><rect x="788.35" y="166.50" width="4.97" height="4.88" fill="#00c050"/><rect x="793.27" y="166.50" width="4.98" height="4.88" fill="#c0f000"/><rect x="798.20" y="166.50" width="4.97" height="4.88" fill="#f0f000"/><rect x="803.12" y="166.50" width="19.75" height="4.88" fill="#f8d000"/><rect x="822.83" y="166.50" width="19.75" height="4.88" fill="#e86c00"/><rect x="842.52" y="166.50" width="4.98" height="4.88" fill="#c0f000"/><rect x="847.45" y="166.50" width="4.97" height="4.88" fill="#f8d000"/><rect x="852.38" y="166.50" width="4.97" height="4.88" fill="#e86c00"/><rect x="857.30" y="166.50" width="19.75" height="4.88" fill="#f0a000"/><rect x="680.00" y="171.33" width="4.97" height="4.88" fill="#00c0f0"/><rect x="684.92" y="171.33" width="4.98" height="4.88" fill="#00bc80"/><rect x="689.85" y="171.33" width="9.90" height="4.88" fill="#00c050"/><rect x="699.70" y="171.33" width="4.97" height="4.88" fill="#00c8c0"/><rect x="704.62" y="171.33" width="19.75" height="4.88" fill="#00bc80"/><rect x="724.33" y="171.33" width="4.97" height="4.88" fill="#00c8c0"/><rect x="729.25" y="171.33" width="9.90" height="4.88" fill="#00bc80"/><rect x="739.10" y="171.33" width="14.82" height="4.88" fill="#00c050"/><rect x="753.88" y="171.33" width="4.97" height="4.88" fill="#00bc80"/><rect x="758.80" y="171.33" width="14.83" height="4.88" fill="#00c8c0"/><rect x="773.58" y="171.33" width="14.82" height="4.88" fill="#00bc80"/><rect x="788.35" y="171.33" width="4.97" height="4.88" fill="#00c050"/><rect x="793.27" y="171.33" width="4.98" height="4.88" fill="#c0f000"/><rect x="798.20" y="171.33" width="4.97" height="4.88" fill="#f0f000"/><rect x="803.12" y="171.33" width="4.97" height="4.88" fill="#f0a000"/><rect x="808.05" y="171.33" width="4.98" height="4.88" fill="#e86c00"/><rect x="812.98" y="171.33" width="4.97" height="4.88" fill="#f8d000"/><rect x="817.90" y="171.33" width="9.90" height="4.88" fill="#c0f000"/><rect x="827.75" y="171.33" width="9.90" height="4.88" fill="#f8d000"/><rect x="837.60" y="171.33" width="4.97" height="4.88" fill="#00c050"/><rect x="842.52" y="171.33" width="4.98" height="4.88" fill="#c0f000"/><rect x="847.45" y="171.33" width="4.97" height="4.88" fill="#f8d000"/><rect x="852.38" y="171.33" width="4.97" height="4.88" fill="#f0a000"/><rect x="857.30" y="171.33" width="4.98" height="4.88" fill="#f8d000"/><rect x="862.23" y="171.33" width="9.90" height="4.88" fill="#f0a000"/><rect x="872.08" y="171.33" width="4.97" height="4.88" fill="#e86c00"/><rect x="680.00" y="176.17" width="9.90" height="4.88" fill="#00c0f0"/><rect x="689.85" y="176.17" width="4.97" height="4.88" fill="#00c8c0"/><rect x="694.77" y="176.17" width="4.98" height="4.88" fill="#00bc80"/><rect x="699.70" y="176.17" width="4.97" height="4.88" fill="#00c8c0"/><rect x="704.62" y="176.17" width="14.82" height="4.88" fill="#00bc80"/><rect x="719.40" y="176.17" width="4.98" height="4.88" fill="#00c8c0"/><rect x="724.33" y="176.17" width="4.97" height="4.88" fill="#00c0f0"/><rect x="729.25" y="176.17" width="4.97" height="4.88" fill="#00c8c0"/><rect x="734.17" y="176.17" width="4.98" height="4.88" fill="#00bc80"/><rect x="739.10" y="176.17" width="14.82" height="4.88" fill="#00c050"/><rect x="753.88" y="176.17" width="4.97" height="4.88" fill="#00bc80"/><rect x="758.80" y="176.17" width="4.98" height="4.88" fill="#00c8c0"/><rect x="763.73" y="176.17" width="9.90" height="4.88" fill="#00c0f0"/><rect x="773.58" y="176.17" width="14.82" height="4.88" fill="#00bc80"/><rect x="788.35" y="176.17" width="4.97" height="4.88" fill="#00c050"/><rect x="793.27" y="176.17" width="4.98" height="4.88" fill="#c0f000"/><rect x="798.20" y="176.17" width="9.90" height="4.88" fill="#f0f000"/><rect x="808.05" y="176.17" width="4.98" height="4.88" fill="#f0a000"/><rect x="812.98" y="176.17" width="4.97" height="4.88" fill="#c0f000"/><rect x="817.90" y="176.17" width="4.98" height="4.88" fill="#00c050"/><rect x="822.83" y="176.17" width="4.97" height="4.88" fill="#00c8c0"/><rect x="827.75" y="176.17" width="4.97" height="4.88" fill="#c0f000"/><rect x="832.67" y="176.17" width="4.98" height="4.88" fill="#f8d000"/><rect x="837.60" y="176.17" width="4.97" height="4.88" fill="#c0f000"/><rect x="842.52" y="176.17" width="9.90" height="4.88" fill="#00c050"/><rect x="852.38" y="176.17" width="4.97" height="4.88" fill="#f8d000"/><rect x="857.30" y="176.17" width="4.98" height="4.88" fill="#f0a000"/><rect x="862.23" y="176.17" width="14.82" height="4.88" fill="#e86c00"/><rect x="680.00" y="181.00" width="4.97" height="4.88" fill="#00c0f0"/><rect x="684.92" y="181.00" width="4.98" height="4.88" fill="#0078f0"/><rect x="689.85" y="181.00" width="4.97" height="4.88" fill="#00c0f0"/><rect x="694.77" y="181.00" width="4.98" height="4.88" fill="#00c8c0"/><rect x="699.70" y="181.00" width="14.82" height="4.88" fill="#00bc80"/><rect x="714.48" y="181.00" width="9.90" height="4.88" fill="#00c8c0"/><rect x="724.33" y="181.00" width="4.97" height="4.88" fill="#0098f0"/><rect x="729.25" y="181.00" width="4.97" height="4.88" fill="#00c0f0"/><rect x="734.17" y="181.00" width="4.98" height="4.88" fill="#00bc80"/><rect x="739.10" y="181.00" width="9.90" height="4.88" fill="#00c050"/><rect x="748.95" y="181.00" width="4.97" height="4.88" fill="#50e000"/><rect x="753.88" y="181.00" width="4.97" height="4.88" fill="#00c050"/><rect x="758.80" y="181.00" width="4.98" height="4.88" fill="#00bc80"/><rect x="763.73" y="181.00" width="4.97" height="4.88" fill="#00c8c0"/><rect x="768.65" y="181.00" width="4.98" height="4.88" fill="#00c0f0"/><rect x="773.58" y="181.00" width="14.82" height="4.88" fill="#00bc80"/><rect x="788.35" y="181.00" width="4.97" height="4.88" fill="#00c050"/><rect x="793.27" y="181.00" width="4.98" height="4.88" fill="#c0f000"/><rect x="798.20" y="181.00" width="4.97" height="4.88" fill="#f0f000"/><rect x="803.12" y="181.00" width="4.97" height="4.88" fill="#f8d000"/><rect x="808.05" y="181.00" width="4.98" height="4.88" fill="#f0f000"/><rect x="812.98" y="181.00" width="4.97" height="4.88" fill="#00c050"/><rect x="817.90" y="181.00" width="4.98" height="4.88" fill="#c0f000"/><rect x="822.83" y="181.00" width="9.90" height="4.88" fill="#f8d000"/><rect x="832.67" y="181.00" width="4.98" height="4.88" fill="#00c050"/><rect x="837.60" y="181.00" width="9.90" height="4.88" fill="#f8d000"/><rect x="847.45" y="181.00" width="4.97" height="4.88" fill="#00c050"/><rect x="852.38" y="181.00" width="4.97" height="4.88" fill="#f8d000"/><rect x="857.30" y="181.00" width="19.75" height="4.88" fill="#f0a000"/><rect x="680.00" y="185.83" width="4.97" height="4.88" fill="#00c0f0"/><rect x="684.92" y="185.83" width="14.83" height="4.88" fill="#0098f0"/><rect x="699.70" y="185.83" width="4.97" height="4.88" fill="#00c0f0"/><rect x="704.62" y="185.83" width="4.97" height="4.88" fill="#00c8c0"/><rect x="709.55" y="185.83" width="4.98" height="4.88" fill="#00bc80"/><rect x="714.48" y="185.83" width="4.97" height="4.88" fill="#00c8c0"/><rect x="719.40" y="185.83" width="4.98" height="4.88" fill="#00c0f0"/><rect x="724.33" y="185.83" width="4.97" height="4.88" fill="#0098f0"/><rect x="729.25" y="185.83" width="4.97" height="4.88" fill="#00c8c0"/><rect x="734.17" y="185.83" width="4.98" height="4.88" fill="#00bc80"/><rect x="739.10" y="185.83" width="14.82" height="4.88" fill="#00c050"/><rect x="753.88" y="185.83" width="4.97" height="4.88" fill="#00bc80"/><rect x="758.80" y="185.83" width="4.98" height="4.88" fill="#00c8c0"/><rect x="763.73" y="185.83" width="4.97" height="4.88" fill="#00bc80"/><rect x="768.65" y="185.83" width="4.98" height="4.88" fill="#00c8c0"/><rect x="773.58" y="185.83" width="9.90" height="4.88" fill="#00bc80"/><rect x="783.42" y="185.83" width="9.90" height="4.88" fill="#00c050"/><rect x="793.27" y="185.83" width="4.98" height="4.88" fill="#c0f000"/><rect x="798.20" y="185.83" width="4.97" height="4.88" fill="#f0f000"/><rect x="803.12" y="185.83" width="9.90" height="4.88" fill="#f8d000"/><rect x="812.98" y="185.83" width="4.97" height="4.88" fill="#0098f0"/><rect x="817.90" y="185.83" width="4.98" height="4.88" fill="#c0f000"/><rect x="822.83" y="185.83" width="4.97" height="4.88" fill="#f0a000"/><rect x="827.75" y="185.83" width="4.97" height="4.88" fill="#f8d000"/><rect x="832.67" y="185.83" width="39.45" height="4.88" fill="#f0a000"/><rect x="872.08" y="185.83" width="4.97" height="4.88" fill="#c0f000"/><rect x="680.00" y="190.67" width="4.97" height="4.88" fill="#0098f0"/><rect x="684.92" y="190.67" width="4.98" height="4.88" fill="#0078f0"/><rect x="689.85" y="190.67" width="4.97" height="4.88" fill="#0098f0"/><rect x="694.77" y="190.67" width="4.98" height="4.88" fill="#0078f0"/><rect x="699.70" y="190.67" width="4.97" height="4.88" fill="#0098f0"/><rect x="704.62" y="190.67" width="4.97" height="4.88" fill="#00c0f0"/><rect x="709.55" y="190.67" width="9.90" height="4.88" fill="#00bc80"/><rect x="719.40" y="190.67" width="9.90" height="4.88" fill="#00c0f0"/><rect x="729.25" y="190.67" width="9.90" height="4.88" fill="#00c8c0"/><rect x="739.10" y="190.67" width="24.68" height="4.88" fill="#00bc80"/><rect x="763.73" y="190.67" width="9.90" height="4.88" fill="#00c8c0"/><rect x="773.58" y="190.67" width="4.97" height="4.88" fill="#00bc80"/><rect x="778.50" y="190.67" width="4.97" height="4.88" fill="#00c050"/><rect x="783.42" y="190.67" width="9.90" height="4.88" fill="#f8d000"/><rect x="793.27" y="190.67" width="9.90" height="4.88" fill="#f0f000"/><rect x="803.12" y="190.67" width="4.97" height="4.88" fill="#c0f000"/><rect x="808.05" y="190.67" width="9.90" height="4.88" fill="#00c050"/><rect x="817.90" y="190.67" width="4.98" height="4.88" fill="#c0f000"/><rect x="822.83" y="190.67" width="19.75" height="4.88" fill="#f8d000"/><rect x="842.52" y="190.67" width="9.90" height="4.88" fill="#00c050"/><rect x="852.38" y="190.67" width="4.97" height="4.88" fill="#c0f000"/><rect x="857.30" y="190.67" width="4.98" height="4.88" fill="#f8d000"/><rect x="862.23" y="190.67" width="4.97" height="4.88" fill="#c0f000"/><rect x="867.15" y="190.67" width="4.98" height="4.88" fill="#00c050"/><rect x="872.08" y="190.67" width="4.97" height="4.88" fill="#c0f000"/><rect x="680.00" y="195.50" width="4.97" height="4.88" fill="#0078f0"/><rect x="684.92" y="195.50" width="14.83" height="4.88" fill="#0098f0"/><rect x="699.70" y="195.50" width="4.97" height="4.88" fill="#0078f0"/><rect x="704.62" y="195.50" width="9.90" height="4.88" fill="#00c0f0"/><rect x="714.48" y="195.50" width="4.97" height="4.88" fill="#00c8c0"/><rect x="719.40" y="195.50" width="4.98" height="4.88" fill="#0098f0"/><rect x="724.33" y="195.50" width="4.97" height="4.88" fill="#00c0f0"/><rect x="729.25" y="195.50" width="14.82" height="4.88" fill="#00c8c0"/><rect x="744.02" y="195.50" width="9.90" height="4.88" fill="#00bc80"/><rect x="753.88" y="195.50" width="9.90" height="4.88" fill="#00c8c0"/><rect x="763.73" y="195.50" width="9.90" height="4.88" fill="#00c0f0"/><rect x="773.58" y="195.50" width="4.97" height="4.88" fill="#00c8c0"/><rect x="778.50" y="195.50" width="24.68" height="4.88" fill="#00c050"/><rect x="803.12" y="195.50" width="4.97" height="4.88" fill="#0098f0"/><rect x="808.05" y="195.50" width="14.83" height="4.88" fill="#00c050"/><rect x="822.83" y="195.50" width="9.90" height="4.88" fill="#f8d000"/><rect x="832.67" y="195.50" width="4.98" height="4.88" fill="#f0a000"/><rect x="837.60" y="195.50" width="4.97" height="4.88" fill="#f8d000"/><rect x="842.52" y="195.50" width="4.98" height="4.88" fill="#c0f000"/><rect x="847.45" y="195.50" width="9.90" height="4.88" fill="#00c050"/><rect x="857.30" y="195.50" width="4.98" height="4.88" fill="#c0f000"/><rect x="862.23" y="195.50" width="4.97" height="4.88" fill="#00c050"/><rect x="867.15" y="195.50" width="4.98" height="4.88" fill="#c0f000"/><rect x="872.08" y="195.50" width="4.97" height="4.88" fill="#f8d000"/><rect x="680.00" y="200.33" width="4.97" height="4.88" fill="#0098f0"/><rect x="684.92" y="200.33" width="4.98" height="4.88" fill="#0078f0"/><rect x="689.85" y="200.33" width="4.97" height="4.88" fill="#0098f0"/><rect x="694.77" y="200.33" width="4.98" height="4.88" fill="#0078f0"/><rect x="699.70" y="200.33" width="4.97" height="4.88" fill="#0098f0"/><rect x="704.62" y="200.33" width="9.90" height="4.88" fill="#00c0f0"/><rect x="714.48" y="200.33" width="4.97" height="4.88" fill="#0078f0"/><rect x="719.40" y="200.33" width="4.98" height="4.88" fill="#0098f0"/><rect x="724.33" y="200.33" width="4.97" height="4.88" fill="#00c0f0"/><rect x="729.25" y="200.33" width="9.90" height="4.88" fill="#00c8c0"/><rect x="739.10" y="200.33" width="4.97" height="4.88" fill="#0098f0"/><rect x="744.02" y="200.33" width="9.90" height="4.88" fill="#00c0f0"/><rect x="753.88" y="200.33" width="4.97" height="4.88" fill="#00c8c0"/><rect x="758.80" y="200.33" width="9.90" height="4.88" fill="#0078f0"/><rect x="768.65" y="200.33" width="4.98" height="4.88" fill="#0098f0"/><rect x="773.58" y="200.33" width="4.97" height="4.88" fill="#00c8c0"/><rect x="778.50" y="200.33" width="9.90" height="4.88" fill="#00c050"/><rect x="788.35" y="200.33" width="9.90" height="4.88" fill="#00bc80"/><rect x="798.20" y="200.33" width="4.97" height="4.88" fill="#00c050"/><rect x="803.12" y="200.33" width="4.97" height="4.88" fill="#0098f0"/><rect x="808.05" y="200.33" width="4.98" height="4.88" fill="#00bc80"/><rect x="812.98" y="200.33" width="14.82" height="4.88" fill="#00c050"/><rect x="827.75" y="200.33" width="4.97" height="4.88" fill="#f8d000"/><rect x="832.67" y="200.33" width="9.90" height="4.88" fill="#f0a000"/><rect x="842.52" y="200.33" width="4.98" height="4.88" fill="#f8d000"/><rect x="847.45" y="200.33" width="14.82" height="4.88" fill="#00c050"/><rect x="862.23" y="200.33" width="14.82" height="4.88" fill="#f8d000"/><rect x="680.00" y="205.17" width="14.82" height="4.88" fill="#0098f0"/><rect x="694.77" y="205.17" width="4.98" height="4.88" fill="#00c0f0"/><rect x="699.70" y="205.17" width="9.90" height="4.88" fill="#00c8c0"/><rect x="709.55" y="205.17" width="4.98" height="4.88" fill="#00c0f0"/><rect x="714.48" y="205.17" width="4.97" height="4.88" fill="#0010a0"/><rect x="719.40" y="205.17" width="4.98" height="4.88" fill="#ffffff"/><rect x="724.33" y="205.17" width="4.97" height="4.88" fill="#00c0f0"/><rect x="729.25" y="205.17" width="4.97" height="4.88" fill="#00c8c0"/><rect x="734.17" y="205.17" width="4.98" height="4.88" fill="#00c0f0"/><rect x="739.10" y="205.17" width="9.90" height="4.88" fill="#0098f0"/><rect x="748.95" y="205.17" width="14.82" height="4.88" fill="#0078f0"/><rect x="763.73" y="205.17" width="4.97" height="4.88" fill="#0098f0"/><rect x="768.65" y="205.17" width="4.98" height="4.88" fill="#00c0f0"/><rect x="773.58" y="205.17" width="4.97" height="4.88" fill="#00c8c0"/><rect x="778.50" y="205.17" width="9.90" height="4.88" fill="#00bc80"/><rect x="788.35" y="205.17" width="4.97" height="4.88" fill="#00c8c0"/><rect x="793.27" y="205.17" width="24.68" height="4.88" fill="#00bc80"/><rect x="817.90" y="205.17" width="19.75" height="4.88" fill="#00c050"/><rect x="837.60" y="205.17" width="4.97" height="4.88" fill="#c0f000"/><rect x="842.52" y="205.17" width="4.98" height="4.88" fill="#f8d000"/><rect x="847.45" y="205.17" width="14.82" height="4.88" fill="#00c050"/><rect x="862.23" y="205.17" width="4.97" height="4.88" fill="#c0f000"/><rect x="867.15" y="205.17" width="4.98" height="4.88" fill="#f8d000"/><rect x="872.08" y="205.17" width="4.97" height="4.88" fill="#c0f000"/></g>
<circle cx="778.5" cy="151.5" r="5" fill="none" stroke="#000" stroke-width="1.1"/>
<path d="M749.6 102 L749.2 106 L748.6 108.5" fill="none" stroke="#000" stroke-width="1.8"/>
<circle cx="857" cy="64.8" r="1.4" fill="none" stroke="#000" stroke-width="1.3"/>
<rect x="679" y="35" width="199" height="1" fill="#000"/>
<rect x="679" y="267" width="199" height="1" fill="#000"/>
<rect x="679" y="35" width="1" height="233" fill="#000"/>
<rect x="877" y="35" width="1" height="233" fill="#000"/>
<rect x="707" y="32" width="1" height="3" fill="#000"/>
<rect x="707" y="268" width="1" height="2" fill="#000"/>
<rect x="760" y="32" width="1" height="3" fill="#000"/>
<rect x="760" y="268" width="1" height="2" fill="#000"/>
<rect x="813" y="32" width="1" height="3" fill="#000"/>
<rect x="813" y="268" width="1" height="2" fill="#000"/>
<rect x="865" y="32" width="1" height="3" fill="#000"/>
<rect x="865" y="268" width="1" height="2" fill="#000"/>
<rect x="677" y="54" width="2" height="1" fill="#000"/>
<rect x="878" y="54" width="2" height="1" fill="#000"/>
<text x="674" y="57.5" font-size="12" font-weight="bold" text-anchor="end" >-52</text>
<rect x="677" y="93" width="2" height="1" fill="#000"/>
<rect x="878" y="93" width="2" height="1" fill="#000"/>
<text x="674" y="96.5" font-size="12" font-weight="bold" text-anchor="end" >-54</text>
<rect x="677" y="132" width="2" height="1" fill="#000"/>
<rect x="878" y="132" width="2" height="1" fill="#000"/>
<text x="674" y="135.5" font-size="12" font-weight="bold" text-anchor="end" >-56</text>
<rect x="677" y="170" width="2" height="1" fill="#000"/>
<rect x="878" y="170" width="2" height="1" fill="#000"/>
<text x="674" y="173.5" font-size="12" font-weight="bold" text-anchor="end" >-58</text>
<rect x="677" y="209" width="2" height="1" fill="#000"/>
<rect x="878" y="209" width="2" height="1" fill="#000"/>
<text x="674" y="212.5" font-size="12" font-weight="bold" text-anchor="end" >-60</text>
<rect x="677" y="248" width="2" height="1" fill="#000"/>
<rect x="878" y="248" width="2" height="1" fill="#000"/>
<text x="674" y="251.5" font-size="12" font-weight="bold" text-anchor="end" >-62</text>
<text x="707.5" y="284" font-size="12" font-weight="bold" text-anchor="middle" >155</text>
<text x="760.5" y="284" font-size="12" font-weight="bold" text-anchor="middle" >160</text>
<text x="813.5" y="284" font-size="12" font-weight="bold" text-anchor="middle" >165</text>
<text x="865.5" y="284" font-size="12" font-weight="bold" text-anchor="middle" >170</text>
<defs><filter id="bl1" x="680" y="326" width="197" height="174" filterUnits="userSpaceOnUse"><feGaussianBlur stdDeviation="1.2" edgeMode="duplicate"/></filter></defs>
<g filter="url(#bl1)" shape-rendering="crispEdges"><rect x="680.00" y="326.00" width="4.97" height="4.88" fill="#b8f800"/><rect x="684.92" y="326.00" width="19.75" height="4.88" fill="#e0f400"/><rect x="704.62" y="326.00" width="9.90" height="4.88" fill="#f8d800"/><rect x="714.48" y="326.00" width="9.90" height="4.88" fill="#e0f400"/><rect x="724.33" y="326.00" width="4.97" height="4.88" fill="#60e800"/><rect x="729.25" y="326.00" width="4.97" height="4.88" fill="#b8f800"/><rect x="734.17" y="326.00" width="34.53" height="4.88" fill="#00e000"/><rect x="768.65" y="326.00" width="14.82" height="4.88" fill="#b8f800"/><rect x="783.42" y="326.00" width="4.98" height="4.88" fill="#00e000"/><rect x="788.35" y="326.00" width="9.90" height="4.88" fill="#00c030"/><rect x="798.20" y="326.00" width="9.90" height="4.88" fill="#00e000"/><rect x="808.05" y="326.00" width="4.98" height="4.88" fill="#60e800"/><rect x="812.98" y="326.00" width="4.97" height="4.88" fill="#b8f800"/><rect x="817.90" y="326.00" width="14.82" height="4.88" fill="#00e000"/><rect x="832.67" y="326.00" width="9.90" height="4.88" fill="#60e800"/><rect x="842.52" y="326.00" width="9.90" height="4.88" fill="#b8f800"/><rect x="852.38" y="326.00" width="4.97" height="4.88" fill="#e0f400"/><rect x="857.30" y="326.00" width="4.98" height="4.88" fill="#b8f800"/><rect x="862.23" y="326.00" width="4.97" height="4.88" fill="#60e800"/><rect x="867.15" y="326.00" width="4.98" height="4.88" fill="#b8f800"/><rect x="872.08" y="326.00" width="4.97" height="4.88" fill="#00e000"/><rect x="680.00" y="330.83" width="4.97" height="4.88" fill="#b8f800"/><rect x="684.92" y="330.83" width="9.90" height="4.88" fill="#e0f400"/><rect x="694.77" y="330.83" width="24.68" height="4.88" fill="#f8d800"/><rect x="719.40" y="330.83" width="4.98" height="4.88" fill="#e0f400"/><rect x="724.33" y="330.83" width="9.90" height="4.88" fill="#b8f800"/><rect x="734.17" y="330.83" width="9.90" height="4.88" fill="#60e800"/><rect x="744.02" y="330.83" width="4.98" height="4.88" fill="#b8f800"/><rect x="748.95" y="330.83" width="9.90" height="4.88" fill="#00e000"/><rect x="758.80" y="330.83" width="4.98" height="4.88" fill="#00b880"/><rect x="763.73" y="330.83" width="9.90" height="4.88" fill="#00e000"/><rect x="773.58" y="330.83" width="9.90" height="4.88" fill="#b8f800"/><rect x="783.42" y="330.83" width="4.98" height="4.88" fill="#00e000"/><rect x="788.35" y="330.83" width="9.90" height="4.88" fill="#00c030"/><rect x="798.20" y="330.83" width="4.97" height="4.88" fill="#00e000"/><rect x="803.12" y="330.83" width="4.97" height="4.88" fill="#60e800"/><rect x="808.05" y="330.83" width="4.98" height="4.88" fill="#b8f800"/><rect x="812.98" y="330.83" width="4.97" height="4.88" fill="#60e800"/><rect x="817.90" y="330.83" width="19.75" height="4.88" fill="#00e000"/><rect x="837.60" y="330.83" width="9.90" height="4.88" fill="#60e800"/><rect x="847.45" y="330.83" width="4.97" height="4.88" fill="#b8f800"/><rect x="852.38" y="330.83" width="4.97" height="4.88" fill="#e0f400"/><rect x="857.30" y="330.83" width="14.83" height="4.88" fill="#b8f800"/><rect x="872.08" y="330.83" width="4.97" height="4.88" fill="#60e800"/><rect x="680.00" y="335.67" width="4.97" height="4.88" fill="#b8f800"/><rect x="684.92" y="335.67" width="9.90" height="4.88" fill="#e0f400"/><rect x="694.77" y="335.67" width="4.98" height="4.88" fill="#f8d800"/><rect x="699.70" y="335.67" width="14.82" height="4.88" fill="#f8a800"/><rect x="714.48" y="335.67" width="9.90" height="4.88" fill="#f8d800"/><rect x="724.33" y="335.67" width="4.97" height="4.88" fill="#e0f400"/><rect x="729.25" y="335.67" width="4.97" height="4.88" fill="#f8d800"/><rect x="734.17" y="335.67" width="14.83" height="4.88" fill="#e0f400"/><rect x="748.95" y="335.67" width="4.97" height="4.88" fill="#00e000"/><rect x="753.88" y="335.67" width="14.82" height="4.88" fill="#00b880"/><rect x="768.65" y="335.67" width="4.98" height="4.88" fill="#00e000"/><rect x="773.58" y="335.67" width="9.90" height="4.88" fill="#b8f800"/><rect x="783.42" y="335.67" width="4.98" height="4.88" fill="#00e000"/><rect x="788.35" y="335.67" width="9.90" height="4.88" fill="#00c030"/><rect x="798.20" y="335.67" width="4.97" height="4.88" fill="#00e000"/><rect x="803.12" y="335.67" width="9.90" height="4.88" fill="#b8f800"/><rect x="812.98" y="335.67" width="9.90" height="4.88" fill="#00e000"/><rect x="822.83" y="335.67" width="9.90" height="4.88" fill="#60e800"/><rect x="832.67" y="335.67" width="4.98" height="4.88" fill="#00e000"/><rect x="837.60" y="335.67" width="9.90" height="4.88" fill="#60e800"/><rect x="847.45" y="335.67" width="4.97" height="4.88" fill="#b8f800"/><rect x="852.38" y="335.67" width="4.97" height="4.88" fill="#e0f400"/><rect x="857.30" y="335.67" width="4.98" height="4.88" fill="#00e000"/><rect x="862.23" y="335.67" width="9.90" height="4.88" fill="#b8f800"/><rect x="872.08" y="335.67" width="4.97" height="4.88" fill="#60e800"/><rect x="680.00" y="340.50" width="4.97" height="4.88" fill="#b8f800"/><rect x="684.92" y="340.50" width="9.90" height="4.88" fill="#e0f400"/><rect x="694.77" y="340.50" width="29.60" height="4.88" fill="#f8a800"/><rect x="724.33" y="340.50" width="4.97" height="4.88" fill="#f8d800"/><rect x="729.25" y="340.50" width="4.97" height="4.88" fill="#f8a800"/><rect x="734.17" y="340.50" width="14.83" height="4.88" fill="#f8d800"/><rect x="748.95" y="340.50" width="4.97" height="4.88" fill="#00e000"/><rect x="753.88" y="340.50" width="14.82" height="4.88" fill="#00b880"/><rect x="768.65" y="340.50" width="9.90" height="4.88" fill="#00e000"/><rect x="778.50" y="340.50" width="4.97" height="4.88" fill="#60e800"/><rect x="783.42" y="340.50" width="4.98" height="4.88" fill="#00e000"/><rect x="788.35" y="340.50" width="9.90" height="4.88" fill="#00c030"/><rect x="798.20" y="340.50" width="4.97" height="4.88" fill="#00e000"/><rect x="803.12" y="340.50" width="9.90" height="4.88" fill="#b8f800"/><rect x="812.98" y="340.50" width="4.97" height="4.88" fill="#00e000"/><rect x="817.90" y="340.50" width="14.82" height="4.88" fill="#60e800"/><rect x="832.67" y="340.50" width="4.98" height="4.88" fill="#00e000"/><rect x="837.60" y="340.50" width="4.97" height="4.88" fill="#b8f800"/><rect x="842.52" y="340.50" width="4.98" height="4.88" fill="#60e800"/><rect x="847.45" y="340.50" width="4.97" height="4.88" fill="#b8f800"/><rect x="852.38" y="340.50" width="4.97" height="4.88" fill="#e0f400"/><rect x="857.30" y="340.50" width="4.98" height="4.88" fill="#00e000"/><rect x="862.23" y="340.50" width="9.90" height="4.88" fill="#b8f800"/><rect x="872.08" y="340.50" width="4.97" height="4.88" fill="#60e800"/><rect x="680.00" y="345.33" width="4.97" height="4.88" fill="#b8f800"/><rect x="684.92" y="345.33" width="4.98" height="4.88" fill="#e0f400"/><rect x="689.85" y="345.33" width="4.97" height="4.88" fill="#f8d800"/><rect x="694.77" y="345.33" width="19.75" height="4.88" fill="#f8a800"/><rect x="714.48" y="345.33" width="9.90" height="4.88" fill="#e87800"/><rect x="724.33" y="345.33" width="9.90" height="4.88" fill="#f8a800"/><rect x="734.17" y="345.33" width="14.83" height="4.88" fill="#f8d800"/><rect x="748.95" y="345.33" width="4.97" height="4.88" fill="#e0f400"/><rect x="753.88" y="345.33" width="4.97" height="4.88" fill="#00e000"/><rect x="758.80" y="345.33" width="9.90" height="4.88" fill="#00b880"/><rect x="768.65" y="345.33" width="19.75" height="4.88" fill="#00e000"/><rect x="788.35" y="345.33" width="4.97" height="4.88" fill="#00c030"/><rect x="793.27" y="345.33" width="9.90" height="4.88" fill="#00e000"/><rect x="803.12" y="345.33" width="9.90" height="4.88" fill="#b8f800"/><rect x="812.98" y="345.33" width="4.97" height="4.88" fill="#00e000"/><rect x="817.90" y="345.33" width="4.98" height="4.88" fill="#60e800"/><rect x="822.83" y="345.33" width="4.97" height="4.88" fill="#b8f800"/><rect x="827.75" y="345.33" width="4.97" height="4.88" fill="#00e000"/><rect x="832.67" y="345.33" width="4.98" height="4.88" fill="#60e800"/><rect x="837.60" y="345.33" width="4.97" height="4.88" fill="#b8f800"/><rect x="842.52" y="345.33" width="4.98" height="4.88" fill="#60e800"/><rect x="847.45" y="345.33" width="9.90" height="4.88" fill="#b8f800"/><rect x="857.30" y="345.33" width="4.98" height="4.88" fill="#00e000"/><rect x="862.23" y="345.33" width="9.90" height="4.88" fill="#b8f800"/><rect x="872.08" y="345.33" width="4.97" height="4.88" fill="#60e800"/><rect x="680.00" y="350.17" width="4.97" height="4.88" fill="#00e000"/><rect x="684.92" y="350.17" width="4.98" height="4.88" fill="#b8f800"/><rect x="689.85" y="350.17" width="4.97" height="4.88" fill="#e0f400"/><rect x="694.77" y="350.17" width="14.82" height="4.88" fill="#f8d800"/><rect x="709.55" y="350.17" width="9.90" height="4.88" fill="#f8a800"/><rect x="719.40" y="350.17" width="4.98" height="4.88" fill="#e87800"/><rect x="724.33" y="350.17" width="4.97" height="4.88" fill="#f8a800"/><rect x="729.25" y="350.17" width="14.82" height="4.88" fill="#f8d800"/><rect x="744.02" y="350.17" width="4.98" height="4.88" fill="#f8a800"/><rect x="748.95" y="350.17" width="4.97" height="4.88" fill="#f8d800"/><rect x="753.88" y="350.17" width="29.60" height="4.88" fill="#00e000"/><rect x="783.42" y="350.17" width="4.98" height="4.88" fill="#00c030"/><rect x="788.35" y="350.17" width="14.82" height="4.88" fill="#00e000"/><rect x="803.12" y="350.17" width="9.90" height="4.88" fill="#b8f800"/><rect x="812.98" y="350.17" width="4.97" height="4.88" fill="#00e000"/><rect x="817.90" y="350.17" width="4.98" height="4.88" fill="#60e800"/><rect x="822.83" y="350.17" width="4.97" height="4.88" fill="#b8f800"/><rect x="827.75" y="350.17" width="4.97" height="4.88" fill="#00e000"/><rect x="832.67" y="350.17" width="4.98" height="4.88" fill="#60e800"/><rect x="837.60" y="350.17" width="4.97" height="4.88" fill="#b8f800"/><rect x="842.52" y="350.17" width="4.98" height="4.88" fill="#60e800"/><rect x="847.45" y="350.17" width="9.90" height="4.88" fill="#b8f800"/><rect x="857.30" y="350.17" width="4.98" height="4.88" fill="#00e000"/><rect x="862.23" y="350.17" width="9.90" height="4.88" fill="#b8f800"/><rect x="872.08" y="350.17" width="4.97" height="4.88" fill="#60e800"/><rect x="680.00" y="355.00" width="9.90" height="4.88" fill="#00e000"/><rect x="689.85" y="355.00" width="9.90" height="4.88" fill="#b8f800"/><rect x="699.70" y="355.00" width="4.97" height="4.88" fill="#e0f400"/><rect x="704.62" y="355.00" width="14.82" height="4.88" fill="#f8d800"/><rect x="719.40" y="355.00" width="9.90" height="4.88" fill="#f8a800"/><rect x="729.25" y="355.00" width="9.90" height="4.88" fill="#f8d800"/><rect x="739.10" y="355.00" width="9.90" height="4.88" fill="#f8a800"/><rect x="748.95" y="355.00" width="4.97" height="4.88" fill="#f8d800"/><rect x="753.88" y="355.00" width="4.97" height="4.88" fill="#b8f800"/><rect x="758.80" y="355.00" width="24.68" height="4.88" fill="#00e000"/><rect x="783.42" y="355.00" width="4.98" height="4.88" fill="#00c030"/><rect x="788.35" y="355.00" width="14.82" height="4.88" fill="#00e000"/><rect x="803.12" y="355.00" width="4.97" height="4.88" fill="#b8f800"/><rect x="808.05" y="355.00" width="9.90" height="4.88" fill="#00e000"/><rect x="817.90" y="355.00" width="9.90" height="4.88" fill="#b8f800"/><rect x="827.75" y="355.00" width="9.90" height="4.88" fill="#00e000"/><rect x="837.60" y="355.00" width="4.97" height="4.88" fill="#60e800"/><rect x="842.52" y="355.00" width="9.90" height="4.88" fill="#b8f800"/><rect x="852.38" y="355.00" width="4.97" height="4.88" fill="#60e800"/><rect x="857.30" y="355.00" width="4.98" height="4.88" fill="#00e000"/><rect x="862.23" y="355.00" width="9.90" height="4.88" fill="#b8f800"/><rect x="872.08" y="355.00" width="4.97" height="4.88" fill="#60e800"/><rect x="680.00" y="359.83" width="4.97" height="4.88" fill="#00b880"/><rect x="684.92" y="359.83" width="24.68" height="4.88" fill="#00e000"/><rect x="709.55" y="359.83" width="4.98" height="4.88" fill="#00b880"/><rect x="714.48" y="359.83" width="4.97" height="4.88" fill="#b8f800"/><rect x="719.40" y="359.83" width="4.98" height="4.88" fill="#f8d800"/><rect x="724.33" y="359.83" width="4.97" height="4.88" fill="#f8a800"/><rect x="729.25" y="359.83" width="4.97" height="4.88" fill="#b8f800"/><rect x="734.17" y="359.83" width="4.98" height="4.88" fill="#f8d800"/><rect x="739.10" y="359.83" width="9.90" height="4.88" fill="#f8a800"/><rect x="748.95" y="359.83" width="4.97" height="4.88" fill="#f8d800"/><rect x="753.88" y="359.83" width="4.97" height="4.88" fill="#b8f800"/><rect x="758.80" y="359.83" width="24.68" height="4.88" fill="#00e000"/><rect x="783.42" y="359.83" width="14.83" height="4.88" fill="#00c030"/><rect x="798.20" y="359.83" width="4.97" height="4.88" fill="#00e000"/><rect x="803.12" y="359.83" width="4.97" height="4.88" fill="#60e800"/><rect x="808.05" y="359.83" width="9.90" height="4.88" fill="#00e000"/><rect x="817.90" y="359.83" width="9.90" height="4.88" fill="#b8f800"/><rect x="827.75" y="359.83" width="9.90" height="4.88" fill="#00e000"/><rect x="837.60" y="359.83" width="9.90" height="4.88" fill="#60e800"/><rect x="847.45" y="359.83" width="9.90" height="4.88" fill="#b8f800"/><rect x="857.30" y="359.83" width="4.98" height="4.88" fill="#60e800"/><rect x="862.23" y="359.83" width="9.90" height="4.88" fill="#b8f800"/><rect x="872.08" y="359.83" width="4.97" height="4.88" fill="#60e800"/><rect x="680.00" y="364.67" width="9.90" height="4.88" fill="#00a0f0"/><rect x="689.85" y="364.67" width="4.97" height="4.88" fill="#00c8b0"/><rect x="694.77" y="364.67" width="19.75" height="4.88" fill="#0040d8"/><rect x="714.48" y="364.67" width="4.97" height="4.88" fill="#00a0f0"/><rect x="719.40" y="364.67" width="4.98" height="4.88" fill="#00c8e8"/><rect x="724.33" y="364.67" width="4.97" height="4.88" fill="#00e000"/><rect x="729.25" y="364.67" width="4.97" height="4.88" fill="#60e800"/><rect x="734.17" y="364.67" width="4.98" height="4.88" fill="#b8f800"/><rect x="739.10" y="364.67" width="4.97" height="4.88" fill="#f8d800"/><rect x="744.02" y="364.67" width="4.98" height="4.88" fill="#f8a800"/><rect x="748.95" y="364.67" width="4.97" height="4.88" fill="#f8d800"/><rect x="753.88" y="364.67" width="4.97" height="4.88" fill="#b8f800"/><rect x="758.80" y="364.67" width="29.60" height="4.88" fill="#00e000"/><rect x="788.35" y="364.67" width="9.90" height="4.88" fill="#00c030"/><rect x="798.20" y="364.67" width="19.75" height="4.88" fill="#00e000"/><rect x="817.90" y="364.67" width="4.98" height="4.88" fill="#b8f800"/><rect x="822.83" y="364.67" width="14.82" height="4.88" fill="#00e000"/><rect x="837.60" y="364.67" width="9.90" height="4.88" fill="#60e800"/><rect x="847.45" y="364.67" width="4.97" height="4.88" fill="#b8f800"/><rect x="852.38" y="364.67" width="9.90" height="4.88" fill="#60e800"/><rect x="862.23" y="364.67" width="9.90" height="4.88" fill="#b8f800"/><rect x="872.08" y="364.67" width="4.97" height="4.88" fill="#60e800"/><rect x="680.00" y="369.50" width="9.90" height="4.88" fill="#00a0f0"/><rect x="689.85" y="369.50" width="4.97" height="4.88" fill="#00c8b0"/><rect x="694.77" y="369.50" width="4.98" height="4.88" fill="#0040d8"/><rect x="699.70" y="369.50" width="14.82" height="4.88" fill="#0000a0"/><rect x="714.48" y="369.50" width="4.97" height="4.88" fill="#0040d8"/><rect x="719.40" y="369.50" width="4.98" height="4.88" fill="#00c8e8"/><rect x="724.33" y="369.50" width="4.97" height="4.88" fill="#00b880"/><rect x="729.25" y="369.50" width="4.97" height="4.88" fill="#00e000"/><rect x="734.17" y="369.50" width="4.98" height="4.88" fill="#b8f800"/><rect x="739.10" y="369.50" width="4.97" height="4.88" fill="#f8d800"/><rect x="744.02" y="369.50" width="4.98" height="4.88" fill="#f8a800"/><rect x="748.95" y="369.50" width="4.97" height="4.88" fill="#f8d800"/><rect x="753.88" y="369.50" width="4.97" height="4.88" fill="#b8f800"/><rect x="758.80" y="369.50" width="29.60" height="4.88" fill="#00e000"/><rect x="788.35" y="369.50" width="14.82" height="4.88" fill="#00c030"/><rect x="803.12" y="369.50" width="14.82" height="4.88" fill="#00e000"/><rect x="817.90" y="369.50" width="9.90" height="4.88" fill="#60e800"/><rect x="827.75" y="369.50" width="19.75" height="4.88" fill="#00e000"/><rect x="847.45" y="369.50" width="4.97" height="4.88" fill="#60e800"/><rect x="852.38" y="369.50" width="9.90" height="4.88" fill="#b8f800"/><rect x="862.23" y="369.50" width="4.97" height="4.88" fill="#60e800"/><rect x="867.15" y="369.50" width="4.98" height="4.88" fill="#b8f800"/><rect x="872.08" y="369.50" width="4.97" height="4.88" fill="#60e800"/><rect x="680.00" y="374.33" width="9.90" height="4.88" fill="#00c8e8"/><rect x="689.85" y="374.33" width="4.97" height="4.88" fill="#00c8b0"/><rect x="694.77" y="374.33" width="19.75" height="4.88" fill="#0000a0"/><rect x="714.48" y="374.33" width="4.97" height="4.88" fill="#0040d8"/><rect x="719.40" y="374.33" width="4.98" height="4.88" fill="#00a0f0"/><rect x="724.33" y="374.33" width="4.97" height="4.88" fill="#00b880"/><rect x="729.25" y="374.33" width="4.97" height="4.88" fill="#00e000"/><rect x="734.17" y="374.33" width="4.98" height="4.88" fill="#b8f800"/><rect x="739.10" y="374.33" width="9.90" height="4.88" fill="#f8d800"/><rect x="748.95" y="374.33" width="4.97" height="4.88" fill="#e0f400"/><rect x="753.88" y="374.33" width="4.97" height="4.88" fill="#b8f800"/><rect x="758.80" y="374.33" width="19.75" height="4.88" fill="#00e000"/><rect x="778.50" y="374.33" width="4.97" height="4.88" fill="#60e800"/><rect x="783.42" y="374.33" width="4.98" height="4.88" fill="#00e000"/><rect x="788.35" y="374.33" width="14.82" height="4.88" fill="#00c030"/><rect x="803.12" y="374.33" width="4.97" height="4.88" fill="#00e000"/><rect x="808.05" y="374.33" width="24.68" height="4.88" fill="#60e800"/><rect x="832.67" y="374.33" width="19.75" height="4.88" fill="#00e000"/><rect x="852.38" y="374.33" width="4.97" height="4.88" fill="#60e800"/><rect x="857.30" y="374.33" width="4.98" height="4.88" fill="#b8f800"/><rect x="862.23" y="374.33" width="9.90" height="4.88" fill="#00e000"/><rect x="872.08" y="374.33" width="4.97" height="4.88" fill="#60e800"/><rect x="680.00" y="379.17" width="9.90" height="4.88" fill="#00b880"/><rect x="689.85" y="379.17" width="4.97" height="4.88" fill="#00c8b0"/><rect x="694.77" y="379.17" width="4.98" height="4.88" fill="#0040d8"/><rect x="699.70" y="379.17" width="9.90" height="4.88" fill="#0000a0"/><rect x="709.55" y="379.17" width="4.98" height="4.88" fill="#0040d8"/><rect x="714.48" y="379.17" width="4.97" height="4.88" fill="#00a0f0"/><rect x="719.40" y="379.17" width="4.98" height="4.88" fill="#00c8e8"/><rect x="724.33" y="379.17" width="4.97" height="4.88" fill="#00e000"/><rect x="729.25" y="379.17" width="4.97" height="4.88" fill="#60e800"/><rect x="734.17" y="379.17" width="4.98" height="4.88" fill="#b8f800"/><rect x="739.10" y="379.17" width="14.82" height="4.88" fill="#e0f400"/><rect x="753.88" y="379.17" width="4.97" height="4.88" fill="#60e800"/><rect x="758.80" y="379.17" width="14.83" height="4.88" fill="#00e000"/><rect x="773.58" y="379.17" width="4.97" height="4.88" fill="#60e800"/><rect x="778.50" y="379.17" width="4.97" height="4.88" fill="#b8f800"/><rect x="783.42" y="379.17" width="4.98" height="4.88" fill="#60e800"/><rect x="788.35" y="379.17" width="4.97" height="4.88" fill="#00e000"/><rect x="793.27" y="379.17" width="9.90" height="4.88" fill="#00c030"/><rect x="803.12" y="379.17" width="4.97" height="4.88" fill="#00e000"/><rect x="808.05" y="379.17" width="9.90" height="4.88" fill="#b8f800"/><rect x="817.90" y="379.17" width="9.90" height="4.88" fill="#60e800"/><rect x="827.75" y="379.17" width="4.97" height="4.88" fill="#b8f800"/><rect x="832.67" y="379.17" width="19.75" height="4.88" fill="#00e000"/><rect x="852.38" y="379.17" width="9.90" height="4.88" fill="#60e800"/><rect x="862.23" y="379.17" width="9.90" height="4.88" fill="#00e000"/><rect x="872.08" y="379.17" width="4.97" height="4.88" fill="#60e800"/><rect x="680.00" y="384.00" width="9.90" height="4.88" fill="#00e000"/><rect x="689.85" y="384.00" width="4.97" height="4.88" fill="#00b880"/><rect x="694.77" y="384.00" width="19.75" height="4.88" fill="#00a0f0"/><rect x="714.48" y="384.00" width="4.97" height="4.88" fill="#00c8e8"/><rect x="719.40" y="384.00" width="4.98" height="4.88" fill="#00c8b0"/><rect x="724.33" y="384.00" width="4.97" height="4.88" fill="#00b880"/><rect x="729.25" y="384.00" width="9.90" height="4.88" fill="#b8f800"/><rect x="739.10" y="384.00" width="19.75" height="4.88" fill="#60e800"/><rect x="758.80" y="384.00" width="4.98" height="4.88" fill="#00e000"/><rect x="763.73" y="384.00" width="9.90" height="4.88" fill="#60e800"/><rect x="773.58" y="384.00" width="4.97" height="4.88" fill="#b8f800"/><rect x="778.50" y="384.00" width="4.97" height="4.88" fill="#e0f400"/><rect x="783.42" y="384.00" width="4.98" height="4.88" fill="#b8f800"/><rect x="788.35" y="384.00" width="4.97" height="4.88" fill="#00e000"/><rect x="793.27" y="384.00" width="9.90" height="4.88" fill="#00c030"/><rect x="803.12" y="384.00" width="4.97" height="4.88" fill="#00e000"/><rect x="808.05" y="384.00" width="4.98" height="4.88" fill="#b8f800"/><rect x="812.98" y="384.00" width="4.97" height="4.88" fill="#e0f400"/><rect x="817.90" y="384.00" width="9.90" height="4.88" fill="#b8f800"/><rect x="827.75" y="384.00" width="4.97" height="4.88" fill="#60e800"/><rect x="832.67" y="384.00" width="14.83" height="4.88" fill="#00e000"/><rect x="847.45" y="384.00" width="14.82" height="4.88" fill="#60e800"/><rect x="862.23" y="384.00" width="9.90" height="4.88" fill="#00e000"/><rect x="872.08" y="384.00" width="4.97" height="4.88" fill="#60e800"/><rect x="680.00" y="388.83" width="4.97" height="4.88" fill="#00e000"/><rect x="684.92" y="388.83" width="4.98" height="4.88" fill="#b8f800"/><rect x="689.85" y="388.83" width="4.97" height="4.88" fill="#00e000"/><rect x="694.77" y="388.83" width="4.98" height="4.88" fill="#00b880"/><rect x="699.70" y="388.83" width="9.90" height="4.88" fill="#00c8b0"/><rect x="709.55" y="388.83" width="9.90" height="4.88" fill="#00c8e8"/><rect x="719.40" y="388.83" width="4.98" height="4.88" fill="#00c8b0"/><rect x="724.33" y="388.83" width="4.97" height="4.88" fill="#00b880"/><rect x="729.25" y="388.83" width="4.97" height="4.88" fill="#e0f400"/><rect x="734.17" y="388.83" width="4.98" height="4.88" fill="#b8f800"/><rect x="739.10" y="388.83" width="14.82" height="4.88" fill="#00e000"/><rect x="753.88" y="388.83" width="14.82" height="4.88" fill="#b8f800"/><rect x="768.65" y="388.83" width="4.98" height="4.88" fill="#00e000"/><rect x="773.58" y="388.83" width="4.97" height="4.88" fill="#b8f800"/><rect x="778.50" y="388.83" width="9.90" height="4.88" fill="#e0f400"/><rect x="788.35" y="388.83" width="4.97" height="4.88" fill="#b8f800"/><rect x="793.27" y="388.83" width="4.98" height="4.88" fill="#00e000"/><rect x="798.20" y="388.83" width="4.97" height="4.88" fill="#00c030"/><rect x="803.12" y="388.83" width="4.97" height="4.88" fill="#00e000"/><rect x="808.05" y="388.83" width="4.98" height="4.88" fill="#b8f800"/><rect x="812.98" y="388.83" width="9.90" height="4.88" fill="#e0f400"/><rect x="822.83" y="388.83" width="4.97" height="4.88" fill="#b8f800"/><rect x="827.75" y="388.83" width="4.97" height="4.88" fill="#60e800"/><rect x="832.67" y="388.83" width="14.83" height="4.88" fill="#00e000"/><rect x="847.45" y="388.83" width="9.90" height="4.88" fill="#60e800"/><rect x="857.30" y="388.83" width="9.90" height="4.88" fill="#00e000"/><rect x="867.15" y="388.83" width="4.98" height="4.88" fill="#60e800"/><rect x="872.08" y="388.83" width="4.97" height="4.88" fill="#b8f800"/><rect x="680.00" y="393.67" width="4.97" height="4.88" fill="#b8f800"/><rect x="684.92" y="393.67" width="4.98" height="4.88" fill="#e0f400"/><rect x="689.85" y="393.67" width="9.90" height="4.88" fill="#00e000"/><rect x="699.70" y="393.67" width="9.90" height="4.88" fill="#00b880"/><rect x="709.55" y="393.67" width="4.98" height="4.88" fill="#00e000"/><rect x="714.48" y="393.67" width="4.97" height="4.88" fill="#b8f800"/><rect x="719.40" y="393.67" width="14.82" height="4.88" fill="#e0f400"/><rect x="734.17" y="393.67" width="4.98" height="4.88" fill="#60e800"/><rect x="739.10" y="393.67" width="14.82" height="4.88" fill="#00e000"/><rect x="753.88" y="393.67" width="9.90" height="4.88" fill="#b8f800"/><rect x="763.73" y="393.67" width="9.90" height="4.88" fill="#00e000"/><rect x="773.58" y="393.67" width="4.97" height="4.88" fill="#b8f800"/><rect x="778.50" y="393.67" width="9.90" height="4.88" fill="#e0f400"/><rect x="788.35" y="393.67" width="4.97" height="4.88" fill="#b8f800"/><rect x="793.27" y="393.67" width="4.98" height="4.88" fill="#00e000"/><rect x="798.20" y="393.67" width="4.97" height="4.88" fill="#00c030"/><rect x="803.12" y="393.67" width="4.97" height="4.88" fill="#00e000"/><rect x="808.05" y="393.67" width="4.98" height="4.88" fill="#b8f800"/><rect x="812.98" y="393.67" width="9.90" height="4.88" fill="#e0f400"/><rect x="822.83" y="393.67" width="4.97" height="4.88" fill="#b8f800"/><rect x="827.75" y="393.67" width="19.75" height="4.88" fill="#00e000"/><rect x="847.45" y="393.67" width="4.97" height="4.88" fill="#60e800"/><rect x="852.38" y="393.67" width="9.90" height="4.88" fill="#00e000"/><rect x="862.23" y="393.67" width="4.97" height="4.88" fill="#b8f800"/><rect x="867.15" y="393.67" width="9.90" height="4.88" fill="#e0f400"/><rect x="680.00" y="398.50" width="14.82" height="4.88" fill="#e0f400"/><rect x="694.77" y="398.50" width="14.82" height="4.88" fill="#00e000"/><rect x="709.55" y="398.50" width="4.98" height="4.88" fill="#b8f800"/><rect x="714.48" y="398.50" width="9.90" height="4.88" fill="#f8a800"/><rect x="724.33" y="398.50" width="9.90" height="4.88" fill="#f8d800"/><rect x="734.17" y="398.50" width="4.98" height="4.88" fill="#60e800"/><rect x="739.10" y="398.50" width="4.97" height="4.88" fill="#00e000"/><rect x="744.02" y="398.50" width="4.98" height="4.88" fill="#00c030"/><rect x="748.95" y="398.50" width="9.90" height="4.88" fill="#00e000"/><rect x="758.80" y="398.50" width="4.98" height="4.88" fill="#b8f800"/><rect x="763.73" y="398.50" width="9.90" height="4.88" fill="#00e000"/><rect x="773.58" y="398.50" width="4.97" height="4.88" fill="#b8f800"/><rect x="778.50" y="398.50" width="9.90" height="4.88" fill="#e0f400"/><rect x="788.35" y="398.50" width="4.97" height="4.88" fill="#b8f800"/><rect x="793.27" y="398.50" width="4.98" height="4.88" fill="#00e000"/><rect x="798.20" y="398.50" width="4.97" height="4.88" fill="#00c030"/><rect x="803.12" y="398.50" width="4.97" height="4.88" fill="#00e000"/><rect x="808.05" y="398.50" width="4.98" height="4.88" fill="#60e800"/><rect x="812.98" y="398.50" width="4.97" height="4.88" fill="#b8f800"/><rect x="817.90" y="398.50" width="4.98" height="4.88" fill="#e0f400"/><rect x="822.83" y="398.50" width="4.97" height="4.88" fill="#b8f800"/><rect x="827.75" y="398.50" width="19.75" height="4.88" fill="#00e000"/><rect x="847.45" y="398.50" width="4.97" height="4.88" fill="#60e800"/><rect x="852.38" y="398.50" width="9.90" height="4.88" fill="#00e000"/><rect x="862.23" y="398.50" width="4.97" height="4.88" fill="#b8f800"/><rect x="867.15" y="398.50" width="9.90" height="4.88" fill="#f8d800"/><rect x="680.00" y="403.33" width="9.90" height="4.88" fill="#f8d800"/><rect x="689.85" y="403.33" width="4.97" height="4.88" fill="#e0f400"/><rect x="694.77" y="403.33" width="9.90" height="4.88" fill="#b8f800"/><rect x="704.62" y="403.33" width="4.97" height="4.88" fill="#e0f400"/><rect x="709.55" y="403.33" width="4.98" height="4.88" fill="#f8a800"/><rect x="714.48" y="403.33" width="9.90" height="4.88" fill="#e87800"/><rect x="724.33" y="403.33" width="4.97" height="4.88" fill="#f8a800"/><rect x="729.25" y="403.33" width="4.97" height="4.88" fill="#f8d800"/><rect x="734.17" y="403.33" width="4.98" height="4.88" fill="#b8f800"/><rect x="739.10" y="403.33" width="4.97" height="4.88" fill="#00e000"/><rect x="744.02" y="403.33" width="4.98" height="4.88" fill="#00c030"/><rect x="748.95" y="403.33" width="19.75" height="4.88" fill="#00e000"/><rect x="768.65" y="403.33" width="14.82" height="4.88" fill="#b8f800"/><rect x="783.42" y="403.33" width="4.98" height="4.88" fill="#e0f400"/><rect x="788.35" y="403.33" width="4.97" height="4.88" fill="#b8f800"/><rect x="793.27" y="403.33" width="4.98" height="4.88" fill="#00e000"/><rect x="798.20" y="403.33" width="4.97" height="4.88" fill="#00c030"/><rect x="803.12" y="403.33" width="9.90" height="4.88" fill="#00e000"/><rect x="812.98" y="403.33" width="14.82" height="4.88" fill="#b8f800"/><rect x="827.75" y="403.33" width="19.75" height="4.88" fill="#00e000"/><rect x="847.45" y="403.33" width="4.97" height="4.88" fill="#60e800"/><rect x="852.38" y="403.33" width="9.90" height="4.88" fill="#00e000"/><rect x="862.23" y="403.33" width="4.97" height="4.88" fill="#b8f800"/><rect x="867.15" y="403.33" width="9.90" height="4.88" fill="#f8d800"/><rect x="680.00" y="408.17" width="19.75" height="4.88" fill="#f8d800"/><rect x="699.70" y="408.17" width="4.97" height="4.88" fill="#e0f400"/><rect x="704.62" y="408.17" width="4.97" height="4.88" fill="#f8d800"/><rect x="709.55" y="408.17" width="4.98" height="4.88" fill="#f8a800"/><rect x="714.48" y="408.17" width="4.97" height="4.88" fill="#c84000"/><rect x="719.40" y="408.17" width="4.98" height="4.88" fill="#e87800"/><rect x="724.33" y="408.17" width="9.90" height="4.88" fill="#f8a800"/><rect x="734.17" y="408.17" width="4.98" height="4.88" fill="#b8f800"/><rect x="739.10" y="408.17" width="4.97" height="4.88" fill="#00e000"/><rect x="744.02" y="408.17" width="9.90" height="4.88" fill="#00c030"/><rect x="753.88" y="408.17" width="9.90" height="4.88" fill="#00e000"/><rect x="763.73" y="408.17" width="9.90" height="4.88" fill="#b8f800"/><rect x="773.58" y="408.17" width="4.97" height="4.88" fill="#e0f400"/><rect x="778.50" y="408.17" width="9.90" height="4.88" fill="#b8f800"/><rect x="788.35" y="408.17" width="9.90" height="4.88" fill="#00e000"/><rect x="798.20" y="408.17" width="9.90" height="4.88" fill="#00c030"/><rect x="808.05" y="408.17" width="9.90" height="4.88" fill="#00e000"/><rect x="817.90" y="408.17" width="9.90" height="4.88" fill="#b8f800"/><rect x="827.75" y="408.17" width="4.97" height="4.88" fill="#60e800"/><rect x="832.67" y="408.17" width="9.90" height="4.88" fill="#00e000"/><rect x="842.52" y="408.17" width="4.98" height="4.88" fill="#60e800"/><rect x="847.45" y="408.17" width="14.82" height="4.88" fill="#00e000"/><rect x="862.23" y="408.17" width="4.97" height="4.88" fill="#b8f800"/><rect x="867.15" y="408.17" width="4.98" height="4.88" fill="#e0f400"/><rect x="872.08" y="408.17" width="4.97" height="4.88" fill="#f8d800"/><rect x="680.00" y="413.00" width="4.97" height="4.88" fill="#b8f800"/><rect x="684.92" y="413.00" width="4.98" height="4.88" fill="#e0f400"/><rect x="689.85" y="413.00" width="4.97" height="4.88" fill="#f8d800"/><rect x="694.77" y="413.00" width="4.98" height="4.88" fill="#f8a800"/><rect x="699.70" y="413.00" width="9.90" height="4.88" fill="#f8d800"/><rect x="709.55" y="413.00" width="4.98" height="4.88" fill="#f8a800"/><rect x="714.48" y="413.00" width="9.90" height="4.88" fill="#c84000"/><rect x="724.33" y="413.00" width="4.97" height="4.88" fill="#f8a800"/><rect x="729.25" y="413.00" width="4.97" height="4.88" fill="#f8d800"/><rect x="734.17" y="413.00" width="4.98" height="4.88" fill="#b8f800"/><rect x="739.10" y="413.00" width="9.90" height="4.88" fill="#00e000"/><rect x="748.95" y="413.00" width="4.97" height="4.88" fill="#00c030"/><rect x="753.88" y="413.00" width="14.82" height="4.88" fill="#00e000"/><rect x="768.65" y="413.00" width="4.98" height="4.88" fill="#b8f800"/><rect x="773.58" y="413.00" width="4.97" height="4.88" fill="#f8d800"/><rect x="778.50" y="413.00" width="9.90" height="4.88" fill="#b8f800"/><rect x="788.35" y="413.00" width="4.97" height="4.88" fill="#00e000"/><rect x="793.27" y="413.00" width="19.75" height="4.88" fill="#00c030"/><rect x="812.98" y="413.00" width="9.90" height="4.88" fill="#00e000"/><rect x="822.83" y="413.00" width="9.90" height="4.88" fill="#b8f800"/><rect x="832.67" y="413.00" width="29.60" height="4.88" fill="#00e000"/><rect x="862.23" y="413.00" width="4.97" height="4.88" fill="#b8f800"/><rect x="867.15" y="413.00" width="4.98" height="4.88" fill="#e0f400"/><rect x="872.08" y="413.00" width="4.97" height="4.88" fill="#b8f800"/><rect x="680.00" y="417.83" width="9.90" height="4.88" fill="#e0f400"/><rect x="689.85" y="417.83" width="4.97" height="4.88" fill="#f8d800"/><rect x="694.77" y="417.83" width="9.90" height="4.88" fill="#f8a800"/><rect x="704.62" y="417.83" width="4.97" height="4.88" fill="#f8d800"/><rect x="709.55" y="417.83" width="9.90" height="4.88" fill="#e87800"/><rect x="719.40" y="417.83" width="4.98" height="4.88" fill="#f8a800"/><rect x="724.33" y="417.83" width="4.97" height="4.88" fill="#f8d800"/><rect x="729.25" y="417.83" width="4.97" height="4.88" fill="#b8f800"/><rect x="734.17" y="417.83" width="4.98" height="4.88" fill="#60e800"/><rect x="739.10" y="417.83" width="4.97" height="4.88" fill="#b8f800"/><rect x="744.02" y="417.83" width="4.98" height="4.88" fill="#00e000"/><rect x="748.95" y="417.83" width="9.90" height="4.88" fill="#00c030"/><rect x="758.80" y="417.83" width="9.90" height="4.88" fill="#00e000"/><rect x="768.65" y="417.83" width="4.98" height="4.88" fill="#b8f800"/><rect x="773.58" y="417.83" width="4.97" height="4.88" fill="#e0f400"/><rect x="778.50" y="417.83" width="9.90" height="4.88" fill="#b8f800"/><rect x="788.35" y="417.83" width="9.90" height="4.88" fill="#00e000"/><rect x="798.20" y="417.83" width="4.97" height="4.88" fill="#00c030"/><rect x="803.12" y="417.83" width="9.90" height="4.88" fill="#00b880"/><rect x="812.98" y="417.83" width="4.97" height="4.88" fill="#00c030"/><rect x="817.90" y="417.83" width="4.98" height="4.88" fill="#00e000"/><rect x="822.83" y="417.83" width="9.90" height="4.88" fill="#b8f800"/><rect x="832.67" y="417.83" width="9.90" height="4.88" fill="#00e000"/><rect x="842.52" y="417.83" width="4.98" height="4.88" fill="#60e800"/><rect x="847.45" y="417.83" width="14.82" height="4.88" fill="#00e000"/><rect x="862.23" y="417.83" width="14.82" height="4.88" fill="#b8f800"/><rect x="680.00" y="422.67" width="4.97" height="4.88" fill="#00e000"/><rect x="684.92" y="422.67" width="4.98" height="4.88" fill="#b8f800"/><rect x="689.85" y="422.67" width="4.97" height="4.88" fill="#e0f400"/><rect x="694.77" y="422.67" width="9.90" height="4.88" fill="#f8d800"/><rect x="704.62" y="422.67" width="4.97" height="4.88" fill="#e0f400"/><rect x="709.55" y="422.67" width="4.98" height="4.88" fill="#00e000"/><rect x="714.48" y="422.67" width="9.90" height="4.88" fill="#f8d800"/><rect x="724.33" y="422.67" width="4.97" height="4.88" fill="#e0f400"/><rect x="729.25" y="422.67" width="9.90" height="4.88" fill="#60e800"/><rect x="739.10" y="422.67" width="4.97" height="4.88" fill="#b8f800"/><rect x="744.02" y="422.67" width="4.98" height="4.88" fill="#00e000"/><rect x="748.95" y="422.67" width="14.82" height="4.88" fill="#00c030"/><rect x="763.73" y="422.67" width="9.90" height="4.88" fill="#00e000"/><rect x="773.58" y="422.67" width="14.82" height="4.88" fill="#b8f800"/><rect x="788.35" y="422.67" width="4.97" height="4.88" fill="#00e000"/><rect x="793.27" y="422.67" width="4.98" height="4.88" fill="#60e800"/><rect x="798.20" y="422.67" width="4.97" height="4.88" fill="#00c030"/><rect x="803.12" y="422.67" width="14.82" height="4.88" fill="#00b880"/><rect x="817.90" y="422.67" width="4.98" height="4.88" fill="#00c030"/><rect x="822.83" y="422.67" width="4.97" height="4.88" fill="#00e000"/><rect x="827.75" y="422.67" width="4.97" height="4.88" fill="#b8f800"/><rect x="832.67" y="422.67" width="4.98" height="4.88" fill="#60e800"/><rect x="837.60" y="422.67" width="9.90" height="4.88" fill="#b8f800"/><rect x="847.45" y="422.67" width="14.82" height="4.88" fill="#e0f400"/><rect x="862.23" y="422.67" width="4.97" height="4.88" fill="#b8f800"/><rect x="867.15" y="422.67" width="4.98" height="4.88" fill="#00e000"/><rect x="872.08" y="422.67" width="4.97" height="4.88" fill="#60e800"/><rect x="680.00" y="427.50" width="9.90" height="4.88" fill="#00e000"/><rect x="689.85" y="427.50" width="4.97" height="4.88" fill="#b8f800"/><rect x="694.77" y="427.50" width="4.98" height="4.88" fill="#e0f400"/><rect x="699.70" y="427.50" width="4.97" height="4.88" fill="#00e000"/><rect x="704.62" y="427.50" width="9.90" height="4.88" fill="#00b880"/><rect x="714.48" y="427.50" width="4.97" height="4.88" fill="#00e000"/><rect x="719.40" y="427.50" width="4.98" height="4.88" fill="#b8f800"/><rect x="724.33" y="427.50" width="4.97" height="4.88" fill="#e0f400"/><rect x="729.25" y="427.50" width="4.97" height="4.88" fill="#60e800"/><rect x="734.17" y="427.50" width="9.90" height="4.88" fill="#b8f800"/><rect x="744.02" y="427.50" width="4.98" height="4.88" fill="#00e000"/><rect x="748.95" y="427.50" width="19.75" height="4.88" fill="#00c030"/><rect x="768.65" y="427.50" width="4.98" height="4.88" fill="#00e000"/><rect x="773.58" y="427.50" width="4.97" height="4.88" fill="#60e800"/><rect x="778.50" y="427.50" width="4.97" height="4.88" fill="#b8f800"/><rect x="783.42" y="427.50" width="9.90" height="4.88" fill="#60e800"/><rect x="793.27" y="427.50" width="4.98" height="4.88" fill="#b8f800"/><rect x="798.20" y="427.50" width="4.97" height="4.88" fill="#00c030"/><rect x="803.12" y="427.50" width="4.97" height="4.88" fill="#00b880"/><rect x="808.05" y="427.50" width="4.98" height="4.88" fill="#00c8b0"/><rect x="812.98" y="427.50" width="4.97" height="4.88" fill="#00b880"/><rect x="817.90" y="427.50" width="4.98" height="4.88" fill="#00c030"/><rect x="822.83" y="427.50" width="4.97" height="4.88" fill="#00e000"/><rect x="827.75" y="427.50" width="9.90" height="4.88" fill="#b8f800"/><rect x="837.60" y="427.50" width="4.97" height="4.88" fill="#e0f400"/><rect x="842.52" y="427.50" width="14.82" height="4.88" fill="#f8d800"/><rect x="857.30" y="427.50" width="9.90" height="4.88" fill="#e0f400"/><rect x="867.15" y="427.50" width="4.98" height="4.88" fill="#00e000"/><rect x="872.08" y="427.50" width="4.97" height="4.88" fill="#60e800"/><rect x="680.00" y="432.33" width="24.68" height="4.88" fill="#00e000"/><rect x="704.62" y="432.33" width="9.90" height="4.88" fill="#00c8b0"/><rect x="714.48" y="432.33" width="4.97" height="4.88" fill="#00b880"/><rect x="719.40" y="432.33" width="4.98" height="4.88" fill="#00e000"/><rect x="724.33" y="432.33" width="4.97" height="4.88" fill="#b8f800"/><rect x="729.25" y="432.33" width="4.97" height="4.88" fill="#60e800"/><rect x="734.17" y="432.33" width="4.98" height="4.88" fill="#b8f800"/><rect x="739.10" y="432.33" width="4.97" height="4.88" fill="#e0f400"/><rect x="744.02" y="432.33" width="4.98" height="4.88" fill="#00e000"/><rect x="748.95" y="432.33" width="4.97" height="4.88" fill="#00c030"/><rect x="753.88" y="432.33" width="14.82" height="4.88" fill="#00b880"/><rect x="768.65" y="432.33" width="4.98" height="4.88" fill="#00c030"/><rect x="773.58" y="432.33" width="9.90" height="4.88" fill="#00e000"/><rect x="783.42" y="432.33" width="4.98" height="4.88" fill="#60e800"/><rect x="788.35" y="432.33" width="4.97" height="4.88" fill="#b8f800"/><rect x="793.27" y="432.33" width="4.98" height="4.88" fill="#60e800"/><rect x="798.20" y="432.33" width="4.97" height="4.88" fill="#00c030"/><rect x="803.12" y="432.33" width="4.97" height="4.88" fill="#00b880"/><rect x="808.05" y="432.33" width="4.98" height="4.88" fill="#00c8b0"/><rect x="812.98" y="432.33" width="4.97" height="4.88" fill="#00b880"/><rect x="817.90" y="432.33" width="4.98" height="4.88" fill="#00c030"/><rect x="822.83" y="432.33" width="4.97" height="4.88" fill="#00e000"/><rect x="827.75" y="432.33" width="4.97" height="4.88" fill="#b8f800"/><rect x="832.67" y="432.33" width="4.98" height="4.88" fill="#e0f400"/><rect x="837.60" y="432.33" width="4.97" height="4.88" fill="#f8d800"/><rect x="842.52" y="432.33" width="14.82" height="4.88" fill="#f8a800"/><rect x="857.30" y="432.33" width="4.98" height="4.88" fill="#f8d800"/><rect x="862.23" y="432.33" width="4.97" height="4.88" fill="#e0f400"/><rect x="867.15" y="432.33" width="4.98" height="4.88" fill="#00e000"/><rect x="872.08" y="432.33" width="4.97" height="4.88" fill="#60e800"/><rect x="680.00" y="437.17" width="9.90" height="4.88" fill="#00e000"/><rect x="689.85" y="437.17" width="9.90" height="4.88" fill="#00c030"/><rect x="699.70" y="437.17" width="4.97" height="4.88" fill="#00b880"/><rect x="704.62" y="437.17" width="4.97" height="4.88" fill="#00c8b0"/><rect x="709.55" y="437.17" width="4.98" height="4.88" fill="#00c8e8"/><rect x="714.48" y="437.17" width="9.90" height="4.88" fill="#00b880"/><rect x="724.33" y="437.17" width="9.90" height="4.88" fill="#b8f800"/><rect x="734.17" y="437.17" width="9.90" height="4.88" fill="#e0f400"/><rect x="744.02" y="437.17" width="4.98" height="4.88" fill="#00e000"/><rect x="748.95" y="437.17" width="4.97" height="4.88" fill="#00c030"/><rect x="753.88" y="437.17" width="19.75" height="4.88" fill="#00b880"/><rect x="773.58" y="437.17" width="14.82" height="4.88" fill="#00e000"/><rect x="788.35" y="437.17" width="4.97" height="4.88" fill="#b8f800"/><rect x="793.27" y="437.17" width="4.98" height="4.88" fill="#60e800"/><rect x="798.20" y="437.17" width="4.97" height="4.88" fill="#00c030"/><rect x="803.12" y="437.17" width="14.82" height="4.88" fill="#00b880"/><rect x="817.90" y="437.17" width="4.98" height="4.88" fill="#00c030"/><rect x="822.83" y="437.17" width="4.97" height="4.88" fill="#00e000"/><rect x="827.75" y="437.17" width="4.97" height="4.88" fill="#b8f800"/><rect x="832.67" y="437.17" width="4.98" height="4.88" fill="#f8d800"/><rect x="837.60" y="437.17" width="4.97" height="4.88" fill="#f8a800"/><rect x="842.52" y="437.17" width="4.98" height="4.88" fill="#e87800"/><rect x="847.45" y="437.17" width="9.90" height="4.88" fill="#f8a800"/><rect x="857.30" y="437.17" width="4.98" height="4.88" fill="#f8d800"/><rect x="862.23" y="437.17" width="4.97" height="4.88" fill="#e0f400"/><rect x="867.15" y="437.17" width="4.98" height="4.88" fill="#00e000"/><rect x="872.08" y="437.17" width="4.97" height="4.88" fill="#60e800"/><rect x="680.00" y="442.00" width="9.90" height="4.88" fill="#00e000"/><rect x="689.85" y="442.00" width="14.82" height="4.88" fill="#00b880"/><rect x="704.62" y="442.00" width="4.97" height="4.88" fill="#00c8b0"/><rect x="709.55" y="442.00" width="4.98" height="4.88" fill="#00c8e8"/><rect x="714.48" y="442.00" width="4.97" height="4.88" fill="#00b880"/><rect x="719.40" y="442.00" width="4.98" height="4.88" fill="#00e000"/><rect x="724.33" y="442.00" width="4.97" height="4.88" fill="#b8f800"/><rect x="729.25" y="442.00" width="4.97" height="4.88" fill="#e0f400"/><rect x="734.17" y="442.00" width="4.98" height="4.88" fill="#f8a800"/><rect x="739.10" y="442.00" width="4.97" height="4.88" fill="#f8d800"/><rect x="744.02" y="442.00" width="4.98" height="4.88" fill="#00e000"/><rect x="748.95" y="442.00" width="4.97" height="4.88" fill="#00c030"/><rect x="753.88" y="442.00" width="4.97" height="4.88" fill="#00b880"/><rect x="758.80" y="442.00" width="4.98" height="4.88" fill="#00c8b0"/><rect x="763.73" y="442.00" width="9.90" height="4.88" fill="#00b880"/><rect x="773.58" y="442.00" width="4.97" height="4.88" fill="#00c030"/><rect x="778.50" y="442.00" width="9.90" height="4.88" fill="#00e000"/><rect x="788.35" y="442.00" width="4.97" height="4.88" fill="#60e800"/><rect x="793.27" y="442.00" width="4.98" height="4.88" fill="#00e000"/><rect x="798.20" y="442.00" width="9.90" height="4.88" fill="#00c030"/><rect x="808.05" y="442.00" width="4.98" height="4.88" fill="#00b880"/><rect x="812.98" y="442.00" width="9.90" height="4.88" fill="#00c030"/><rect x="822.83" y="442.00" width="4.97" height="4.88" fill="#00e000"/><rect x="827.75" y="442.00" width="4.97" height="4.88" fill="#b8f800"/><rect x="832.67" y="442.00" width="4.98" height="4.88" fill="#f8d800"/><rect x="837.60" y="442.00" width="4.97" height="4.88" fill="#f8a800"/><rect x="842.52" y="442.00" width="9.90" height="4.88" fill="#e87800"/><rect x="852.38" y="442.00" width="4.97" height="4.88" fill="#f8a800"/><rect x="857.30" y="442.00" width="4.98" height="4.88" fill="#f8d800"/><rect x="862.23" y="442.00" width="4.97" height="4.88" fill="#b8f800"/><rect x="867.15" y="442.00" width="9.90" height="4.88" fill="#00e000"/><rect x="680.00" y="446.83" width="9.90" height="4.88" fill="#00e000"/><rect x="689.85" y="446.83" width="19.75" height="4.88" fill="#00b880"/><rect x="709.55" y="446.83" width="4.98" height="4.88" fill="#00c8b0"/><rect x="714.48" y="446.83" width="4.97" height="4.88" fill="#00b880"/><rect x="719.40" y="446.83" width="4.98" height="4.88" fill="#00e000"/><rect x="724.33" y="446.83" width="4.97" height="4.88" fill="#b8f800"/><rect x="729.25" y="446.83" width="4.97" height="4.88" fill="#e0f400"/><rect x="734.17" y="446.83" width="4.98" height="4.88" fill="#f8a800"/><rect x="739.10" y="446.83" width="4.97" height="4.88" fill="#e0f400"/><rect x="744.02" y="446.83" width="4.98" height="4.88" fill="#00e000"/><rect x="748.95" y="446.83" width="4.97" height="4.88" fill="#00c030"/><rect x="753.88" y="446.83" width="4.97" height="4.88" fill="#00b880"/><rect x="758.80" y="446.83" width="4.98" height="4.88" fill="#00c8b0"/><rect x="763.73" y="446.83" width="9.90" height="4.88" fill="#00b880"/><rect x="773.58" y="446.83" width="4.97" height="4.88" fill="#00c030"/><rect x="778.50" y="446.83" width="24.68" height="4.88" fill="#00e000"/><rect x="803.12" y="446.83" width="14.82" height="4.88" fill="#00c030"/><rect x="817.90" y="446.83" width="9.90" height="4.88" fill="#00e000"/><rect x="827.75" y="446.83" width="4.97" height="4.88" fill="#b8f800"/><rect x="832.67" y="446.83" width="4.98" height="4.88" fill="#f8d800"/><rect x="837.60" y="446.83" width="9.90" height="4.88" fill="#f8a800"/><rect x="847.45" y="446.83" width="4.97" height="4.88" fill="#e87800"/><rect x="852.38" y="446.83" width="4.97" height="4.88" fill="#f8d800"/><rect x="857.30" y="446.83" width="4.98" height="4.88" fill="#b8f800"/><rect x="862.23" y="446.83" width="14.82" height="4.88" fill="#00e000"/><rect x="680.00" y="451.67" width="14.82" height="4.88" fill="#00e000"/><rect x="694.77" y="451.67" width="19.75" height="4.88" fill="#00b880"/><rect x="714.48" y="451.67" width="4.97" height="4.88" fill="#00e000"/><rect x="719.40" y="451.67" width="9.90" height="4.88" fill="#b8f800"/><rect x="729.25" y="451.67" width="4.97" height="4.88" fill="#e0f400"/><rect x="734.17" y="451.67" width="4.98" height="4.88" fill="#f8d800"/><rect x="739.10" y="451.67" width="4.97" height="4.88" fill="#e0f400"/><rect x="744.02" y="451.67" width="9.90" height="4.88" fill="#00e000"/><rect x="753.88" y="451.67" width="4.97" height="4.88" fill="#00c030"/><rect x="758.80" y="451.67" width="14.83" height="4.88" fill="#00b880"/><rect x="773.58" y="451.67" width="14.82" height="4.88" fill="#00e000"/><rect x="788.35" y="451.67" width="9.90" height="4.88" fill="#b8f800"/><rect x="798.20" y="451.67" width="19.75" height="4.88" fill="#00e000"/><rect x="817.90" y="451.67" width="4.98" height="4.88" fill="#b8f800"/><rect x="822.83" y="451.67" width="4.97" height="4.88" fill="#00e000"/><rect x="827.75" y="451.67" width="9.90" height="4.88" fill="#b8f800"/><rect x="837.60" y="451.67" width="14.82" height="4.88" fill="#f8d800"/><rect x="852.38" y="451.67" width="4.97" height="4.88" fill="#b8f800"/><rect x="857.30" y="451.67" width="19.75" height="4.88" fill="#00e000"/><rect x="680.00" y="456.50" width="4.97" height="4.88" fill="#60e800"/><rect x="684.92" y="456.50" width="9.90" height="4.88" fill="#00e000"/><rect x="694.77" y="456.50" width="14.82" height="4.88" fill="#00c030"/><rect x="709.55" y="456.50" width="4.98" height="4.88" fill="#00e000"/><rect x="714.48" y="456.50" width="14.82" height="4.88" fill="#b8f800"/><rect x="729.25" y="456.50" width="4.97" height="4.88" fill="#f8d800"/><rect x="734.17" y="456.50" width="4.98" height="4.88" fill="#f8a800"/><rect x="739.10" y="456.50" width="4.97" height="4.88" fill="#f8d800"/><rect x="744.02" y="456.50" width="9.90" height="4.88" fill="#00e000"/><rect x="753.88" y="456.50" width="4.97" height="4.88" fill="#00c030"/><rect x="758.80" y="456.50" width="4.98" height="4.88" fill="#00b880"/><rect x="763.73" y="456.50" width="9.90" height="4.88" fill="#00c030"/><rect x="773.58" y="456.50" width="9.90" height="4.88" fill="#00e000"/><rect x="783.42" y="456.50" width="4.98" height="4.88" fill="#00c030"/><rect x="788.35" y="456.50" width="4.97" height="4.88" fill="#60e800"/><rect x="793.27" y="456.50" width="4.98" height="4.88" fill="#b8f800"/><rect x="798.20" y="456.50" width="4.97" height="4.88" fill="#e0f400"/><rect x="803.12" y="456.50" width="4.97" height="4.88" fill="#b8f800"/><rect x="808.05" y="456.50" width="4.98" height="4.88" fill="#e0f400"/><rect x="812.98" y="456.50" width="4.97" height="4.88" fill="#b8f800"/><rect x="817.90" y="456.50" width="9.90" height="4.88" fill="#00e000"/><rect x="827.75" y="456.50" width="9.90" height="4.88" fill="#b8f800"/><rect x="837.60" y="456.50" width="4.97" height="4.88" fill="#00e000"/><rect x="842.52" y="456.50" width="9.90" height="4.88" fill="#00c030"/><rect x="852.38" y="456.50" width="14.82" height="4.88" fill="#00e000"/><rect x="867.15" y="456.50" width="4.98" height="4.88" fill="#b8f800"/><rect x="872.08" y="456.50" width="4.97" height="4.88" fill="#00e000"/><rect x="680.00" y="461.33" width="19.75" height="4.88" fill="#00e000"/><rect x="699.70" y="461.33" width="9.90" height="4.88" fill="#00c030"/><rect x="709.55" y="461.33" width="4.98" height="4.88" fill="#60e800"/><rect x="714.48" y="461.33" width="9.90" height="4.88" fill="#b8f800"/><rect x="724.33" y="461.33" width="4.97" height="4.88" fill="#00e000"/><rect x="729.25" y="461.33" width="4.97" height="4.88" fill="#b8f800"/><rect x="734.17" y="461.33" width="9.90" height="4.88" fill="#e0f400"/><rect x="744.02" y="461.33" width="4.98" height="4.88" fill="#60e800"/><rect x="748.95" y="461.33" width="9.90" height="4.88" fill="#00e000"/><rect x="758.80" y="461.33" width="14.83" height="4.88" fill="#00c030"/><rect x="773.58" y="461.33" width="9.90" height="4.88" fill="#00e000"/><rect x="783.42" y="461.33" width="4.98" height="4.88" fill="#00c030"/><rect x="788.35" y="461.33" width="4.97" height="4.88" fill="#b8f800"/><rect x="793.27" y="461.33" width="4.98" height="4.88" fill="#e0f400"/><rect x="798.20" y="461.33" width="4.97" height="4.88" fill="#f8d800"/><rect x="803.12" y="461.33" width="14.82" height="4.88" fill="#e0f400"/><rect x="817.90" y="461.33" width="4.98" height="4.88" fill="#60e800"/><rect x="822.83" y="461.33" width="4.97" height="4.88" fill="#00e000"/><rect x="827.75" y="461.33" width="9.90" height="4.88" fill="#b8f800"/><rect x="837.60" y="461.33" width="4.97" height="4.88" fill="#00c030"/><rect x="842.52" y="461.33" width="9.90" height="4.88" fill="#00b880"/><rect x="852.38" y="461.33" width="4.97" height="4.88" fill="#00c030"/><rect x="857.30" y="461.33" width="4.98" height="4.88" fill="#00e000"/><rect x="862.23" y="461.33" width="9.90" height="4.88" fill="#b8f800"/><rect x="872.08" y="461.33" width="4.97" height="4.88" fill="#00e000"/><rect x="680.00" y="466.17" width="29.60" height="4.88" fill="#00e000"/><rect x="709.55" y="466.17" width="4.98" height="4.88" fill="#b8f800"/><rect x="714.48" y="466.17" width="4.97" height="4.88" fill="#e0f400"/><rect x="719.40" y="466.17" width="4.98" height="4.88" fill="#b8f800"/><rect x="724.33" y="466.17" width="4.97" height="4.88" fill="#00c030"/><rect x="729.25" y="466.17" width="4.97" height="4.88" fill="#00e000"/><rect x="734.17" y="466.17" width="4.98" height="4.88" fill="#b8f800"/><rect x="739.10" y="466.17" width="9.90" height="4.88" fill="#60e800"/><rect x="748.95" y="466.17" width="9.90" height="4.88" fill="#00e000"/><rect x="758.80" y="466.17" width="14.83" height="4.88" fill="#00c030"/><rect x="773.58" y="466.17" width="9.90" height="4.88" fill="#00e000"/><rect x="783.42" y="466.17" width="4.98" height="4.88" fill="#00c030"/><rect x="788.35" y="466.17" width="9.90" height="4.88" fill="#e0f400"/><rect x="798.20" y="466.17" width="9.90" height="4.88" fill="#f8d800"/><rect x="808.05" y="466.17" width="9.90" height="4.88" fill="#e0f400"/><rect x="817.90" y="466.17" width="4.98" height="4.88" fill="#60e800"/><rect x="822.83" y="466.17" width="4.97" height="4.88" fill="#00c030"/><rect x="827.75" y="466.17" width="4.97" height="4.88" fill="#e0f400"/><rect x="832.67" y="466.17" width="4.98" height="4.88" fill="#b8f800"/><rect x="837.60" y="466.17" width="4.97" height="4.88" fill="#00c030"/><rect x="842.52" y="466.17" width="4.98" height="4.88" fill="#00b880"/><rect x="847.45" y="466.17" width="4.97" height="4.88" fill="#00c030"/><rect x="852.38" y="466.17" width="9.90" height="4.88" fill="#00e000"/><rect x="862.23" y="466.17" width="9.90" height="4.88" fill="#b8f800"/><rect x="872.08" y="466.17" width="4.97" height="4.88" fill="#00c030"/><rect x="680.00" y="471.00" width="24.68" height="4.88" fill="#00e000"/><rect x="704.62" y="471.00" width="4.97" height="4.88" fill="#60e800"/><rect x="709.55" y="471.00" width="4.98" height="4.88" fill="#b8f800"/><rect x="714.48" y="471.00" width="4.97" height="4.88" fill="#e0f400"/><rect x="719.40" y="471.00" width="4.98" height="4.88" fill="#b8f800"/><rect x="724.33" y="471.00" width="9.90" height="4.88" fill="#00c030"/><rect x="734.17" y="471.00" width="4.98" height="4.88" fill="#00e000"/><rect x="739.10" y="471.00" width="4.97" height="4.88" fill="#60e800"/><rect x="744.02" y="471.00" width="4.98" height="4.88" fill="#00e000"/><rect x="748.95" y="471.00" width="4.97" height="4.88" fill="#b8f800"/><rect x="753.88" y="471.00" width="9.90" height="4.88" fill="#00e000"/><rect x="763.73" y="471.00" width="9.90" height="4.88" fill="#00c030"/><rect x="773.58" y="471.00" width="9.90" height="4.88" fill="#00e000"/><rect x="783.42" y="471.00" width="4.98" height="4.88" fill="#00c030"/><rect x="788.35" y="471.00" width="4.97" height="4.88" fill="#b8f800"/><rect x="793.27" y="471.00" width="4.98" height="4.88" fill="#e0f400"/><rect x="798.20" y="471.00" width="4.97" height="4.88" fill="#f8d800"/><rect x="803.12" y="471.00" width="9.90" height="4.88" fill="#e0f400"/><rect x="812.98" y="471.00" width="9.90" height="4.88" fill="#b8f800"/><rect x="822.83" y="471.00" width="4.97" height="4.88" fill="#00e000"/><rect x="827.75" y="471.00" width="9.90" height="4.88" fill="#e0f400"/><rect x="837.60" y="471.00" width="14.82" height="4.88" fill="#00c030"/><rect x="852.38" y="471.00" width="4.97" height="4.88" fill="#b8f800"/><rect x="857.30" y="471.00" width="4.98" height="4.88" fill="#00e000"/><rect x="862.23" y="471.00" width="4.97" height="4.88" fill="#b8f800"/><rect x="867.15" y="471.00" width="4.98" height="4.88" fill="#00e000"/><rect x="872.08" y="471.00" width="4.97" height="4.88" fill="#00c030"/><rect x="680.00" y="475.83" width="4.97" height="4.88" fill="#60e800"/><rect x="684.92" y="475.83" width="14.83" height="4.88" fill="#00e000"/><rect x="699.70" y="475.83" width="9.90" height="4.88" fill="#60e800"/><rect x="709.55" y="475.83" width="4.98" height="4.88" fill="#b8f800"/><rect x="714.48" y="475.83" width="4.97" height="4.88" fill="#e0f400"/><rect x="719.40" y="475.83" width="4.98" height="4.88" fill="#00e000"/><rect x="724.33" y="475.83" width="9.90" height="4.88" fill="#00c030"/><rect x="734.17" y="475.83" width="9.90" height="4.88" fill="#00e000"/><rect x="744.02" y="475.83" width="4.98" height="4.88" fill="#60e800"/><rect x="748.95" y="475.83" width="4.97" height="4.88" fill="#b8f800"/><rect x="753.88" y="475.83" width="4.97" height="4.88" fill="#60e800"/><rect x="758.80" y="475.83" width="9.90" height="4.88" fill="#00e000"/><rect x="768.65" y="475.83" width="9.90" height="4.88" fill="#60e800"/><rect x="778.50" y="475.83" width="9.90" height="4.88" fill="#00e000"/><rect x="788.35" y="475.83" width="4.97" height="4.88" fill="#b8f800"/><rect x="793.27" y="475.83" width="14.82" height="4.88" fill="#e0f400"/><rect x="808.05" y="475.83" width="9.90" height="4.88" fill="#b8f800"/><rect x="817.90" y="475.83" width="4.98" height="4.88" fill="#00e000"/><rect x="822.83" y="475.83" width="4.97" height="4.88" fill="#b8f800"/><rect x="827.75" y="475.83" width="4.97" height="4.88" fill="#f8d800"/><rect x="832.67" y="475.83" width="4.98" height="4.88" fill="#e0f400"/><rect x="837.60" y="475.83" width="4.97" height="4.88" fill="#00e000"/><rect x="842.52" y="475.83" width="4.98" height="4.88" fill="#00c030"/><rect x="847.45" y="475.83" width="4.97" height="4.88" fill="#00e000"/><rect x="852.38" y="475.83" width="4.97" height="4.88" fill="#e0f400"/><rect x="857.30" y="475.83" width="4.98" height="4.88" fill="#00e000"/><rect x="862.23" y="475.83" width="14.82" height="4.88" fill="#00c030"/><rect x="680.00" y="480.67" width="4.97" height="4.88" fill="#60e800"/><rect x="684.92" y="480.67" width="14.83" height="4.88" fill="#00e000"/><rect x="699.70" y="480.67" width="4.97" height="4.88" fill="#60e800"/><rect x="704.62" y="480.67" width="9.90" height="4.88" fill="#b8f800"/><rect x="714.48" y="480.67" width="4.97" height="4.88" fill="#60e800"/><rect x="719.40" y="480.67" width="4.98" height="4.88" fill="#00e000"/><rect x="724.33" y="480.67" width="9.90" height="4.88" fill="#00c030"/><rect x="734.17" y="480.67" width="9.90" height="4.88" fill="#00e000"/><rect x="744.02" y="480.67" width="9.90" height="4.88" fill="#60e800"/><rect x="753.88" y="480.67" width="9.90" height="4.88" fill="#b8f800"/><rect x="763.73" y="480.67" width="4.97" height="4.88" fill="#00e000"/><rect x="768.65" y="480.67" width="14.82" height="4.88" fill="#60e800"/><rect x="783.42" y="480.67" width="4.98" height="4.88" fill="#00e000"/><rect x="788.35" y="480.67" width="4.97" height="4.88" fill="#b8f800"/><rect x="793.27" y="480.67" width="4.98" height="4.88" fill="#e0f400"/><rect x="798.20" y="480.67" width="9.90" height="4.88" fill="#b8f800"/><rect x="808.05" y="480.67" width="14.83" height="4.88" fill="#00e000"/><rect x="822.83" y="480.67" width="4.97" height="4.88" fill="#b8f800"/><rect x="827.75" y="480.67" width="9.90" height="4.88" fill="#f8d800"/><rect x="837.60" y="480.67" width="4.97" height="4.88" fill="#e0f400"/><rect x="842.52" y="480.67" width="4.98" height="4.88" fill="#b8f800"/><rect x="847.45" y="480.67" width="9.90" height="4.88" fill="#e0f400"/><rect x="857.30" y="480.67" width="4.98" height="4.88" fill="#00e000"/><rect x="862.23" y="480.67" width="14.82" height="4.88" fill="#00c030"/><rect x="680.00" y="485.50" width="4.97" height="4.88" fill="#60e800"/><rect x="684.92" y="485.50" width="14.83" height="4.88" fill="#00e000"/><rect x="699.70" y="485.50" width="4.97" height="4.88" fill="#60e800"/><rect x="704.62" y="485.50" width="9.90" height="4.88" fill="#b8f800"/><rect x="714.48" y="485.50" width="9.90" height="4.88" fill="#00e000"/><rect x="724.33" y="485.50" width="9.90" height="4.88" fill="#00c030"/><rect x="734.17" y="485.50" width="9.90" height="4.88" fill="#00e000"/><rect x="744.02" y="485.50" width="4.98" height="4.88" fill="#60e800"/><rect x="748.95" y="485.50" width="4.97" height="4.88" fill="#00e000"/><rect x="753.88" y="485.50" width="9.90" height="4.88" fill="#b8f800"/><rect x="763.73" y="485.50" width="4.97" height="4.88" fill="#60e800"/><rect x="768.65" y="485.50" width="4.98" height="4.88" fill="#00e000"/><rect x="773.58" y="485.50" width="9.90" height="4.88" fill="#60e800"/><rect x="783.42" y="485.50" width="4.98" height="4.88" fill="#00e000"/><rect x="788.35" y="485.50" width="14.82" height="4.88" fill="#b8f800"/><rect x="803.12" y="485.50" width="4.97" height="4.88" fill="#00e000"/><rect x="808.05" y="485.50" width="9.90" height="4.88" fill="#00c030"/><rect x="817.90" y="485.50" width="4.98" height="4.88" fill="#00e000"/><rect x="822.83" y="485.50" width="4.97" height="4.88" fill="#b8f800"/><rect x="827.75" y="485.50" width="9.90" height="4.88" fill="#f8d800"/><rect x="837.60" y="485.50" width="19.75" height="4.88" fill="#e0f400"/><rect x="857.30" y="485.50" width="4.98" height="4.88" fill="#00e000"/><rect x="862.23" y="485.50" width="9.90" height="4.88" fill="#00c030"/><rect x="872.08" y="485.50" width="4.97" height="4.88" fill="#00e000"/><rect x="680.00" y="490.33" width="4.97" height="4.88" fill="#60e800"/><rect x="684.92" y="490.33" width="4.98" height="4.88" fill="#00e000"/><rect x="689.85" y="490.33" width="4.97" height="4.88" fill="#60e800"/><rect x="694.77" y="490.33" width="4.98" height="4.88" fill="#00e000"/><rect x="699.70" y="490.33" width="4.97" height="4.88" fill="#60e800"/><rect x="704.62" y="490.33" width="9.90" height="4.88" fill="#b8f800"/><rect x="714.48" y="490.33" width="9.90" height="4.88" fill="#00e000"/><rect x="724.33" y="490.33" width="4.97" height="4.88" fill="#00c030"/><rect x="729.25" y="490.33" width="14.82" height="4.88" fill="#00e000"/><rect x="744.02" y="490.33" width="4.98" height="4.88" fill="#60e800"/><rect x="748.95" y="490.33" width="4.97" height="4.88" fill="#00e000"/><rect x="753.88" y="490.33" width="4.97" height="4.88" fill="#b8f800"/><rect x="758.80" y="490.33" width="14.83" height="4.88" fill="#00e000"/><rect x="773.58" y="490.33" width="4.97" height="4.88" fill="#60e800"/><rect x="778.50" y="490.33" width="19.75" height="4.88" fill="#b8f800"/><rect x="798.20" y="490.33" width="4.97" height="4.88" fill="#00e000"/><rect x="803.12" y="490.33" width="14.82" height="4.88" fill="#00c030"/><rect x="817.90" y="490.33" width="4.98" height="4.88" fill="#00e000"/><rect x="822.83" y="490.33" width="4.97" height="4.88" fill="#b8f800"/><rect x="827.75" y="490.33" width="29.60" height="4.88" fill="#e0f400"/><rect x="857.30" y="490.33" width="4.98" height="4.88" fill="#00e000"/><rect x="862.23" y="490.33" width="4.97" height="4.88" fill="#00c030"/><rect x="867.15" y="490.33" width="9.90" height="4.88" fill="#00e000"/><rect x="680.00" y="495.17" width="4.97" height="4.88" fill="#00e000"/><rect x="684.92" y="495.17" width="9.90" height="4.88" fill="#60e800"/><rect x="694.77" y="495.17" width="4.98" height="4.88" fill="#00e000"/><rect x="699.70" y="495.17" width="4.97" height="4.88" fill="#60e800"/><rect x="704.62" y="495.17" width="4.97" height="4.88" fill="#b8f800"/><rect x="709.55" y="495.17" width="4.98" height="4.88" fill="#e0f400"/><rect x="714.48" y="495.17" width="9.90" height="4.88" fill="#00e000"/><rect x="724.33" y="495.17" width="4.97" height="4.88" fill="#00c030"/><rect x="729.25" y="495.17" width="4.97" height="4.88" fill="#00e000"/><rect x="734.17" y="495.17" width="4.98" height="4.88" fill="#60e800"/><rect x="739.10" y="495.17" width="4.97" height="4.88" fill="#00e000"/><rect x="744.02" y="495.17" width="4.98" height="4.88" fill="#60e800"/><rect x="748.95" y="495.17" width="4.97" height="4.88" fill="#00e000"/><rect x="753.88" y="495.17" width="4.97" height="4.88" fill="#60e800"/><rect x="758.80" y="495.17" width="14.83" height="4.88" fill="#00e000"/><rect x="773.58" y="495.17" width="4.97" height="4.88" fill="#60e800"/><rect x="778.50" y="495.17" width="14.82" height="4.88" fill="#b8f800"/><rect x="793.27" y="495.17" width="9.90" height="4.88" fill="#00e000"/><rect x="803.12" y="495.17" width="9.90" height="4.88" fill="#00c030"/><rect x="812.98" y="495.17" width="9.90" height="4.88" fill="#00e000"/><rect x="822.83" y="495.17" width="9.90" height="4.88" fill="#b8f800"/><rect x="832.67" y="495.17" width="4.98" height="4.88" fill="#00e000"/><rect x="837.60" y="495.17" width="4.97" height="4.88" fill="#b8f800"/><rect x="842.52" y="495.17" width="14.82" height="4.88" fill="#e0f400"/><rect x="857.30" y="495.17" width="4.98" height="4.88" fill="#00e000"/><rect x="862.23" y="495.17" width="14.82" height="4.88" fill="#b8f800"/></g>
<circle cx="778.5" cy="441.5" r="5" fill="none" stroke="#000" stroke-width="1.1"/>
<path d="M749.6 392 L749.2 396 L748.6 398.5" fill="none" stroke="#000" stroke-width="1.8"/>
<circle cx="857" cy="354.8" r="1.4" fill="none" stroke="#000" stroke-width="1.3"/>
<rect x="679" y="325" width="199" height="1" fill="#000"/>
<rect x="679" y="557" width="199" height="1" fill="#000"/>
<rect x="679" y="325" width="1" height="233" fill="#000"/>
<rect x="877" y="325" width="1" height="233" fill="#000"/>
<rect x="707" y="322" width="1" height="3" fill="#000"/>
<rect x="707" y="558" width="1" height="2" fill="#000"/>
<rect x="760" y="322" width="1" height="3" fill="#000"/>
<rect x="760" y="558" width="1" height="2" fill="#000"/>
<rect x="813" y="322" width="1" height="3" fill="#000"/>
<rect x="813" y="558" width="1" height="2" fill="#000"/>
<rect x="865" y="322" width="1" height="3" fill="#000"/>
<rect x="865" y="558" width="1" height="2" fill="#000"/>
<rect x="677" y="344" width="2" height="1" fill="#000"/>
<rect x="878" y="344" width="2" height="1" fill="#000"/>
<text x="674" y="347.5" font-size="12" font-weight="bold" text-anchor="end" >-52</text>
<rect x="677" y="383" width="2" height="1" fill="#000"/>
<rect x="878" y="383" width="2" height="1" fill="#000"/>
<text x="674" y="386.5" font-size="12" font-weight="bold" text-anchor="end" >-54</text>
<rect x="677" y="422" width="2" height="1" fill="#000"/>
<rect x="878" y="422" width="2" height="1" fill="#000"/>
<text x="674" y="425.5" font-size="12" font-weight="bold" text-anchor="end" >-56</text>
<rect x="677" y="460" width="2" height="1" fill="#000"/>
<rect x="878" y="460" width="2" height="1" fill="#000"/>
<text x="674" y="463.5" font-size="12" font-weight="bold" text-anchor="end" >-58</text>
<rect x="677" y="499" width="2" height="1" fill="#000"/>
<rect x="878" y="499" width="2" height="1" fill="#000"/>
<text x="674" y="502.5" font-size="12" font-weight="bold" text-anchor="end" >-60</text>
<rect x="677" y="538" width="2" height="1" fill="#000"/>
<rect x="878" y="538" width="2" height="1" fill="#000"/>
<text x="674" y="541.5" font-size="12" font-weight="bold" text-anchor="end" >-62</text>
<text x="707.5" y="574" font-size="12" font-weight="bold" text-anchor="middle" >155</text>
<text x="760.5" y="574" font-size="12" font-weight="bold" text-anchor="middle" >160</text>
<text x="813.5" y="574" font-size="12" font-weight="bold" text-anchor="middle" >165</text>
<text x="865.5" y="574" font-size="12" font-weight="bold" text-anchor="middle" >170</text>
<text x="776" y="26" font-size="13" font-weight="bold" text-anchor="middle" >sat. SST: 1.55 Argo: 1.51</text>
<text x="744.3" y="302" font-size="12.47" font-weight="bold" text-anchor="middle" >Altim. SLA: 0.03</text>
<text x="776.3" y="316" font-size="12.6" font-weight="bold" text-anchor="middle" >Argo h1000: -0.024 h2000: -0.038</text>
<text transform="translate(889 546) rotate(-90)" font-size="12.6" font-weight="normal">©IMOS 20-Dec-2018 06:34:29</text>
</svg></body></html>
